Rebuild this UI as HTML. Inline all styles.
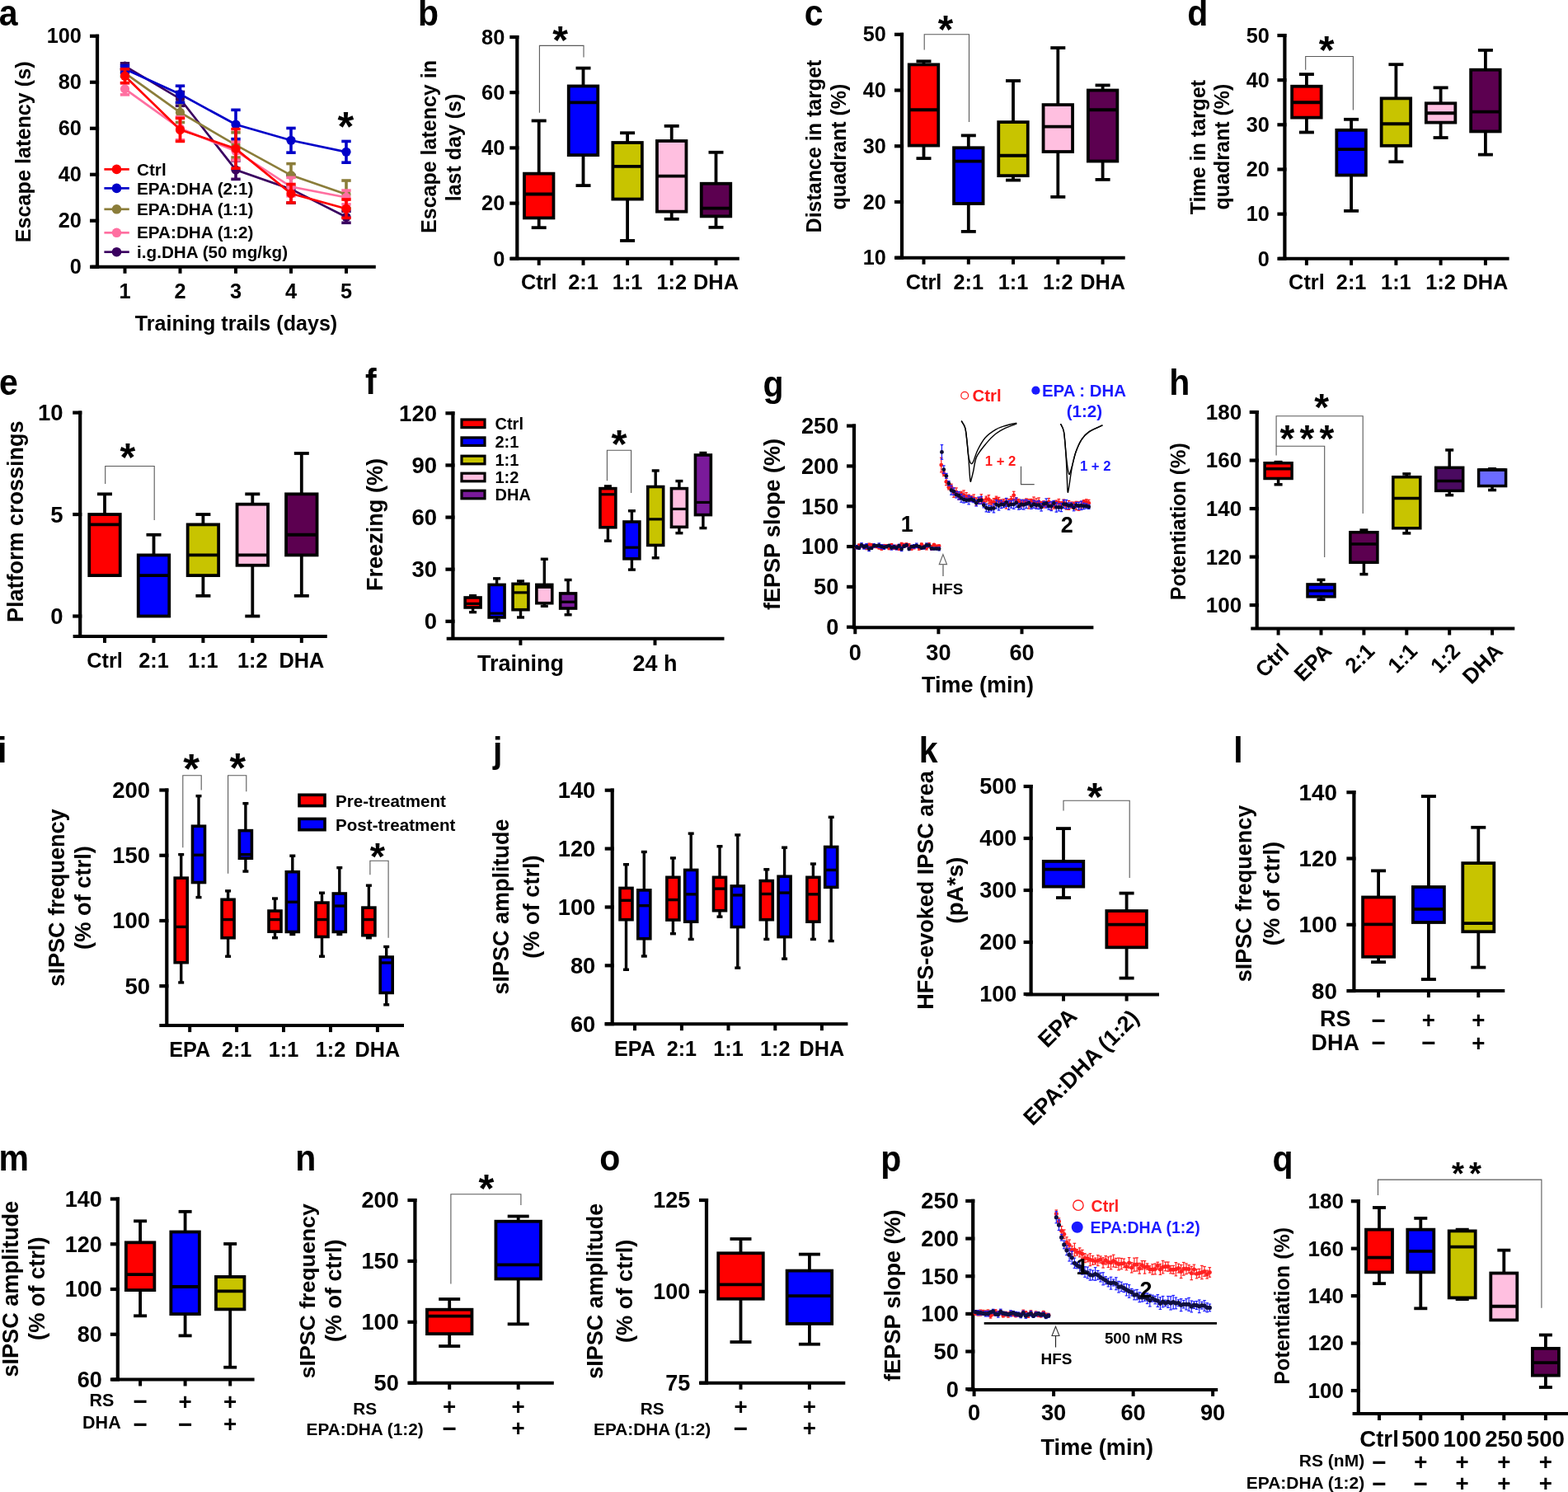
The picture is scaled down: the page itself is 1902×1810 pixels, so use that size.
<!DOCTYPE html>
<html><head><meta charset="utf-8"><title>Figure</title>
<style>html,body{margin:0;padding:0;background:#fff;overflow:hidden}svg{display:block}
text{font-family:"Liberation Sans",Arial,Helvetica,sans-serif;font-weight:bold}</style></head>
<body><svg xmlns="http://www.w3.org/2000/svg" width="1902" height="1810" viewBox="0 0 1902 1810">
<rect width="1902" height="1810" fill="#fff"/>
<text transform="translate(-1.20 30.70) scale(1 1.07)" font-size="41">a</text>
<line x1="118.00" y1="41.65" x2="118.00" y2="323.75" stroke="#000" stroke-width="4.2"/>
<line x1="109.00" y1="43.75" x2="120.10" y2="43.75" stroke="#000" stroke-width="4.2"/>
<text x="98.90" y="52.45" font-size="25.3" text-anchor="end">100</text>
<line x1="109.00" y1="99.75" x2="120.10" y2="99.75" stroke="#000" stroke-width="4.2"/>
<text x="98.90" y="108.45" font-size="25.3" text-anchor="end">80</text>
<line x1="109.00" y1="155.75" x2="120.10" y2="155.75" stroke="#000" stroke-width="4.2"/>
<text x="98.90" y="164.45" font-size="25.3" text-anchor="end">60</text>
<line x1="109.00" y1="211.75" x2="120.10" y2="211.75" stroke="#000" stroke-width="4.2"/>
<text x="98.90" y="220.45" font-size="25.3" text-anchor="end">40</text>
<line x1="109.00" y1="267.75" x2="120.10" y2="267.75" stroke="#000" stroke-width="4.2"/>
<text x="98.90" y="276.45" font-size="25.3" text-anchor="end">20</text>
<line x1="109.00" y1="323.75" x2="120.10" y2="323.75" stroke="#000" stroke-width="4.2"/>
<text x="98.90" y="332.45" font-size="25.3" text-anchor="end">0</text>
<line x1="110.60" y1="323.75" x2="455.80" y2="323.75" stroke="#000" stroke-width="4"/>
<line x1="151.50" y1="323.75" x2="151.50" y2="331.75" stroke="#000" stroke-width="4"/>
<text x="151.50" y="361.90" font-size="25.3" text-anchor="middle">1</text>
<line x1="218.50" y1="323.75" x2="218.50" y2="331.75" stroke="#000" stroke-width="4"/>
<text x="218.50" y="361.90" font-size="25.3" text-anchor="middle">2</text>
<line x1="286.00" y1="323.75" x2="286.00" y2="331.75" stroke="#000" stroke-width="4"/>
<text x="286.00" y="361.90" font-size="25.3" text-anchor="middle">3</text>
<line x1="353.00" y1="323.75" x2="353.00" y2="331.75" stroke="#000" stroke-width="4"/>
<text x="353.00" y="361.90" font-size="25.3" text-anchor="middle">4</text>
<line x1="420.00" y1="323.75" x2="420.00" y2="331.75" stroke="#000" stroke-width="4"/>
<text x="420.00" y="361.90" font-size="25.3" text-anchor="middle">5</text>
<text x="286.50" y="401.30" font-size="25.1" text-anchor="middle">Training trails (days)</text>
<text x="36.90" y="184.30" font-size="25.2" text-anchor="middle" transform="rotate(-90 36.90 184.30)">Escape latency (s)</text>
<polyline points="151.50,80.15 218.50,119.91 286.00,206.15 353.00,229.39 420.00,263.27" fill="none" stroke="#3a0060" stroke-width="2.7"/>
<line x1="151.50" y1="76.79" x2="151.50" y2="83.51" stroke="#3a0060" stroke-width="3.6"/>
<line x1="145.80" y1="76.79" x2="157.20" y2="76.79" stroke="#3a0060" stroke-width="3.6"/>
<line x1="145.80" y1="83.51" x2="157.20" y2="83.51" stroke="#3a0060" stroke-width="3.6"/>
<circle cx="151.50" cy="80.15" r="5.60" fill="#3a0060" stroke="none" stroke-width="1"/>
<line x1="218.50" y1="111.51" x2="218.50" y2="128.31" stroke="#3a0060" stroke-width="3.6"/>
<line x1="212.80" y1="111.51" x2="224.20" y2="111.51" stroke="#3a0060" stroke-width="3.6"/>
<line x1="212.80" y1="128.31" x2="224.20" y2="128.31" stroke="#3a0060" stroke-width="3.6"/>
<circle cx="218.50" cy="119.91" r="5.60" fill="#3a0060" stroke="none" stroke-width="1"/>
<line x1="286.00" y1="194.95" x2="286.00" y2="217.35" stroke="#3a0060" stroke-width="3.6"/>
<line x1="280.30" y1="194.95" x2="291.70" y2="194.95" stroke="#3a0060" stroke-width="3.6"/>
<line x1="280.30" y1="217.35" x2="291.70" y2="217.35" stroke="#3a0060" stroke-width="3.6"/>
<circle cx="286.00" cy="206.15" r="5.60" fill="#3a0060" stroke="none" stroke-width="1"/>
<line x1="353.00" y1="212.59" x2="353.00" y2="246.19" stroke="#3a0060" stroke-width="3.6"/>
<line x1="347.30" y1="212.59" x2="358.70" y2="212.59" stroke="#3a0060" stroke-width="3.6"/>
<line x1="347.30" y1="246.19" x2="358.70" y2="246.19" stroke="#3a0060" stroke-width="3.6"/>
<circle cx="353.00" cy="229.39" r="5.60" fill="#3a0060" stroke="none" stroke-width="1"/>
<line x1="420.00" y1="256.27" x2="420.00" y2="270.27" stroke="#3a0060" stroke-width="3.6"/>
<line x1="414.30" y1="256.27" x2="425.70" y2="256.27" stroke="#3a0060" stroke-width="3.6"/>
<line x1="414.30" y1="270.27" x2="425.70" y2="270.27" stroke="#3a0060" stroke-width="3.6"/>
<circle cx="420.00" cy="263.27" r="5.60" fill="#3a0060" stroke="none" stroke-width="1"/>
<polyline points="151.50,88.55 218.50,136.43 286.00,175.91 353.00,212.59 420.00,235.83" fill="none" stroke="#8b7d3a" stroke-width="2.7"/>
<line x1="151.50" y1="84.35" x2="151.50" y2="92.75" stroke="#8b7d3a" stroke-width="3.6"/>
<line x1="145.80" y1="84.35" x2="157.20" y2="84.35" stroke="#8b7d3a" stroke-width="3.6"/>
<line x1="145.80" y1="92.75" x2="157.20" y2="92.75" stroke="#8b7d3a" stroke-width="3.6"/>
<circle cx="151.50" cy="88.55" r="5.60" fill="#8b7d3a" stroke="none" stroke-width="1"/>
<line x1="218.50" y1="124.39" x2="218.50" y2="148.47" stroke="#8b7d3a" stroke-width="3.6"/>
<line x1="212.80" y1="124.39" x2="224.20" y2="124.39" stroke="#8b7d3a" stroke-width="3.6"/>
<line x1="212.80" y1="148.47" x2="224.20" y2="148.47" stroke="#8b7d3a" stroke-width="3.6"/>
<circle cx="218.50" cy="136.43" r="5.60" fill="#8b7d3a" stroke="none" stroke-width="1"/>
<line x1="286.00" y1="160.79" x2="286.00" y2="191.03" stroke="#8b7d3a" stroke-width="3.6"/>
<line x1="280.30" y1="160.79" x2="291.70" y2="160.79" stroke="#8b7d3a" stroke-width="3.6"/>
<line x1="280.30" y1="191.03" x2="291.70" y2="191.03" stroke="#8b7d3a" stroke-width="3.6"/>
<circle cx="286.00" cy="175.91" r="5.60" fill="#8b7d3a" stroke="none" stroke-width="1"/>
<line x1="353.00" y1="198.59" x2="353.00" y2="226.59" stroke="#8b7d3a" stroke-width="3.6"/>
<line x1="347.30" y1="198.59" x2="358.70" y2="198.59" stroke="#8b7d3a" stroke-width="3.6"/>
<line x1="347.30" y1="226.59" x2="358.70" y2="226.59" stroke="#8b7d3a" stroke-width="3.6"/>
<circle cx="353.00" cy="212.59" r="5.60" fill="#8b7d3a" stroke="none" stroke-width="1"/>
<line x1="420.00" y1="219.03" x2="420.00" y2="252.63" stroke="#8b7d3a" stroke-width="3.6"/>
<line x1="414.30" y1="219.03" x2="425.70" y2="219.03" stroke="#8b7d3a" stroke-width="3.6"/>
<line x1="414.30" y1="252.63" x2="425.70" y2="252.63" stroke="#8b7d3a" stroke-width="3.6"/>
<circle cx="420.00" cy="235.83" r="5.60" fill="#8b7d3a" stroke="none" stroke-width="1"/>
<polyline points="151.50,107.87 218.50,155.75 286.00,183.19 353.00,226.59 420.00,239.47" fill="none" stroke="#ff6fa0" stroke-width="2.7"/>
<line x1="151.50" y1="100.87" x2="151.50" y2="114.87" stroke="#ff6fa0" stroke-width="3.6"/>
<line x1="145.80" y1="100.87" x2="157.20" y2="100.87" stroke="#ff6fa0" stroke-width="3.6"/>
<line x1="145.80" y1="114.87" x2="157.20" y2="114.87" stroke="#ff6fa0" stroke-width="3.6"/>
<circle cx="151.50" cy="107.87" r="5.60" fill="#ff6fa0" stroke="none" stroke-width="1"/>
<line x1="218.50" y1="141.75" x2="218.50" y2="169.75" stroke="#ff6fa0" stroke-width="3.6"/>
<line x1="212.80" y1="141.75" x2="224.20" y2="141.75" stroke="#ff6fa0" stroke-width="3.6"/>
<line x1="212.80" y1="169.75" x2="224.20" y2="169.75" stroke="#ff6fa0" stroke-width="3.6"/>
<circle cx="218.50" cy="155.75" r="5.60" fill="#ff6fa0" stroke="none" stroke-width="1"/>
<line x1="286.00" y1="171.99" x2="286.00" y2="194.39" stroke="#ff6fa0" stroke-width="3.6"/>
<line x1="280.30" y1="171.99" x2="291.70" y2="171.99" stroke="#ff6fa0" stroke-width="3.6"/>
<line x1="280.30" y1="194.39" x2="291.70" y2="194.39" stroke="#ff6fa0" stroke-width="3.6"/>
<circle cx="286.00" cy="183.19" r="5.60" fill="#ff6fa0" stroke="none" stroke-width="1"/>
<line x1="353.00" y1="215.39" x2="353.00" y2="237.79" stroke="#ff6fa0" stroke-width="3.6"/>
<line x1="347.30" y1="215.39" x2="358.70" y2="215.39" stroke="#ff6fa0" stroke-width="3.6"/>
<line x1="347.30" y1="237.79" x2="358.70" y2="237.79" stroke="#ff6fa0" stroke-width="3.6"/>
<circle cx="353.00" cy="226.59" r="5.60" fill="#ff6fa0" stroke="none" stroke-width="1"/>
<line x1="420.00" y1="231.07" x2="420.00" y2="247.87" stroke="#ff6fa0" stroke-width="3.6"/>
<line x1="414.30" y1="231.07" x2="425.70" y2="231.07" stroke="#ff6fa0" stroke-width="3.6"/>
<line x1="414.30" y1="247.87" x2="425.70" y2="247.87" stroke="#ff6fa0" stroke-width="3.6"/>
<circle cx="420.00" cy="239.47" r="5.60" fill="#ff6fa0" stroke="none" stroke-width="1"/>
<polyline points="151.50,83.79 218.50,114.31 286.00,150.99 353.00,170.31 420.00,184.31" fill="none" stroke="#0000c8" stroke-width="2.7"/>
<line x1="151.50" y1="79.59" x2="151.50" y2="87.99" stroke="#0000c8" stroke-width="3.6"/>
<line x1="145.80" y1="79.59" x2="157.20" y2="79.59" stroke="#0000c8" stroke-width="3.6"/>
<line x1="145.80" y1="87.99" x2="157.20" y2="87.99" stroke="#0000c8" stroke-width="3.6"/>
<circle cx="151.50" cy="83.79" r="5.60" fill="#0000c8" stroke="none" stroke-width="1"/>
<line x1="218.50" y1="104.23" x2="218.50" y2="124.39" stroke="#0000c8" stroke-width="3.6"/>
<line x1="212.80" y1="104.23" x2="224.20" y2="104.23" stroke="#0000c8" stroke-width="3.6"/>
<line x1="212.80" y1="124.39" x2="224.20" y2="124.39" stroke="#0000c8" stroke-width="3.6"/>
<circle cx="218.50" cy="114.31" r="5.60" fill="#0000c8" stroke="none" stroke-width="1"/>
<line x1="286.00" y1="133.35" x2="286.00" y2="168.63" stroke="#0000c8" stroke-width="3.6"/>
<line x1="280.30" y1="133.35" x2="291.70" y2="133.35" stroke="#0000c8" stroke-width="3.6"/>
<line x1="280.30" y1="168.63" x2="291.70" y2="168.63" stroke="#0000c8" stroke-width="3.6"/>
<circle cx="286.00" cy="150.99" r="5.60" fill="#0000c8" stroke="none" stroke-width="1"/>
<line x1="353.00" y1="155.47" x2="353.00" y2="185.15" stroke="#0000c8" stroke-width="3.6"/>
<line x1="347.30" y1="155.47" x2="358.70" y2="155.47" stroke="#0000c8" stroke-width="3.6"/>
<line x1="347.30" y1="185.15" x2="358.70" y2="185.15" stroke="#0000c8" stroke-width="3.6"/>
<circle cx="353.00" cy="170.31" r="5.60" fill="#0000c8" stroke="none" stroke-width="1"/>
<line x1="420.00" y1="171.43" x2="420.00" y2="197.19" stroke="#0000c8" stroke-width="3.6"/>
<line x1="414.30" y1="171.43" x2="425.70" y2="171.43" stroke="#0000c8" stroke-width="3.6"/>
<line x1="414.30" y1="197.19" x2="425.70" y2="197.19" stroke="#0000c8" stroke-width="3.6"/>
<circle cx="420.00" cy="184.31" r="5.60" fill="#0000c8" stroke="none" stroke-width="1"/>
<polyline points="151.50,92.19 218.50,157.43 286.00,180.39 353.00,234.71 420.00,253.19" fill="none" stroke="#ff0000" stroke-width="2.7"/>
<line x1="151.50" y1="83.79" x2="151.50" y2="100.59" stroke="#ff0000" stroke-width="3.6"/>
<line x1="145.80" y1="83.79" x2="157.20" y2="83.79" stroke="#ff0000" stroke-width="3.6"/>
<line x1="145.80" y1="100.59" x2="157.20" y2="100.59" stroke="#ff0000" stroke-width="3.6"/>
<circle cx="151.50" cy="92.19" r="5.60" fill="#ff0000" stroke="none" stroke-width="1"/>
<line x1="218.50" y1="143.43" x2="218.50" y2="171.43" stroke="#ff0000" stroke-width="3.6"/>
<line x1="212.80" y1="143.43" x2="224.20" y2="143.43" stroke="#ff0000" stroke-width="3.6"/>
<line x1="212.80" y1="171.43" x2="224.20" y2="171.43" stroke="#ff0000" stroke-width="3.6"/>
<circle cx="218.50" cy="157.43" r="5.60" fill="#ff0000" stroke="none" stroke-width="1"/>
<line x1="286.00" y1="156.59" x2="286.00" y2="204.19" stroke="#ff0000" stroke-width="3.6"/>
<line x1="280.30" y1="156.59" x2="291.70" y2="156.59" stroke="#ff0000" stroke-width="3.6"/>
<line x1="280.30" y1="204.19" x2="291.70" y2="204.19" stroke="#ff0000" stroke-width="3.6"/>
<circle cx="286.00" cy="180.39" r="5.60" fill="#ff0000" stroke="none" stroke-width="1"/>
<line x1="353.00" y1="223.51" x2="353.00" y2="245.91" stroke="#ff0000" stroke-width="3.6"/>
<line x1="347.30" y1="223.51" x2="358.70" y2="223.51" stroke="#ff0000" stroke-width="3.6"/>
<line x1="347.30" y1="245.91" x2="358.70" y2="245.91" stroke="#ff0000" stroke-width="3.6"/>
<circle cx="353.00" cy="234.71" r="5.60" fill="#ff0000" stroke="none" stroke-width="1"/>
<line x1="420.00" y1="241.99" x2="420.00" y2="264.39" stroke="#ff0000" stroke-width="3.6"/>
<line x1="414.30" y1="241.99" x2="425.70" y2="241.99" stroke="#ff0000" stroke-width="3.6"/>
<line x1="414.30" y1="264.39" x2="425.70" y2="264.39" stroke="#ff0000" stroke-width="3.6"/>
<circle cx="420.00" cy="253.19" r="5.60" fill="#ff0000" stroke="none" stroke-width="1"/>
<text x="419.30" y="170.85" font-size="50.8" text-anchor="middle">*</text>
<line x1="126.40" y1="205.40" x2="156.80" y2="205.40" stroke="#ff0000" stroke-width="2.7"/>
<circle cx="141.50" cy="205.40" r="5.80" fill="#ff0000" stroke="none" stroke-width="1"/>
<text x="166.00" y="212.52" font-size="20.7">Ctrl</text>
<line x1="126.40" y1="228.40" x2="156.80" y2="228.40" stroke="#0000c8" stroke-width="2.7"/>
<circle cx="141.50" cy="228.40" r="5.80" fill="#0000c8" stroke="none" stroke-width="1"/>
<text x="166.00" y="235.52" font-size="20.7">EPA:DHA (2:1)</text>
<line x1="126.40" y1="253.80" x2="156.80" y2="253.80" stroke="#8b7d3a" stroke-width="2.7"/>
<circle cx="141.50" cy="253.80" r="5.80" fill="#8b7d3a" stroke="none" stroke-width="1"/>
<text x="166.00" y="260.92" font-size="20.7">EPA:DHA (1:1)</text>
<line x1="126.40" y1="282.30" x2="156.80" y2="282.30" stroke="#ff6fa0" stroke-width="2.7"/>
<circle cx="141.50" cy="282.30" r="5.80" fill="#ff6fa0" stroke="none" stroke-width="1"/>
<text x="166.00" y="289.42" font-size="20.7">EPA:DHA (1:2)</text>
<line x1="126.40" y1="305.70" x2="156.80" y2="305.70" stroke="#3a0060" stroke-width="2.7"/>
<circle cx="141.50" cy="305.70" r="5.80" fill="#3a0060" stroke="none" stroke-width="1"/>
<text x="166.00" y="312.82" font-size="20.7">i.g.DHA (50 mg/kg)</text>
<text transform="translate(506.90 30.70) scale(1 1.07)" font-size="41">b</text>
<line x1="627.30" y1="42.90" x2="627.30" y2="313.80" stroke="#000" stroke-width="4.2"/>
<line x1="618.30" y1="45.00" x2="629.40" y2="45.00" stroke="#000" stroke-width="4.2"/>
<text x="612.30" y="53.74" font-size="25.4" text-anchor="end">80</text>
<line x1="618.30" y1="112.20" x2="629.40" y2="112.20" stroke="#000" stroke-width="4.2"/>
<text x="612.30" y="120.94" font-size="25.4" text-anchor="end">60</text>
<line x1="618.30" y1="179.40" x2="629.40" y2="179.40" stroke="#000" stroke-width="4.2"/>
<text x="612.30" y="188.14" font-size="25.4" text-anchor="end">40</text>
<line x1="618.30" y1="246.60" x2="629.40" y2="246.60" stroke="#000" stroke-width="4.2"/>
<text x="612.30" y="255.34" font-size="25.4" text-anchor="end">20</text>
<line x1="618.30" y1="313.80" x2="629.40" y2="313.80" stroke="#000" stroke-width="4.2"/>
<text x="612.30" y="322.54" font-size="25.4" text-anchor="end">0</text>
<line x1="619.10" y1="313.80" x2="896.80" y2="313.80" stroke="#000" stroke-width="4"/>
<line x1="653.70" y1="313.80" x2="653.70" y2="321.80" stroke="#000" stroke-width="4"/>
<text x="653.70" y="351.30" font-size="25.3" text-anchor="middle">Ctrl</text>
<line x1="707.50" y1="313.80" x2="707.50" y2="321.80" stroke="#000" stroke-width="4"/>
<text x="707.50" y="351.30" font-size="25.3" text-anchor="middle">2:1</text>
<line x1="761.10" y1="313.80" x2="761.10" y2="321.80" stroke="#000" stroke-width="4"/>
<text x="761.10" y="351.30" font-size="25.3" text-anchor="middle">1:1</text>
<line x1="814.70" y1="313.80" x2="814.70" y2="321.80" stroke="#000" stroke-width="4"/>
<text x="814.70" y="351.30" font-size="25.3" text-anchor="middle">1:2</text>
<line x1="868.50" y1="313.80" x2="868.50" y2="321.80" stroke="#000" stroke-width="4"/>
<text x="868.50" y="351.30" font-size="25.3" text-anchor="middle">DHA</text>
<text x="529.40" y="178.00" font-size="25" text-anchor="middle" transform="rotate(-90 529.40 178.00)">Escape latency in</text>
<text x="559.15" y="179.00" font-size="25" text-anchor="middle" transform="rotate(-90 559.15 179.00)">last day (s)</text>
<line x1="653.70" y1="146.47" x2="653.70" y2="210.65" stroke="#000" stroke-width="3.8"/>
<line x1="644.70" y1="146.47" x2="662.70" y2="146.47" stroke="#000" stroke-width="3.8"/>
<line x1="653.70" y1="264.41" x2="653.70" y2="276.17" stroke="#000" stroke-width="3.8"/>
<line x1="644.70" y1="276.17" x2="662.70" y2="276.17" stroke="#000" stroke-width="3.8"/>
<rect x="635.95" y="210.65" width="35.50" height="53.76" fill="#ff0000" stroke="#000" stroke-width="3.8"/>
<line x1="635.95" y1="235.51" x2="671.45" y2="235.51" stroke="#000" stroke-width="3.8"/>
<line x1="707.50" y1="82.63" x2="707.50" y2="104.47" stroke="#000" stroke-width="3.8"/>
<line x1="698.50" y1="82.63" x2="716.50" y2="82.63" stroke="#000" stroke-width="3.8"/>
<line x1="707.50" y1="188.14" x2="707.50" y2="225.10" stroke="#000" stroke-width="3.8"/>
<line x1="698.50" y1="225.10" x2="716.50" y2="225.10" stroke="#000" stroke-width="3.8"/>
<rect x="689.75" y="104.47" width="35.50" height="83.66" fill="#0000ff" stroke="#000" stroke-width="3.8"/>
<line x1="689.75" y1="124.30" x2="725.25" y2="124.30" stroke="#000" stroke-width="3.8"/>
<line x1="761.10" y1="161.26" x2="761.10" y2="173.02" stroke="#000" stroke-width="3.8"/>
<line x1="752.10" y1="161.26" x2="770.10" y2="161.26" stroke="#000" stroke-width="3.8"/>
<line x1="761.10" y1="241.56" x2="761.10" y2="291.96" stroke="#000" stroke-width="3.8"/>
<line x1="752.10" y1="291.96" x2="770.10" y2="291.96" stroke="#000" stroke-width="3.8"/>
<rect x="743.35" y="173.02" width="35.50" height="68.54" fill="#c8c400" stroke="#000" stroke-width="3.8"/>
<line x1="743.35" y1="201.91" x2="778.85" y2="201.91" stroke="#000" stroke-width="3.8"/>
<line x1="814.70" y1="152.86" x2="814.70" y2="171.00" stroke="#000" stroke-width="3.8"/>
<line x1="805.70" y1="152.86" x2="823.70" y2="152.86" stroke="#000" stroke-width="3.8"/>
<line x1="814.70" y1="256.68" x2="814.70" y2="265.75" stroke="#000" stroke-width="3.8"/>
<line x1="805.70" y1="265.75" x2="823.70" y2="265.75" stroke="#000" stroke-width="3.8"/>
<rect x="796.95" y="171.00" width="35.50" height="85.68" fill="#ffbfe0" stroke="#000" stroke-width="3.8"/>
<line x1="796.95" y1="213.67" x2="832.45" y2="213.67" stroke="#000" stroke-width="3.8"/>
<line x1="868.50" y1="184.78" x2="868.50" y2="222.74" stroke="#000" stroke-width="3.8"/>
<line x1="859.50" y1="184.78" x2="877.50" y2="184.78" stroke="#000" stroke-width="3.8"/>
<line x1="868.50" y1="262.39" x2="868.50" y2="275.83" stroke="#000" stroke-width="3.8"/>
<line x1="859.50" y1="275.83" x2="877.50" y2="275.83" stroke="#000" stroke-width="3.8"/>
<rect x="850.75" y="222.74" width="35.50" height="39.65" fill="#5c0050" stroke="#000" stroke-width="3.8"/>
<line x1="850.75" y1="252.65" x2="886.25" y2="252.65" stroke="#000" stroke-width="3.8"/>
<path d="M654.40,136.80 V55.40 H708.00 V69.60" stroke="#5a5a5a" stroke-width="1.1" fill="none"/>
<text x="679.50" y="65.10" font-size="48.11" text-anchor="middle">*</text>
<text transform="translate(975.80 30.70) scale(1 1.07)" font-size="41">c</text>
<line x1="1094.00" y1="39.70" x2="1094.00" y2="312.70" stroke="#000" stroke-width="4.2"/>
<line x1="1085.00" y1="41.80" x2="1096.10" y2="41.80" stroke="#000" stroke-width="4.2"/>
<text x="1074.90" y="50.47" font-size="25.2" text-anchor="end">50</text>
<line x1="1085.00" y1="109.52" x2="1096.10" y2="109.52" stroke="#000" stroke-width="4.2"/>
<text x="1074.90" y="118.19" font-size="25.2" text-anchor="end">40</text>
<line x1="1085.00" y1="177.25" x2="1096.10" y2="177.25" stroke="#000" stroke-width="4.2"/>
<text x="1074.90" y="185.92" font-size="25.2" text-anchor="end">30</text>
<line x1="1085.00" y1="244.97" x2="1096.10" y2="244.97" stroke="#000" stroke-width="4.2"/>
<text x="1074.90" y="253.64" font-size="25.2" text-anchor="end">20</text>
<line x1="1085.00" y1="312.70" x2="1096.10" y2="312.70" stroke="#000" stroke-width="4.2"/>
<text x="1074.90" y="321.37" font-size="25.2" text-anchor="end">10</text>
<line x1="1086.20" y1="312.70" x2="1364.70" y2="312.70" stroke="#000" stroke-width="4"/>
<line x1="1120.50" y1="312.70" x2="1120.50" y2="320.70" stroke="#000" stroke-width="4"/>
<text x="1120.50" y="351.30" font-size="25.3" text-anchor="middle">Ctrl</text>
<line x1="1174.80" y1="312.70" x2="1174.80" y2="320.70" stroke="#000" stroke-width="4"/>
<text x="1174.80" y="351.30" font-size="25.3" text-anchor="middle">2:1</text>
<line x1="1229.00" y1="312.70" x2="1229.00" y2="320.70" stroke="#000" stroke-width="4"/>
<text x="1229.00" y="351.30" font-size="25.3" text-anchor="middle">1:1</text>
<line x1="1283.30" y1="312.70" x2="1283.30" y2="320.70" stroke="#000" stroke-width="4"/>
<text x="1283.30" y="351.30" font-size="25.3" text-anchor="middle">1:2</text>
<line x1="1337.60" y1="312.70" x2="1337.60" y2="320.70" stroke="#000" stroke-width="4"/>
<text x="1337.60" y="351.30" font-size="25.3" text-anchor="middle">DHA</text>
<text x="996.20" y="177.50" font-size="25" text-anchor="middle" transform="rotate(-90 996.20 177.50)">Distance in target</text>
<text x="1025.95" y="178.00" font-size="25" text-anchor="middle" transform="rotate(-90 1025.95 178.00)">quadrant (%)</text>
<line x1="1120.50" y1="74.31" x2="1120.50" y2="78.37" stroke="#000" stroke-width="3.8"/>
<line x1="1111.50" y1="74.31" x2="1129.50" y2="74.31" stroke="#000" stroke-width="3.8"/>
<line x1="1120.50" y1="176.57" x2="1120.50" y2="192.15" stroke="#000" stroke-width="3.8"/>
<line x1="1111.50" y1="192.15" x2="1129.50" y2="192.15" stroke="#000" stroke-width="3.8"/>
<rect x="1102.75" y="78.37" width="35.50" height="98.20" fill="#ff0000" stroke="#000" stroke-width="3.8"/>
<line x1="1102.75" y1="133.23" x2="1138.25" y2="133.23" stroke="#000" stroke-width="3.8"/>
<line x1="1174.80" y1="164.38" x2="1174.80" y2="179.28" stroke="#000" stroke-width="3.8"/>
<line x1="1165.80" y1="164.38" x2="1183.80" y2="164.38" stroke="#000" stroke-width="3.8"/>
<line x1="1174.80" y1="247.01" x2="1174.80" y2="280.87" stroke="#000" stroke-width="3.8"/>
<line x1="1165.80" y1="280.87" x2="1183.80" y2="280.87" stroke="#000" stroke-width="3.8"/>
<rect x="1157.05" y="179.28" width="35.50" height="67.72" fill="#0000ff" stroke="#000" stroke-width="3.8"/>
<line x1="1157.05" y1="195.54" x2="1192.55" y2="195.54" stroke="#000" stroke-width="3.8"/>
<line x1="1229.00" y1="98.01" x2="1229.00" y2="148.13" stroke="#000" stroke-width="3.8"/>
<line x1="1220.00" y1="98.01" x2="1238.00" y2="98.01" stroke="#000" stroke-width="3.8"/>
<line x1="1229.00" y1="213.14" x2="1229.00" y2="218.56" stroke="#000" stroke-width="3.8"/>
<line x1="1220.00" y1="218.56" x2="1238.00" y2="218.56" stroke="#000" stroke-width="3.8"/>
<rect x="1211.25" y="148.13" width="35.50" height="65.02" fill="#c8c400" stroke="#000" stroke-width="3.8"/>
<line x1="1211.25" y1="188.76" x2="1246.75" y2="188.76" stroke="#000" stroke-width="3.8"/>
<line x1="1283.30" y1="58.05" x2="1283.30" y2="127.13" stroke="#000" stroke-width="3.8"/>
<line x1="1274.30" y1="58.05" x2="1292.30" y2="58.05" stroke="#000" stroke-width="3.8"/>
<line x1="1283.30" y1="184.02" x2="1283.30" y2="238.88" stroke="#000" stroke-width="3.8"/>
<line x1="1274.30" y1="238.88" x2="1292.30" y2="238.88" stroke="#000" stroke-width="3.8"/>
<rect x="1265.55" y="127.13" width="35.50" height="56.89" fill="#ffbfe0" stroke="#000" stroke-width="3.8"/>
<line x1="1265.55" y1="153.55" x2="1301.05" y2="153.55" stroke="#000" stroke-width="3.8"/>
<line x1="1337.60" y1="103.43" x2="1337.60" y2="109.52" stroke="#000" stroke-width="3.8"/>
<line x1="1328.60" y1="103.43" x2="1346.60" y2="103.43" stroke="#000" stroke-width="3.8"/>
<line x1="1337.60" y1="195.54" x2="1337.60" y2="217.88" stroke="#000" stroke-width="3.8"/>
<line x1="1328.60" y1="217.88" x2="1346.60" y2="217.88" stroke="#000" stroke-width="3.8"/>
<rect x="1319.85" y="109.52" width="35.50" height="86.01" fill="#5c0050" stroke="#000" stroke-width="3.8"/>
<line x1="1319.85" y1="133.23" x2="1355.35" y2="133.23" stroke="#000" stroke-width="3.8"/>
<path d="M1121.20,60.60 V41.80 H1175.50 V148.00" stroke="#5a5a5a" stroke-width="1.1" fill="none"/>
<text x="1146.90" y="52.24" font-size="47.3" text-anchor="middle">*</text>
<text transform="translate(1440.20 30.70) scale(1 1.07)" font-size="41">d</text>
<line x1="1558.40" y1="40.90" x2="1558.40" y2="313.80" stroke="#000" stroke-width="4.2"/>
<line x1="1549.40" y1="43.00" x2="1560.50" y2="43.00" stroke="#000" stroke-width="4.2"/>
<text x="1539.90" y="51.70" font-size="25.3" text-anchor="end">50</text>
<line x1="1549.40" y1="97.16" x2="1560.50" y2="97.16" stroke="#000" stroke-width="4.2"/>
<text x="1539.90" y="105.86" font-size="25.3" text-anchor="end">40</text>
<line x1="1549.40" y1="151.32" x2="1560.50" y2="151.32" stroke="#000" stroke-width="4.2"/>
<text x="1539.90" y="160.02" font-size="25.3" text-anchor="end">30</text>
<line x1="1549.40" y1="205.48" x2="1560.50" y2="205.48" stroke="#000" stroke-width="4.2"/>
<text x="1539.90" y="214.18" font-size="25.3" text-anchor="end">20</text>
<line x1="1549.40" y1="259.64" x2="1560.50" y2="259.64" stroke="#000" stroke-width="4.2"/>
<text x="1539.90" y="268.34" font-size="25.3" text-anchor="end">10</text>
<line x1="1549.40" y1="313.80" x2="1560.50" y2="313.80" stroke="#000" stroke-width="4.2"/>
<text x="1539.90" y="322.50" font-size="25.3" text-anchor="end">0</text>
<line x1="1551.00" y1="313.80" x2="1830.60" y2="313.80" stroke="#000" stroke-width="4"/>
<line x1="1584.90" y1="313.80" x2="1584.90" y2="321.80" stroke="#000" stroke-width="4"/>
<text x="1584.90" y="351.30" font-size="25.3" text-anchor="middle">Ctrl</text>
<line x1="1639.10" y1="313.80" x2="1639.10" y2="321.80" stroke="#000" stroke-width="4"/>
<text x="1639.10" y="351.30" font-size="25.3" text-anchor="middle">2:1</text>
<line x1="1693.40" y1="313.80" x2="1693.40" y2="321.80" stroke="#000" stroke-width="4"/>
<text x="1693.40" y="351.30" font-size="25.3" text-anchor="middle">1:1</text>
<line x1="1747.60" y1="313.80" x2="1747.60" y2="321.80" stroke="#000" stroke-width="4"/>
<text x="1747.60" y="351.30" font-size="25.3" text-anchor="middle">1:2</text>
<line x1="1801.90" y1="313.80" x2="1801.90" y2="321.80" stroke="#000" stroke-width="4"/>
<text x="1801.90" y="351.30" font-size="25.3" text-anchor="middle">DHA</text>
<text x="1461.70" y="178.60" font-size="25" text-anchor="middle" transform="rotate(-90 1461.70 178.60)">Time in target</text>
<text x="1491.45" y="178.00" font-size="25" text-anchor="middle" transform="rotate(-90 1491.45 178.00)">quadrant (%)</text>
<line x1="1584.90" y1="90.12" x2="1584.90" y2="104.74" stroke="#000" stroke-width="3.8"/>
<line x1="1575.90" y1="90.12" x2="1593.90" y2="90.12" stroke="#000" stroke-width="3.8"/>
<line x1="1584.90" y1="142.65" x2="1584.90" y2="160.53" stroke="#000" stroke-width="3.8"/>
<line x1="1575.90" y1="160.53" x2="1593.90" y2="160.53" stroke="#000" stroke-width="3.8"/>
<rect x="1567.15" y="104.74" width="35.50" height="37.91" fill="#ff0000" stroke="#000" stroke-width="3.8"/>
<line x1="1567.15" y1="124.24" x2="1602.65" y2="124.24" stroke="#000" stroke-width="3.8"/>
<line x1="1639.10" y1="144.82" x2="1639.10" y2="157.82" stroke="#000" stroke-width="3.8"/>
<line x1="1630.10" y1="144.82" x2="1648.10" y2="144.82" stroke="#000" stroke-width="3.8"/>
<line x1="1639.10" y1="212.52" x2="1639.10" y2="255.85" stroke="#000" stroke-width="3.8"/>
<line x1="1630.10" y1="255.85" x2="1648.10" y2="255.85" stroke="#000" stroke-width="3.8"/>
<rect x="1621.35" y="157.82" width="35.50" height="54.70" fill="#0000ff" stroke="#000" stroke-width="3.8"/>
<line x1="1621.35" y1="181.11" x2="1656.85" y2="181.11" stroke="#000" stroke-width="3.8"/>
<line x1="1693.40" y1="78.20" x2="1693.40" y2="119.37" stroke="#000" stroke-width="3.8"/>
<line x1="1684.40" y1="78.20" x2="1702.40" y2="78.20" stroke="#000" stroke-width="3.8"/>
<line x1="1693.40" y1="176.78" x2="1693.40" y2="196.27" stroke="#000" stroke-width="3.8"/>
<line x1="1684.40" y1="196.27" x2="1702.40" y2="196.27" stroke="#000" stroke-width="3.8"/>
<rect x="1675.65" y="119.37" width="35.50" height="57.41" fill="#c8c400" stroke="#000" stroke-width="3.8"/>
<line x1="1675.65" y1="150.24" x2="1711.15" y2="150.24" stroke="#000" stroke-width="3.8"/>
<line x1="1747.60" y1="106.37" x2="1747.60" y2="125.32" stroke="#000" stroke-width="3.8"/>
<line x1="1738.60" y1="106.37" x2="1756.60" y2="106.37" stroke="#000" stroke-width="3.8"/>
<line x1="1747.60" y1="148.61" x2="1747.60" y2="167.03" stroke="#000" stroke-width="3.8"/>
<line x1="1738.60" y1="167.03" x2="1756.60" y2="167.03" stroke="#000" stroke-width="3.8"/>
<rect x="1729.85" y="125.32" width="35.50" height="23.29" fill="#ffbfe0" stroke="#000" stroke-width="3.8"/>
<line x1="1729.85" y1="137.24" x2="1765.35" y2="137.24" stroke="#000" stroke-width="3.8"/>
<line x1="1801.90" y1="60.87" x2="1801.90" y2="84.70" stroke="#000" stroke-width="3.8"/>
<line x1="1792.90" y1="60.87" x2="1810.90" y2="60.87" stroke="#000" stroke-width="3.8"/>
<line x1="1801.90" y1="159.44" x2="1801.90" y2="187.61" stroke="#000" stroke-width="3.8"/>
<line x1="1792.90" y1="187.61" x2="1810.90" y2="187.61" stroke="#000" stroke-width="3.8"/>
<rect x="1784.15" y="84.70" width="35.50" height="74.74" fill="#5c0050" stroke="#000" stroke-width="3.8"/>
<line x1="1784.15" y1="135.61" x2="1819.65" y2="135.61" stroke="#000" stroke-width="3.8"/>
<path d="M1583.70,84.80 V68.50 H1641.40 V133.40" stroke="#5a5a5a" stroke-width="1.1" fill="none"/>
<text x="1609.10" y="77.20" font-size="48.11" text-anchor="middle">*</text>
<text transform="translate(-1.00 479.30) scale(1 1.07)" font-size="41">e</text>
<line x1="97.20" y1="498.50" x2="97.20" y2="771.90" stroke="#000" stroke-width="4.2"/>
<line x1="88.20" y1="500.60" x2="99.30" y2="500.60" stroke="#000" stroke-width="4.2"/>
<text x="76.60" y="510.06" font-size="27.5" text-anchor="end">10</text>
<line x1="88.20" y1="624.05" x2="99.30" y2="624.05" stroke="#000" stroke-width="4.2"/>
<text x="76.60" y="633.51" font-size="27.5" text-anchor="end">5</text>
<line x1="88.20" y1="747.50" x2="99.30" y2="747.50" stroke="#000" stroke-width="4.2"/>
<text x="76.60" y="756.96" font-size="27.5" text-anchor="end">0</text>
<line x1="88.60" y1="771.90" x2="396.80" y2="771.90" stroke="#000" stroke-width="4"/>
<line x1="127.00" y1="771.90" x2="127.00" y2="779.90" stroke="#000" stroke-width="4"/>
<text x="127.00" y="809.70" font-size="25.3" text-anchor="middle">Ctrl</text>
<line x1="186.50" y1="771.90" x2="186.50" y2="779.90" stroke="#000" stroke-width="4"/>
<text x="186.50" y="809.70" font-size="25.3" text-anchor="middle">2:1</text>
<line x1="246.40" y1="771.90" x2="246.40" y2="779.90" stroke="#000" stroke-width="4"/>
<text x="246.40" y="809.70" font-size="25.3" text-anchor="middle">1:1</text>
<line x1="306.30" y1="771.90" x2="306.30" y2="779.90" stroke="#000" stroke-width="4"/>
<text x="306.30" y="809.70" font-size="25.3" text-anchor="middle">1:2</text>
<line x1="365.80" y1="771.90" x2="365.80" y2="779.90" stroke="#000" stroke-width="4"/>
<text x="365.80" y="809.70" font-size="25.3" text-anchor="middle">DHA</text>
<text x="28.23" y="632.70" font-size="27" text-anchor="middle" transform="rotate(-90 28.23 632.70)">Platform crossings</text>
<line x1="127.00" y1="599.36" x2="127.00" y2="624.05" stroke="#000" stroke-width="3.8"/>
<line x1="118.00" y1="599.36" x2="136.00" y2="599.36" stroke="#000" stroke-width="3.8"/>
<rect x="108.25" y="624.05" width="37.50" height="74.07" fill="#ff0000" stroke="#000" stroke-width="3.8"/>
<line x1="108.25" y1="636.39" x2="145.75" y2="636.39" stroke="#000" stroke-width="3.8"/>
<line x1="186.50" y1="648.74" x2="186.50" y2="673.43" stroke="#000" stroke-width="3.8"/>
<line x1="177.50" y1="648.74" x2="195.50" y2="648.74" stroke="#000" stroke-width="3.8"/>
<rect x="167.75" y="673.43" width="37.50" height="74.07" fill="#0000ff" stroke="#000" stroke-width="3.8"/>
<line x1="167.75" y1="698.12" x2="205.25" y2="698.12" stroke="#000" stroke-width="3.8"/>
<line x1="246.40" y1="624.05" x2="246.40" y2="636.39" stroke="#000" stroke-width="3.8"/>
<line x1="237.40" y1="624.05" x2="255.40" y2="624.05" stroke="#000" stroke-width="3.8"/>
<line x1="246.40" y1="698.12" x2="246.40" y2="722.81" stroke="#000" stroke-width="3.8"/>
<line x1="237.40" y1="722.81" x2="255.40" y2="722.81" stroke="#000" stroke-width="3.8"/>
<rect x="227.65" y="636.39" width="37.50" height="61.73" fill="#c8c400" stroke="#000" stroke-width="3.8"/>
<line x1="227.65" y1="673.43" x2="265.15" y2="673.43" stroke="#000" stroke-width="3.8"/>
<line x1="306.30" y1="599.36" x2="306.30" y2="611.71" stroke="#000" stroke-width="3.8"/>
<line x1="297.30" y1="599.36" x2="315.30" y2="599.36" stroke="#000" stroke-width="3.8"/>
<line x1="306.30" y1="685.77" x2="306.30" y2="747.50" stroke="#000" stroke-width="3.8"/>
<line x1="297.30" y1="747.50" x2="315.30" y2="747.50" stroke="#000" stroke-width="3.8"/>
<rect x="287.55" y="611.71" width="37.50" height="74.07" fill="#ffbfe0" stroke="#000" stroke-width="3.8"/>
<line x1="287.55" y1="673.43" x2="325.05" y2="673.43" stroke="#000" stroke-width="3.8"/>
<line x1="365.80" y1="549.98" x2="365.80" y2="599.36" stroke="#000" stroke-width="3.8"/>
<line x1="356.80" y1="549.98" x2="374.80" y2="549.98" stroke="#000" stroke-width="3.8"/>
<line x1="365.80" y1="673.43" x2="365.80" y2="722.81" stroke="#000" stroke-width="3.8"/>
<line x1="356.80" y1="722.81" x2="374.80" y2="722.81" stroke="#000" stroke-width="3.8"/>
<rect x="347.05" y="599.36" width="37.50" height="74.07" fill="#5c0050" stroke="#000" stroke-width="3.8"/>
<line x1="347.05" y1="648.74" x2="384.55" y2="648.74" stroke="#000" stroke-width="3.8"/>
<path d="M127.70,587.00 V565.50 H187.20 V631.00" stroke="#5a5a5a" stroke-width="1.1" fill="none"/>
<text x="154.90" y="571.05" font-size="48.11" text-anchor="middle">*</text>
<text transform="translate(443.10 478.30) scale(1 1.07)" font-size="41">f</text>
<line x1="549.40" y1="499.20" x2="549.40" y2="774.80" stroke="#000" stroke-width="4.2"/>
<line x1="540.40" y1="501.30" x2="551.50" y2="501.30" stroke="#000" stroke-width="4.2"/>
<text x="530.00" y="510.76" font-size="27.5" text-anchor="end">120</text>
<line x1="540.40" y1="564.42" x2="551.50" y2="564.42" stroke="#000" stroke-width="4.2"/>
<text x="530.00" y="573.88" font-size="27.5" text-anchor="end">90</text>
<line x1="540.40" y1="627.55" x2="551.50" y2="627.55" stroke="#000" stroke-width="4.2"/>
<text x="530.00" y="637.01" font-size="27.5" text-anchor="end">60</text>
<line x1="540.40" y1="690.67" x2="551.50" y2="690.67" stroke="#000" stroke-width="4.2"/>
<text x="530.00" y="700.13" font-size="27.5" text-anchor="end">30</text>
<line x1="540.40" y1="753.80" x2="551.50" y2="753.80" stroke="#000" stroke-width="4.2"/>
<text x="530.00" y="763.26" font-size="27.5" text-anchor="end">0</text>
<line x1="541.70" y1="774.80" x2="878.50" y2="774.80" stroke="#000" stroke-width="4"/>
<line x1="631.40" y1="774.80" x2="631.40" y2="782.80" stroke="#000" stroke-width="4"/>
<line x1="794.50" y1="774.80" x2="794.50" y2="782.80" stroke="#000" stroke-width="4"/>
<text x="631.40" y="814.10" font-size="27" text-anchor="middle">Training</text>
<text x="794.50" y="814.10" font-size="27" text-anchor="middle">24 h</text>
<text x="463.83" y="636.50" font-size="27.1" text-anchor="middle" transform="rotate(-90 463.83 636.50)">Freezing (%)</text>
<line x1="573.60" y1="722.66" x2="573.60" y2="724.97" stroke="#000" stroke-width="3.4"/>
<line x1="569.10" y1="722.66" x2="578.10" y2="722.66" stroke="#000" stroke-width="3.4"/>
<line x1="573.60" y1="736.97" x2="573.60" y2="742.65" stroke="#000" stroke-width="3.4"/>
<line x1="569.10" y1="742.65" x2="578.10" y2="742.65" stroke="#000" stroke-width="3.4"/>
<rect x="564.15" y="724.97" width="18.90" height="11.99" fill="#ff0000" stroke="#000" stroke-width="3.6"/>
<line x1="564.15" y1="732.34" x2="583.05" y2="732.34" stroke="#000" stroke-width="3.2"/>
<line x1="602.60" y1="701.83" x2="602.60" y2="709.40" stroke="#000" stroke-width="3.4"/>
<line x1="598.10" y1="701.83" x2="607.10" y2="701.83" stroke="#000" stroke-width="3.4"/>
<line x1="602.60" y1="748.96" x2="602.60" y2="752.96" stroke="#000" stroke-width="3.4"/>
<line x1="598.10" y1="752.96" x2="607.10" y2="752.96" stroke="#000" stroke-width="3.4"/>
<rect x="593.15" y="709.40" width="18.90" height="39.56" fill="#0000ff" stroke="#000" stroke-width="3.6"/>
<line x1="593.15" y1="744.12" x2="612.05" y2="744.12" stroke="#000" stroke-width="3.2"/>
<line x1="631.50" y1="704.98" x2="631.50" y2="708.35" stroke="#000" stroke-width="3.4"/>
<line x1="627.00" y1="704.98" x2="636.00" y2="704.98" stroke="#000" stroke-width="3.4"/>
<line x1="631.50" y1="739.70" x2="631.50" y2="748.96" stroke="#000" stroke-width="3.4"/>
<line x1="627.00" y1="748.96" x2="636.00" y2="748.96" stroke="#000" stroke-width="3.4"/>
<rect x="622.05" y="708.35" width="18.90" height="31.35" fill="#c8c400" stroke="#000" stroke-width="3.6"/>
<line x1="622.05" y1="718.87" x2="640.95" y2="718.87" stroke="#000" stroke-width="3.2"/>
<line x1="660.30" y1="678.26" x2="660.30" y2="709.40" stroke="#000" stroke-width="3.4"/>
<line x1="655.80" y1="678.26" x2="664.80" y2="678.26" stroke="#000" stroke-width="3.4"/>
<line x1="660.30" y1="731.71" x2="660.30" y2="735.28" stroke="#000" stroke-width="3.4"/>
<line x1="655.80" y1="735.28" x2="664.80" y2="735.28" stroke="#000" stroke-width="3.4"/>
<rect x="650.85" y="709.40" width="18.90" height="22.30" fill="#ffbfe0" stroke="#000" stroke-width="3.6"/>
<line x1="650.85" y1="712.35" x2="669.75" y2="712.35" stroke="#000" stroke-width="3.2"/>
<line x1="689.10" y1="703.51" x2="689.10" y2="719.92" stroke="#000" stroke-width="3.4"/>
<line x1="684.60" y1="703.51" x2="693.60" y2="703.51" stroke="#000" stroke-width="3.4"/>
<line x1="689.10" y1="738.02" x2="689.10" y2="745.80" stroke="#000" stroke-width="3.4"/>
<line x1="684.60" y1="745.80" x2="693.60" y2="745.80" stroke="#000" stroke-width="3.4"/>
<rect x="679.65" y="719.92" width="18.90" height="18.10" fill="#7a1a9a" stroke="#000" stroke-width="3.6"/>
<line x1="679.65" y1="730.23" x2="698.55" y2="730.23" stroke="#000" stroke-width="3.2"/>
<line x1="737.40" y1="589.89" x2="737.40" y2="592.62" stroke="#000" stroke-width="3.4"/>
<line x1="732.90" y1="589.89" x2="741.90" y2="589.89" stroke="#000" stroke-width="3.4"/>
<line x1="737.40" y1="639.75" x2="737.40" y2="656.17" stroke="#000" stroke-width="3.4"/>
<line x1="732.90" y1="656.17" x2="741.90" y2="656.17" stroke="#000" stroke-width="3.4"/>
<rect x="727.95" y="592.62" width="18.90" height="47.13" fill="#ff0000" stroke="#000" stroke-width="3.6"/>
<line x1="727.95" y1="599.77" x2="746.85" y2="599.77" stroke="#000" stroke-width="3.2"/>
<line x1="766.40" y1="619.76" x2="766.40" y2="633.02" stroke="#000" stroke-width="3.4"/>
<line x1="761.90" y1="619.76" x2="770.90" y2="619.76" stroke="#000" stroke-width="3.4"/>
<line x1="766.40" y1="677.84" x2="766.40" y2="691.10" stroke="#000" stroke-width="3.4"/>
<line x1="761.90" y1="691.10" x2="770.90" y2="691.10" stroke="#000" stroke-width="3.4"/>
<rect x="756.95" y="633.02" width="18.90" height="44.82" fill="#0000ff" stroke="#000" stroke-width="3.6"/>
<line x1="756.95" y1="664.16" x2="775.85" y2="664.16" stroke="#000" stroke-width="3.2"/>
<line x1="795.20" y1="570.95" x2="795.20" y2="590.52" stroke="#000" stroke-width="3.4"/>
<line x1="790.70" y1="570.95" x2="799.70" y2="570.95" stroke="#000" stroke-width="3.4"/>
<line x1="795.20" y1="661.43" x2="795.20" y2="676.79" stroke="#000" stroke-width="3.4"/>
<line x1="790.70" y1="676.79" x2="799.70" y2="676.79" stroke="#000" stroke-width="3.4"/>
<rect x="785.75" y="590.52" width="18.90" height="70.91" fill="#c8c400" stroke="#000" stroke-width="3.6"/>
<line x1="785.75" y1="629.86" x2="804.65" y2="629.86" stroke="#000" stroke-width="3.2"/>
<line x1="823.90" y1="583.57" x2="823.90" y2="592.62" stroke="#000" stroke-width="3.4"/>
<line x1="819.40" y1="583.57" x2="828.40" y2="583.57" stroke="#000" stroke-width="3.4"/>
<line x1="823.90" y1="639.33" x2="823.90" y2="646.70" stroke="#000" stroke-width="3.4"/>
<line x1="819.40" y1="646.70" x2="828.40" y2="646.70" stroke="#000" stroke-width="3.4"/>
<rect x="814.45" y="592.62" width="18.90" height="46.71" fill="#ffbfe0" stroke="#000" stroke-width="3.6"/>
<line x1="814.45" y1="617.45" x2="833.35" y2="617.45" stroke="#000" stroke-width="3.2"/>
<line x1="852.90" y1="549.49" x2="852.90" y2="552.01" stroke="#000" stroke-width="3.4"/>
<line x1="848.40" y1="549.49" x2="857.40" y2="549.49" stroke="#000" stroke-width="3.4"/>
<line x1="852.90" y1="624.60" x2="852.90" y2="640.60" stroke="#000" stroke-width="3.4"/>
<line x1="848.40" y1="640.60" x2="857.40" y2="640.60" stroke="#000" stroke-width="3.4"/>
<rect x="843.45" y="552.01" width="18.90" height="72.59" fill="#7a1a9a" stroke="#000" stroke-width="3.6"/>
<line x1="843.45" y1="609.45" x2="862.35" y2="609.45" stroke="#000" stroke-width="3.2"/>
<path d="M736.40,583.30 V546.30 H765.60 V598.10" stroke="#5a5a5a" stroke-width="1.1" fill="none"/>
<text x="751.10" y="555.15" font-size="48.92" text-anchor="middle">*</text>
<rect x="560.00" y="509.00" width="28.00" height="9.60" fill="#ff0000" stroke="#000" stroke-width="3.2"/>
<text x="600.50" y="520.68" font-size="20">Ctrl</text>
<rect x="560.00" y="530.90" width="28.00" height="9.60" fill="#0000ff" stroke="#000" stroke-width="3.2"/>
<text x="600.50" y="542.58" font-size="20">2:1</text>
<rect x="560.00" y="553.20" width="28.00" height="9.60" fill="#c8c400" stroke="#000" stroke-width="3.2"/>
<text x="600.50" y="564.88" font-size="20">1:1</text>
<rect x="560.00" y="574.20" width="28.00" height="9.60" fill="#ffbfe0" stroke="#000" stroke-width="3.2"/>
<text x="600.50" y="585.88" font-size="20">1:2</text>
<rect x="560.00" y="595.20" width="28.00" height="9.60" fill="#7a1a9a" stroke="#000" stroke-width="3.2"/>
<text x="600.50" y="606.88" font-size="20">DHA</text>
<text transform="translate(925.50 481.00) scale(1 1.07)" font-size="41">g</text>
<line x1="1036.00" y1="514.50" x2="1036.00" y2="761.20" stroke="#000" stroke-width="4.2"/>
<line x1="1027.00" y1="516.60" x2="1038.10" y2="516.60" stroke="#000" stroke-width="4.2"/>
<text x="1017.30" y="525.96" font-size="27.2" text-anchor="end">250</text>
<line x1="1027.00" y1="565.42" x2="1038.10" y2="565.42" stroke="#000" stroke-width="4.2"/>
<text x="1017.30" y="574.78" font-size="27.2" text-anchor="end">200</text>
<line x1="1027.00" y1="614.24" x2="1038.10" y2="614.24" stroke="#000" stroke-width="4.2"/>
<text x="1017.30" y="623.60" font-size="27.2" text-anchor="end">150</text>
<line x1="1027.00" y1="663.06" x2="1038.10" y2="663.06" stroke="#000" stroke-width="4.2"/>
<text x="1017.30" y="672.42" font-size="27.2" text-anchor="end">100</text>
<line x1="1027.00" y1="711.88" x2="1038.10" y2="711.88" stroke="#000" stroke-width="4.2"/>
<text x="1017.30" y="721.24" font-size="27.2" text-anchor="end">50</text>
<line x1="1027.00" y1="760.70" x2="1038.10" y2="760.70" stroke="#000" stroke-width="4.2"/>
<text x="1017.30" y="770.06" font-size="27.2" text-anchor="end">0</text>
<line x1="1033.60" y1="761.20" x2="1326.40" y2="761.20" stroke="#000" stroke-width="4"/>
<line x1="1037.30" y1="761.20" x2="1037.30" y2="769.20" stroke="#000" stroke-width="4"/>
<line x1="1138.40" y1="761.20" x2="1138.40" y2="769.20" stroke="#000" stroke-width="4"/>
<line x1="1239.50" y1="761.20" x2="1239.50" y2="769.20" stroke="#000" stroke-width="4"/>
<text x="1037.30" y="800.80" font-size="27.2" text-anchor="middle">0</text>
<text x="1138.40" y="800.80" font-size="27.2" text-anchor="middle">30</text>
<text x="1239.50" y="800.80" font-size="27.2" text-anchor="middle">60</text>
<text x="1186.00" y="840.30" font-size="27" text-anchor="middle">Time (min)</text>
<text x="946.33" y="636.00" font-size="27" text-anchor="middle" transform="rotate(-90 946.33 636.00)">fEPSP slope (%)</text>
<line x1="1038.98" y1="663.03" x2="1038.98" y2="665.55" stroke="#ff1a1a" stroke-width="1.2"/>
<line x1="1037.18" y1="663.03" x2="1040.78" y2="663.03" stroke="#ff1a1a" stroke-width="1.2"/>
<line x1="1037.18" y1="665.55" x2="1040.78" y2="665.55" stroke="#ff1a1a" stroke-width="1.2"/>
<line x1="1042.02" y1="660.05" x2="1042.02" y2="663.92" stroke="#ff1a1a" stroke-width="1.2"/>
<line x1="1040.22" y1="660.05" x2="1043.82" y2="660.05" stroke="#ff1a1a" stroke-width="1.2"/>
<line x1="1040.22" y1="663.92" x2="1043.82" y2="663.92" stroke="#ff1a1a" stroke-width="1.2"/>
<line x1="1045.05" y1="660.62" x2="1045.05" y2="663.83" stroke="#ff1a1a" stroke-width="1.2"/>
<line x1="1043.25" y1="660.62" x2="1046.85" y2="660.62" stroke="#ff1a1a" stroke-width="1.2"/>
<line x1="1043.25" y1="663.83" x2="1046.85" y2="663.83" stroke="#ff1a1a" stroke-width="1.2"/>
<line x1="1048.08" y1="660.50" x2="1048.08" y2="665.32" stroke="#ff1a1a" stroke-width="1.2"/>
<line x1="1046.28" y1="660.50" x2="1049.88" y2="660.50" stroke="#ff1a1a" stroke-width="1.2"/>
<line x1="1046.28" y1="665.32" x2="1049.88" y2="665.32" stroke="#ff1a1a" stroke-width="1.2"/>
<line x1="1051.12" y1="661.46" x2="1051.12" y2="666.67" stroke="#ff1a1a" stroke-width="1.2"/>
<line x1="1049.32" y1="661.46" x2="1052.92" y2="661.46" stroke="#ff1a1a" stroke-width="1.2"/>
<line x1="1049.32" y1="666.67" x2="1052.92" y2="666.67" stroke="#ff1a1a" stroke-width="1.2"/>
<line x1="1054.15" y1="659.09" x2="1054.15" y2="663.97" stroke="#ff1a1a" stroke-width="1.2"/>
<line x1="1052.35" y1="659.09" x2="1055.95" y2="659.09" stroke="#ff1a1a" stroke-width="1.2"/>
<line x1="1052.35" y1="663.97" x2="1055.95" y2="663.97" stroke="#ff1a1a" stroke-width="1.2"/>
<line x1="1057.18" y1="659.49" x2="1057.18" y2="663.44" stroke="#ff1a1a" stroke-width="1.2"/>
<line x1="1055.38" y1="659.49" x2="1058.98" y2="659.49" stroke="#ff1a1a" stroke-width="1.2"/>
<line x1="1055.38" y1="663.44" x2="1058.98" y2="663.44" stroke="#ff1a1a" stroke-width="1.2"/>
<line x1="1060.22" y1="661.17" x2="1060.22" y2="664.35" stroke="#ff1a1a" stroke-width="1.2"/>
<line x1="1058.42" y1="661.17" x2="1062.02" y2="661.17" stroke="#ff1a1a" stroke-width="1.2"/>
<line x1="1058.42" y1="664.35" x2="1062.02" y2="664.35" stroke="#ff1a1a" stroke-width="1.2"/>
<line x1="1063.25" y1="660.94" x2="1063.25" y2="664.64" stroke="#ff1a1a" stroke-width="1.2"/>
<line x1="1061.45" y1="660.94" x2="1065.05" y2="660.94" stroke="#ff1a1a" stroke-width="1.2"/>
<line x1="1061.45" y1="664.64" x2="1065.05" y2="664.64" stroke="#ff1a1a" stroke-width="1.2"/>
<line x1="1066.28" y1="661.95" x2="1066.28" y2="666.00" stroke="#ff1a1a" stroke-width="1.2"/>
<line x1="1064.48" y1="661.95" x2="1068.08" y2="661.95" stroke="#ff1a1a" stroke-width="1.2"/>
<line x1="1064.48" y1="666.00" x2="1068.08" y2="666.00" stroke="#ff1a1a" stroke-width="1.2"/>
<line x1="1069.32" y1="662.72" x2="1069.32" y2="667.28" stroke="#ff1a1a" stroke-width="1.2"/>
<line x1="1067.52" y1="662.72" x2="1071.12" y2="662.72" stroke="#ff1a1a" stroke-width="1.2"/>
<line x1="1067.52" y1="667.28" x2="1071.12" y2="667.28" stroke="#ff1a1a" stroke-width="1.2"/>
<line x1="1072.35" y1="660.52" x2="1072.35" y2="666.25" stroke="#ff1a1a" stroke-width="1.2"/>
<line x1="1070.55" y1="660.52" x2="1074.15" y2="660.52" stroke="#ff1a1a" stroke-width="1.2"/>
<line x1="1070.55" y1="666.25" x2="1074.15" y2="666.25" stroke="#ff1a1a" stroke-width="1.2"/>
<line x1="1075.38" y1="661.12" x2="1075.38" y2="663.76" stroke="#ff1a1a" stroke-width="1.2"/>
<line x1="1073.58" y1="661.12" x2="1077.18" y2="661.12" stroke="#ff1a1a" stroke-width="1.2"/>
<line x1="1073.58" y1="663.76" x2="1077.18" y2="663.76" stroke="#ff1a1a" stroke-width="1.2"/>
<line x1="1078.41" y1="662.69" x2="1078.41" y2="666.72" stroke="#ff1a1a" stroke-width="1.2"/>
<line x1="1076.61" y1="662.69" x2="1080.21" y2="662.69" stroke="#ff1a1a" stroke-width="1.2"/>
<line x1="1076.61" y1="666.72" x2="1080.21" y2="666.72" stroke="#ff1a1a" stroke-width="1.2"/>
<line x1="1081.45" y1="659.49" x2="1081.45" y2="663.56" stroke="#ff1a1a" stroke-width="1.2"/>
<line x1="1079.65" y1="659.49" x2="1083.25" y2="659.49" stroke="#ff1a1a" stroke-width="1.2"/>
<line x1="1079.65" y1="663.56" x2="1083.25" y2="663.56" stroke="#ff1a1a" stroke-width="1.2"/>
<line x1="1084.48" y1="661.56" x2="1084.48" y2="666.42" stroke="#ff1a1a" stroke-width="1.2"/>
<line x1="1082.68" y1="661.56" x2="1086.28" y2="661.56" stroke="#ff1a1a" stroke-width="1.2"/>
<line x1="1082.68" y1="666.42" x2="1086.28" y2="666.42" stroke="#ff1a1a" stroke-width="1.2"/>
<line x1="1087.51" y1="661.25" x2="1087.51" y2="666.73" stroke="#ff1a1a" stroke-width="1.2"/>
<line x1="1085.71" y1="661.25" x2="1089.31" y2="661.25" stroke="#ff1a1a" stroke-width="1.2"/>
<line x1="1085.71" y1="666.73" x2="1089.31" y2="666.73" stroke="#ff1a1a" stroke-width="1.2"/>
<line x1="1090.55" y1="662.29" x2="1090.55" y2="667.37" stroke="#ff1a1a" stroke-width="1.2"/>
<line x1="1088.75" y1="662.29" x2="1092.35" y2="662.29" stroke="#ff1a1a" stroke-width="1.2"/>
<line x1="1088.75" y1="667.37" x2="1092.35" y2="667.37" stroke="#ff1a1a" stroke-width="1.2"/>
<line x1="1093.58" y1="658.36" x2="1093.58" y2="662.90" stroke="#ff1a1a" stroke-width="1.2"/>
<line x1="1091.78" y1="658.36" x2="1095.38" y2="658.36" stroke="#ff1a1a" stroke-width="1.2"/>
<line x1="1091.78" y1="662.90" x2="1095.38" y2="662.90" stroke="#ff1a1a" stroke-width="1.2"/>
<line x1="1096.61" y1="659.26" x2="1096.61" y2="664.27" stroke="#ff1a1a" stroke-width="1.2"/>
<line x1="1094.81" y1="659.26" x2="1098.41" y2="659.26" stroke="#ff1a1a" stroke-width="1.2"/>
<line x1="1094.81" y1="664.27" x2="1098.41" y2="664.27" stroke="#ff1a1a" stroke-width="1.2"/>
<line x1="1099.64" y1="658.82" x2="1099.64" y2="663.51" stroke="#ff1a1a" stroke-width="1.2"/>
<line x1="1097.85" y1="658.82" x2="1101.44" y2="658.82" stroke="#ff1a1a" stroke-width="1.2"/>
<line x1="1097.85" y1="663.51" x2="1101.44" y2="663.51" stroke="#ff1a1a" stroke-width="1.2"/>
<line x1="1102.68" y1="659.63" x2="1102.68" y2="664.99" stroke="#ff1a1a" stroke-width="1.2"/>
<line x1="1100.88" y1="659.63" x2="1104.48" y2="659.63" stroke="#ff1a1a" stroke-width="1.2"/>
<line x1="1100.88" y1="664.99" x2="1104.48" y2="664.99" stroke="#ff1a1a" stroke-width="1.2"/>
<line x1="1105.71" y1="662.46" x2="1105.71" y2="667.26" stroke="#ff1a1a" stroke-width="1.2"/>
<line x1="1103.91" y1="662.46" x2="1107.51" y2="662.46" stroke="#ff1a1a" stroke-width="1.2"/>
<line x1="1103.91" y1="667.26" x2="1107.51" y2="667.26" stroke="#ff1a1a" stroke-width="1.2"/>
<line x1="1108.74" y1="661.20" x2="1108.74" y2="665.94" stroke="#ff1a1a" stroke-width="1.2"/>
<line x1="1106.94" y1="661.20" x2="1110.54" y2="661.20" stroke="#ff1a1a" stroke-width="1.2"/>
<line x1="1106.94" y1="665.94" x2="1110.54" y2="665.94" stroke="#ff1a1a" stroke-width="1.2"/>
<line x1="1111.78" y1="661.22" x2="1111.78" y2="664.43" stroke="#ff1a1a" stroke-width="1.2"/>
<line x1="1109.98" y1="661.22" x2="1113.58" y2="661.22" stroke="#ff1a1a" stroke-width="1.2"/>
<line x1="1109.98" y1="664.43" x2="1113.58" y2="664.43" stroke="#ff1a1a" stroke-width="1.2"/>
<line x1="1114.81" y1="661.72" x2="1114.81" y2="667.29" stroke="#ff1a1a" stroke-width="1.2"/>
<line x1="1113.01" y1="661.72" x2="1116.61" y2="661.72" stroke="#ff1a1a" stroke-width="1.2"/>
<line x1="1113.01" y1="667.29" x2="1116.61" y2="667.29" stroke="#ff1a1a" stroke-width="1.2"/>
<line x1="1117.84" y1="658.98" x2="1117.84" y2="662.68" stroke="#ff1a1a" stroke-width="1.2"/>
<line x1="1116.04" y1="658.98" x2="1119.64" y2="658.98" stroke="#ff1a1a" stroke-width="1.2"/>
<line x1="1116.04" y1="662.68" x2="1119.64" y2="662.68" stroke="#ff1a1a" stroke-width="1.2"/>
<line x1="1120.88" y1="661.14" x2="1120.88" y2="665.65" stroke="#ff1a1a" stroke-width="1.2"/>
<line x1="1119.08" y1="661.14" x2="1122.68" y2="661.14" stroke="#ff1a1a" stroke-width="1.2"/>
<line x1="1119.08" y1="665.65" x2="1122.68" y2="665.65" stroke="#ff1a1a" stroke-width="1.2"/>
<line x1="1123.91" y1="661.71" x2="1123.91" y2="666.95" stroke="#ff1a1a" stroke-width="1.2"/>
<line x1="1122.11" y1="661.71" x2="1125.71" y2="661.71" stroke="#ff1a1a" stroke-width="1.2"/>
<line x1="1122.11" y1="666.95" x2="1125.71" y2="666.95" stroke="#ff1a1a" stroke-width="1.2"/>
<line x1="1126.94" y1="658.56" x2="1126.94" y2="664.29" stroke="#ff1a1a" stroke-width="1.2"/>
<line x1="1125.14" y1="658.56" x2="1128.74" y2="658.56" stroke="#ff1a1a" stroke-width="1.2"/>
<line x1="1125.14" y1="664.29" x2="1128.74" y2="664.29" stroke="#ff1a1a" stroke-width="1.2"/>
<line x1="1129.97" y1="661.55" x2="1129.97" y2="667.37" stroke="#ff1a1a" stroke-width="1.2"/>
<line x1="1128.17" y1="661.55" x2="1131.77" y2="661.55" stroke="#ff1a1a" stroke-width="1.2"/>
<line x1="1128.17" y1="667.37" x2="1131.77" y2="667.37" stroke="#ff1a1a" stroke-width="1.2"/>
<line x1="1133.01" y1="659.75" x2="1133.01" y2="662.12" stroke="#ff1a1a" stroke-width="1.2"/>
<line x1="1131.21" y1="659.75" x2="1134.81" y2="659.75" stroke="#ff1a1a" stroke-width="1.2"/>
<line x1="1131.21" y1="662.12" x2="1134.81" y2="662.12" stroke="#ff1a1a" stroke-width="1.2"/>
<line x1="1136.04" y1="661.30" x2="1136.04" y2="664.74" stroke="#ff1a1a" stroke-width="1.2"/>
<line x1="1134.24" y1="661.30" x2="1137.84" y2="661.30" stroke="#ff1a1a" stroke-width="1.2"/>
<line x1="1134.24" y1="664.74" x2="1137.84" y2="664.74" stroke="#ff1a1a" stroke-width="1.2"/>
<line x1="1139.07" y1="660.87" x2="1139.07" y2="664.31" stroke="#ff1a1a" stroke-width="1.2"/>
<line x1="1137.27" y1="660.87" x2="1140.87" y2="660.87" stroke="#ff1a1a" stroke-width="1.2"/>
<line x1="1137.27" y1="664.31" x2="1140.87" y2="664.31" stroke="#ff1a1a" stroke-width="1.2"/>
<line x1="1141.77" y1="555.27" x2="1141.77" y2="572.84" stroke="#ff1a1a" stroke-width="1.2"/>
<line x1="1139.97" y1="555.27" x2="1143.57" y2="555.27" stroke="#ff1a1a" stroke-width="1.2"/>
<line x1="1139.97" y1="572.84" x2="1143.57" y2="572.84" stroke="#ff1a1a" stroke-width="1.2"/>
<line x1="1144.80" y1="571.52" x2="1144.80" y2="577.40" stroke="#ff1a1a" stroke-width="1.2"/>
<line x1="1143.00" y1="571.52" x2="1146.60" y2="571.52" stroke="#ff1a1a" stroke-width="1.2"/>
<line x1="1143.00" y1="577.40" x2="1146.60" y2="577.40" stroke="#ff1a1a" stroke-width="1.2"/>
<line x1="1147.84" y1="580.06" x2="1147.84" y2="588.72" stroke="#ff1a1a" stroke-width="1.2"/>
<line x1="1146.04" y1="580.06" x2="1149.64" y2="580.06" stroke="#ff1a1a" stroke-width="1.2"/>
<line x1="1146.04" y1="588.72" x2="1149.64" y2="588.72" stroke="#ff1a1a" stroke-width="1.2"/>
<line x1="1150.87" y1="588.50" x2="1150.87" y2="593.92" stroke="#ff1a1a" stroke-width="1.2"/>
<line x1="1149.07" y1="588.50" x2="1152.67" y2="588.50" stroke="#ff1a1a" stroke-width="1.2"/>
<line x1="1149.07" y1="593.92" x2="1152.67" y2="593.92" stroke="#ff1a1a" stroke-width="1.2"/>
<line x1="1153.90" y1="587.23" x2="1153.90" y2="594.18" stroke="#ff1a1a" stroke-width="1.2"/>
<line x1="1152.10" y1="587.23" x2="1155.70" y2="587.23" stroke="#ff1a1a" stroke-width="1.2"/>
<line x1="1152.10" y1="594.18" x2="1155.70" y2="594.18" stroke="#ff1a1a" stroke-width="1.2"/>
<line x1="1156.93" y1="591.97" x2="1156.93" y2="603.30" stroke="#ff1a1a" stroke-width="1.2"/>
<line x1="1155.13" y1="591.97" x2="1158.73" y2="591.97" stroke="#ff1a1a" stroke-width="1.2"/>
<line x1="1155.13" y1="603.30" x2="1158.73" y2="603.30" stroke="#ff1a1a" stroke-width="1.2"/>
<line x1="1159.97" y1="591.90" x2="1159.97" y2="601.86" stroke="#ff1a1a" stroke-width="1.2"/>
<line x1="1158.17" y1="591.90" x2="1161.77" y2="591.90" stroke="#ff1a1a" stroke-width="1.2"/>
<line x1="1158.17" y1="601.86" x2="1161.77" y2="601.86" stroke="#ff1a1a" stroke-width="1.2"/>
<line x1="1163.00" y1="598.07" x2="1163.00" y2="606.11" stroke="#ff1a1a" stroke-width="1.2"/>
<line x1="1161.20" y1="598.07" x2="1164.80" y2="598.07" stroke="#ff1a1a" stroke-width="1.2"/>
<line x1="1161.20" y1="606.11" x2="1164.80" y2="606.11" stroke="#ff1a1a" stroke-width="1.2"/>
<line x1="1166.03" y1="596.29" x2="1166.03" y2="601.91" stroke="#ff1a1a" stroke-width="1.2"/>
<line x1="1164.23" y1="596.29" x2="1167.83" y2="596.29" stroke="#ff1a1a" stroke-width="1.2"/>
<line x1="1164.23" y1="601.91" x2="1167.83" y2="601.91" stroke="#ff1a1a" stroke-width="1.2"/>
<line x1="1169.07" y1="594.99" x2="1169.07" y2="606.40" stroke="#ff1a1a" stroke-width="1.2"/>
<line x1="1167.27" y1="594.99" x2="1170.87" y2="594.99" stroke="#ff1a1a" stroke-width="1.2"/>
<line x1="1167.27" y1="606.40" x2="1170.87" y2="606.40" stroke="#ff1a1a" stroke-width="1.2"/>
<line x1="1172.10" y1="597.61" x2="1172.10" y2="607.30" stroke="#ff1a1a" stroke-width="1.2"/>
<line x1="1170.30" y1="597.61" x2="1173.90" y2="597.61" stroke="#ff1a1a" stroke-width="1.2"/>
<line x1="1170.30" y1="607.30" x2="1173.90" y2="607.30" stroke="#ff1a1a" stroke-width="1.2"/>
<line x1="1175.13" y1="600.05" x2="1175.13" y2="606.33" stroke="#ff1a1a" stroke-width="1.2"/>
<line x1="1173.33" y1="600.05" x2="1176.93" y2="600.05" stroke="#ff1a1a" stroke-width="1.2"/>
<line x1="1173.33" y1="606.33" x2="1176.93" y2="606.33" stroke="#ff1a1a" stroke-width="1.2"/>
<line x1="1178.17" y1="601.33" x2="1178.17" y2="608.50" stroke="#ff1a1a" stroke-width="1.2"/>
<line x1="1176.37" y1="601.33" x2="1179.97" y2="601.33" stroke="#ff1a1a" stroke-width="1.2"/>
<line x1="1176.37" y1="608.50" x2="1179.97" y2="608.50" stroke="#ff1a1a" stroke-width="1.2"/>
<line x1="1181.20" y1="599.98" x2="1181.20" y2="609.25" stroke="#ff1a1a" stroke-width="1.2"/>
<line x1="1179.40" y1="599.98" x2="1183.00" y2="599.98" stroke="#ff1a1a" stroke-width="1.2"/>
<line x1="1179.40" y1="609.25" x2="1183.00" y2="609.25" stroke="#ff1a1a" stroke-width="1.2"/>
<line x1="1184.23" y1="603.89" x2="1184.23" y2="613.43" stroke="#ff1a1a" stroke-width="1.2"/>
<line x1="1182.43" y1="603.89" x2="1186.03" y2="603.89" stroke="#ff1a1a" stroke-width="1.2"/>
<line x1="1182.43" y1="613.43" x2="1186.03" y2="613.43" stroke="#ff1a1a" stroke-width="1.2"/>
<line x1="1187.26" y1="603.70" x2="1187.26" y2="610.36" stroke="#ff1a1a" stroke-width="1.2"/>
<line x1="1185.46" y1="603.70" x2="1189.06" y2="603.70" stroke="#ff1a1a" stroke-width="1.2"/>
<line x1="1185.46" y1="610.36" x2="1189.06" y2="610.36" stroke="#ff1a1a" stroke-width="1.2"/>
<line x1="1190.30" y1="599.67" x2="1190.30" y2="611.06" stroke="#ff1a1a" stroke-width="1.2"/>
<line x1="1188.50" y1="599.67" x2="1192.10" y2="599.67" stroke="#ff1a1a" stroke-width="1.2"/>
<line x1="1188.50" y1="611.06" x2="1192.10" y2="611.06" stroke="#ff1a1a" stroke-width="1.2"/>
<line x1="1193.33" y1="605.84" x2="1193.33" y2="612.92" stroke="#ff1a1a" stroke-width="1.2"/>
<line x1="1191.53" y1="605.84" x2="1195.13" y2="605.84" stroke="#ff1a1a" stroke-width="1.2"/>
<line x1="1191.53" y1="612.92" x2="1195.13" y2="612.92" stroke="#ff1a1a" stroke-width="1.2"/>
<line x1="1196.36" y1="602.16" x2="1196.36" y2="608.78" stroke="#ff1a1a" stroke-width="1.2"/>
<line x1="1194.56" y1="602.16" x2="1198.16" y2="602.16" stroke="#ff1a1a" stroke-width="1.2"/>
<line x1="1194.56" y1="608.78" x2="1198.16" y2="608.78" stroke="#ff1a1a" stroke-width="1.2"/>
<line x1="1199.40" y1="600.64" x2="1199.40" y2="611.30" stroke="#ff1a1a" stroke-width="1.2"/>
<line x1="1197.60" y1="600.64" x2="1201.20" y2="600.64" stroke="#ff1a1a" stroke-width="1.2"/>
<line x1="1197.60" y1="611.30" x2="1201.20" y2="611.30" stroke="#ff1a1a" stroke-width="1.2"/>
<line x1="1202.43" y1="606.33" x2="1202.43" y2="612.26" stroke="#ff1a1a" stroke-width="1.2"/>
<line x1="1200.63" y1="606.33" x2="1204.23" y2="606.33" stroke="#ff1a1a" stroke-width="1.2"/>
<line x1="1200.63" y1="612.26" x2="1204.23" y2="612.26" stroke="#ff1a1a" stroke-width="1.2"/>
<line x1="1205.46" y1="604.65" x2="1205.46" y2="614.19" stroke="#ff1a1a" stroke-width="1.2"/>
<line x1="1203.66" y1="604.65" x2="1207.26" y2="604.65" stroke="#ff1a1a" stroke-width="1.2"/>
<line x1="1203.66" y1="614.19" x2="1207.26" y2="614.19" stroke="#ff1a1a" stroke-width="1.2"/>
<line x1="1208.50" y1="602.15" x2="1208.50" y2="608.40" stroke="#ff1a1a" stroke-width="1.2"/>
<line x1="1206.70" y1="602.15" x2="1210.30" y2="602.15" stroke="#ff1a1a" stroke-width="1.2"/>
<line x1="1206.70" y1="608.40" x2="1210.30" y2="608.40" stroke="#ff1a1a" stroke-width="1.2"/>
<line x1="1211.53" y1="603.42" x2="1211.53" y2="612.39" stroke="#ff1a1a" stroke-width="1.2"/>
<line x1="1209.73" y1="603.42" x2="1213.33" y2="603.42" stroke="#ff1a1a" stroke-width="1.2"/>
<line x1="1209.73" y1="612.39" x2="1213.33" y2="612.39" stroke="#ff1a1a" stroke-width="1.2"/>
<line x1="1214.56" y1="606.01" x2="1214.56" y2="612.78" stroke="#ff1a1a" stroke-width="1.2"/>
<line x1="1212.76" y1="606.01" x2="1216.36" y2="606.01" stroke="#ff1a1a" stroke-width="1.2"/>
<line x1="1212.76" y1="612.78" x2="1216.36" y2="612.78" stroke="#ff1a1a" stroke-width="1.2"/>
<line x1="1217.60" y1="605.52" x2="1217.60" y2="612.99" stroke="#ff1a1a" stroke-width="1.2"/>
<line x1="1215.80" y1="605.52" x2="1219.39" y2="605.52" stroke="#ff1a1a" stroke-width="1.2"/>
<line x1="1215.80" y1="612.99" x2="1219.39" y2="612.99" stroke="#ff1a1a" stroke-width="1.2"/>
<line x1="1220.63" y1="605.68" x2="1220.63" y2="617.00" stroke="#ff1a1a" stroke-width="1.2"/>
<line x1="1218.83" y1="605.68" x2="1222.43" y2="605.68" stroke="#ff1a1a" stroke-width="1.2"/>
<line x1="1218.83" y1="617.00" x2="1222.43" y2="617.00" stroke="#ff1a1a" stroke-width="1.2"/>
<line x1="1223.66" y1="605.50" x2="1223.66" y2="613.57" stroke="#ff1a1a" stroke-width="1.2"/>
<line x1="1221.86" y1="605.50" x2="1225.46" y2="605.50" stroke="#ff1a1a" stroke-width="1.2"/>
<line x1="1221.86" y1="613.57" x2="1225.46" y2="613.57" stroke="#ff1a1a" stroke-width="1.2"/>
<line x1="1226.69" y1="602.34" x2="1226.69" y2="610.20" stroke="#ff1a1a" stroke-width="1.2"/>
<line x1="1224.89" y1="602.34" x2="1228.49" y2="602.34" stroke="#ff1a1a" stroke-width="1.2"/>
<line x1="1224.89" y1="610.20" x2="1228.49" y2="610.20" stroke="#ff1a1a" stroke-width="1.2"/>
<line x1="1229.73" y1="596.26" x2="1229.73" y2="605.36" stroke="#ff1a1a" stroke-width="1.2"/>
<line x1="1227.93" y1="596.26" x2="1231.53" y2="596.26" stroke="#ff1a1a" stroke-width="1.2"/>
<line x1="1227.93" y1="605.36" x2="1231.53" y2="605.36" stroke="#ff1a1a" stroke-width="1.2"/>
<line x1="1232.76" y1="603.76" x2="1232.76" y2="610.56" stroke="#ff1a1a" stroke-width="1.2"/>
<line x1="1230.96" y1="603.76" x2="1234.56" y2="603.76" stroke="#ff1a1a" stroke-width="1.2"/>
<line x1="1230.96" y1="610.56" x2="1234.56" y2="610.56" stroke="#ff1a1a" stroke-width="1.2"/>
<line x1="1235.79" y1="605.49" x2="1235.79" y2="611.57" stroke="#ff1a1a" stroke-width="1.2"/>
<line x1="1233.99" y1="605.49" x2="1237.59" y2="605.49" stroke="#ff1a1a" stroke-width="1.2"/>
<line x1="1233.99" y1="611.57" x2="1237.59" y2="611.57" stroke="#ff1a1a" stroke-width="1.2"/>
<line x1="1238.83" y1="607.45" x2="1238.83" y2="614.96" stroke="#ff1a1a" stroke-width="1.2"/>
<line x1="1237.03" y1="607.45" x2="1240.63" y2="607.45" stroke="#ff1a1a" stroke-width="1.2"/>
<line x1="1237.03" y1="614.96" x2="1240.63" y2="614.96" stroke="#ff1a1a" stroke-width="1.2"/>
<line x1="1241.86" y1="606.16" x2="1241.86" y2="612.91" stroke="#ff1a1a" stroke-width="1.2"/>
<line x1="1240.06" y1="606.16" x2="1243.66" y2="606.16" stroke="#ff1a1a" stroke-width="1.2"/>
<line x1="1240.06" y1="612.91" x2="1243.66" y2="612.91" stroke="#ff1a1a" stroke-width="1.2"/>
<line x1="1244.89" y1="604.89" x2="1244.89" y2="611.06" stroke="#ff1a1a" stroke-width="1.2"/>
<line x1="1243.09" y1="604.89" x2="1246.69" y2="604.89" stroke="#ff1a1a" stroke-width="1.2"/>
<line x1="1243.09" y1="611.06" x2="1246.69" y2="611.06" stroke="#ff1a1a" stroke-width="1.2"/>
<line x1="1247.92" y1="605.56" x2="1247.92" y2="617.01" stroke="#ff1a1a" stroke-width="1.2"/>
<line x1="1246.12" y1="605.56" x2="1249.72" y2="605.56" stroke="#ff1a1a" stroke-width="1.2"/>
<line x1="1246.12" y1="617.01" x2="1249.72" y2="617.01" stroke="#ff1a1a" stroke-width="1.2"/>
<line x1="1250.96" y1="605.39" x2="1250.96" y2="610.51" stroke="#ff1a1a" stroke-width="1.2"/>
<line x1="1249.16" y1="605.39" x2="1252.76" y2="605.39" stroke="#ff1a1a" stroke-width="1.2"/>
<line x1="1249.16" y1="610.51" x2="1252.76" y2="610.51" stroke="#ff1a1a" stroke-width="1.2"/>
<line x1="1253.99" y1="602.97" x2="1253.99" y2="613.39" stroke="#ff1a1a" stroke-width="1.2"/>
<line x1="1252.19" y1="602.97" x2="1255.79" y2="602.97" stroke="#ff1a1a" stroke-width="1.2"/>
<line x1="1252.19" y1="613.39" x2="1255.79" y2="613.39" stroke="#ff1a1a" stroke-width="1.2"/>
<line x1="1257.02" y1="604.79" x2="1257.02" y2="616.06" stroke="#ff1a1a" stroke-width="1.2"/>
<line x1="1255.22" y1="604.79" x2="1258.82" y2="604.79" stroke="#ff1a1a" stroke-width="1.2"/>
<line x1="1255.22" y1="616.06" x2="1258.82" y2="616.06" stroke="#ff1a1a" stroke-width="1.2"/>
<line x1="1260.06" y1="603.92" x2="1260.06" y2="613.62" stroke="#ff1a1a" stroke-width="1.2"/>
<line x1="1258.26" y1="603.92" x2="1261.86" y2="603.92" stroke="#ff1a1a" stroke-width="1.2"/>
<line x1="1258.26" y1="613.62" x2="1261.86" y2="613.62" stroke="#ff1a1a" stroke-width="1.2"/>
<line x1="1263.09" y1="608.62" x2="1263.09" y2="613.63" stroke="#ff1a1a" stroke-width="1.2"/>
<line x1="1261.29" y1="608.62" x2="1264.89" y2="608.62" stroke="#ff1a1a" stroke-width="1.2"/>
<line x1="1261.29" y1="613.63" x2="1264.89" y2="613.63" stroke="#ff1a1a" stroke-width="1.2"/>
<line x1="1266.12" y1="607.70" x2="1266.12" y2="616.01" stroke="#ff1a1a" stroke-width="1.2"/>
<line x1="1264.32" y1="607.70" x2="1267.92" y2="607.70" stroke="#ff1a1a" stroke-width="1.2"/>
<line x1="1264.32" y1="616.01" x2="1267.92" y2="616.01" stroke="#ff1a1a" stroke-width="1.2"/>
<line x1="1269.16" y1="610.08" x2="1269.16" y2="615.23" stroke="#ff1a1a" stroke-width="1.2"/>
<line x1="1267.36" y1="610.08" x2="1270.96" y2="610.08" stroke="#ff1a1a" stroke-width="1.2"/>
<line x1="1267.36" y1="615.23" x2="1270.96" y2="615.23" stroke="#ff1a1a" stroke-width="1.2"/>
<line x1="1272.19" y1="604.49" x2="1272.19" y2="613.53" stroke="#ff1a1a" stroke-width="1.2"/>
<line x1="1270.39" y1="604.49" x2="1273.99" y2="604.49" stroke="#ff1a1a" stroke-width="1.2"/>
<line x1="1270.39" y1="613.53" x2="1273.99" y2="613.53" stroke="#ff1a1a" stroke-width="1.2"/>
<line x1="1275.22" y1="608.40" x2="1275.22" y2="618.07" stroke="#ff1a1a" stroke-width="1.2"/>
<line x1="1273.42" y1="608.40" x2="1277.02" y2="608.40" stroke="#ff1a1a" stroke-width="1.2"/>
<line x1="1273.42" y1="618.07" x2="1277.02" y2="618.07" stroke="#ff1a1a" stroke-width="1.2"/>
<line x1="1278.25" y1="610.56" x2="1278.25" y2="617.08" stroke="#ff1a1a" stroke-width="1.2"/>
<line x1="1276.45" y1="610.56" x2="1280.05" y2="610.56" stroke="#ff1a1a" stroke-width="1.2"/>
<line x1="1276.45" y1="617.08" x2="1280.05" y2="617.08" stroke="#ff1a1a" stroke-width="1.2"/>
<line x1="1281.29" y1="607.08" x2="1281.29" y2="612.01" stroke="#ff1a1a" stroke-width="1.2"/>
<line x1="1279.49" y1="607.08" x2="1283.09" y2="607.08" stroke="#ff1a1a" stroke-width="1.2"/>
<line x1="1279.49" y1="612.01" x2="1283.09" y2="612.01" stroke="#ff1a1a" stroke-width="1.2"/>
<line x1="1284.32" y1="605.46" x2="1284.32" y2="614.06" stroke="#ff1a1a" stroke-width="1.2"/>
<line x1="1282.52" y1="605.46" x2="1286.12" y2="605.46" stroke="#ff1a1a" stroke-width="1.2"/>
<line x1="1282.52" y1="614.06" x2="1286.12" y2="614.06" stroke="#ff1a1a" stroke-width="1.2"/>
<line x1="1287.35" y1="608.73" x2="1287.35" y2="614.26" stroke="#ff1a1a" stroke-width="1.2"/>
<line x1="1285.55" y1="608.73" x2="1289.15" y2="608.73" stroke="#ff1a1a" stroke-width="1.2"/>
<line x1="1285.55" y1="614.26" x2="1289.15" y2="614.26" stroke="#ff1a1a" stroke-width="1.2"/>
<line x1="1290.39" y1="605.96" x2="1290.39" y2="612.95" stroke="#ff1a1a" stroke-width="1.2"/>
<line x1="1288.59" y1="605.96" x2="1292.19" y2="605.96" stroke="#ff1a1a" stroke-width="1.2"/>
<line x1="1288.59" y1="612.95" x2="1292.19" y2="612.95" stroke="#ff1a1a" stroke-width="1.2"/>
<line x1="1293.42" y1="610.09" x2="1293.42" y2="618.07" stroke="#ff1a1a" stroke-width="1.2"/>
<line x1="1291.62" y1="610.09" x2="1295.22" y2="610.09" stroke="#ff1a1a" stroke-width="1.2"/>
<line x1="1291.62" y1="618.07" x2="1295.22" y2="618.07" stroke="#ff1a1a" stroke-width="1.2"/>
<line x1="1296.45" y1="607.40" x2="1296.45" y2="618.40" stroke="#ff1a1a" stroke-width="1.2"/>
<line x1="1294.65" y1="607.40" x2="1298.25" y2="607.40" stroke="#ff1a1a" stroke-width="1.2"/>
<line x1="1294.65" y1="618.40" x2="1298.25" y2="618.40" stroke="#ff1a1a" stroke-width="1.2"/>
<line x1="1299.49" y1="609.03" x2="1299.49" y2="616.44" stroke="#ff1a1a" stroke-width="1.2"/>
<line x1="1297.69" y1="609.03" x2="1301.29" y2="609.03" stroke="#ff1a1a" stroke-width="1.2"/>
<line x1="1297.69" y1="616.44" x2="1301.29" y2="616.44" stroke="#ff1a1a" stroke-width="1.2"/>
<line x1="1302.52" y1="609.09" x2="1302.52" y2="614.90" stroke="#ff1a1a" stroke-width="1.2"/>
<line x1="1300.72" y1="609.09" x2="1304.32" y2="609.09" stroke="#ff1a1a" stroke-width="1.2"/>
<line x1="1300.72" y1="614.90" x2="1304.32" y2="614.90" stroke="#ff1a1a" stroke-width="1.2"/>
<line x1="1305.55" y1="608.33" x2="1305.55" y2="618.62" stroke="#ff1a1a" stroke-width="1.2"/>
<line x1="1303.75" y1="608.33" x2="1307.35" y2="608.33" stroke="#ff1a1a" stroke-width="1.2"/>
<line x1="1303.75" y1="618.62" x2="1307.35" y2="618.62" stroke="#ff1a1a" stroke-width="1.2"/>
<line x1="1308.59" y1="608.83" x2="1308.59" y2="619.34" stroke="#ff1a1a" stroke-width="1.2"/>
<line x1="1306.79" y1="608.83" x2="1310.38" y2="608.83" stroke="#ff1a1a" stroke-width="1.2"/>
<line x1="1306.79" y1="619.34" x2="1310.38" y2="619.34" stroke="#ff1a1a" stroke-width="1.2"/>
<line x1="1311.62" y1="608.28" x2="1311.62" y2="616.78" stroke="#ff1a1a" stroke-width="1.2"/>
<line x1="1309.82" y1="608.28" x2="1313.42" y2="608.28" stroke="#ff1a1a" stroke-width="1.2"/>
<line x1="1309.82" y1="616.78" x2="1313.42" y2="616.78" stroke="#ff1a1a" stroke-width="1.2"/>
<line x1="1314.65" y1="606.65" x2="1314.65" y2="611.87" stroke="#ff1a1a" stroke-width="1.2"/>
<line x1="1312.85" y1="606.65" x2="1316.45" y2="606.65" stroke="#ff1a1a" stroke-width="1.2"/>
<line x1="1312.85" y1="611.87" x2="1316.45" y2="611.87" stroke="#ff1a1a" stroke-width="1.2"/>
<line x1="1317.68" y1="605.70" x2="1317.68" y2="611.86" stroke="#ff1a1a" stroke-width="1.2"/>
<line x1="1315.88" y1="605.70" x2="1319.48" y2="605.70" stroke="#ff1a1a" stroke-width="1.2"/>
<line x1="1315.88" y1="611.86" x2="1319.48" y2="611.86" stroke="#ff1a1a" stroke-width="1.2"/>
<line x1="1320.72" y1="606.37" x2="1320.72" y2="614.00" stroke="#ff1a1a" stroke-width="1.2"/>
<line x1="1318.92" y1="606.37" x2="1322.52" y2="606.37" stroke="#ff1a1a" stroke-width="1.2"/>
<line x1="1318.92" y1="614.00" x2="1322.52" y2="614.00" stroke="#ff1a1a" stroke-width="1.2"/>
<circle cx="1038.98" cy="664.29" r="2.40" fill="#ff1a1a" stroke="none" stroke-width="1"/>
<circle cx="1042.02" cy="661.98" r="2.40" fill="#ff1a1a" stroke="none" stroke-width="1"/>
<circle cx="1045.05" cy="662.22" r="2.40" fill="#ff1a1a" stroke="none" stroke-width="1"/>
<circle cx="1048.08" cy="662.91" r="2.40" fill="#ff1a1a" stroke="none" stroke-width="1"/>
<circle cx="1051.12" cy="664.06" r="2.40" fill="#ff1a1a" stroke="none" stroke-width="1"/>
<circle cx="1054.15" cy="661.53" r="2.40" fill="#ff1a1a" stroke="none" stroke-width="1"/>
<circle cx="1057.18" cy="661.46" r="2.40" fill="#ff1a1a" stroke="none" stroke-width="1"/>
<circle cx="1060.22" cy="662.76" r="2.40" fill="#ff1a1a" stroke="none" stroke-width="1"/>
<circle cx="1063.25" cy="662.79" r="2.40" fill="#ff1a1a" stroke="none" stroke-width="1"/>
<circle cx="1066.28" cy="663.98" r="2.40" fill="#ff1a1a" stroke="none" stroke-width="1"/>
<circle cx="1069.32" cy="665.00" r="2.40" fill="#ff1a1a" stroke="none" stroke-width="1"/>
<circle cx="1072.35" cy="663.38" r="2.40" fill="#ff1a1a" stroke="none" stroke-width="1"/>
<circle cx="1075.38" cy="662.44" r="2.40" fill="#ff1a1a" stroke="none" stroke-width="1"/>
<circle cx="1078.41" cy="664.71" r="2.40" fill="#ff1a1a" stroke="none" stroke-width="1"/>
<circle cx="1081.45" cy="661.53" r="2.40" fill="#ff1a1a" stroke="none" stroke-width="1"/>
<circle cx="1084.48" cy="663.99" r="2.40" fill="#ff1a1a" stroke="none" stroke-width="1"/>
<circle cx="1087.51" cy="663.99" r="2.40" fill="#ff1a1a" stroke="none" stroke-width="1"/>
<circle cx="1090.55" cy="664.83" r="2.40" fill="#ff1a1a" stroke="none" stroke-width="1"/>
<circle cx="1093.58" cy="660.63" r="2.40" fill="#ff1a1a" stroke="none" stroke-width="1"/>
<circle cx="1096.61" cy="661.77" r="2.40" fill="#ff1a1a" stroke="none" stroke-width="1"/>
<circle cx="1099.64" cy="661.17" r="2.40" fill="#ff1a1a" stroke="none" stroke-width="1"/>
<circle cx="1102.68" cy="662.31" r="2.40" fill="#ff1a1a" stroke="none" stroke-width="1"/>
<circle cx="1105.71" cy="664.86" r="2.40" fill="#ff1a1a" stroke="none" stroke-width="1"/>
<circle cx="1108.74" cy="663.57" r="2.40" fill="#ff1a1a" stroke="none" stroke-width="1"/>
<circle cx="1111.78" cy="662.83" r="2.40" fill="#ff1a1a" stroke="none" stroke-width="1"/>
<circle cx="1114.81" cy="664.50" r="2.40" fill="#ff1a1a" stroke="none" stroke-width="1"/>
<circle cx="1117.84" cy="660.83" r="2.40" fill="#ff1a1a" stroke="none" stroke-width="1"/>
<circle cx="1120.88" cy="663.39" r="2.40" fill="#ff1a1a" stroke="none" stroke-width="1"/>
<circle cx="1123.91" cy="664.33" r="2.40" fill="#ff1a1a" stroke="none" stroke-width="1"/>
<circle cx="1126.94" cy="661.42" r="2.40" fill="#ff1a1a" stroke="none" stroke-width="1"/>
<circle cx="1129.97" cy="664.46" r="2.40" fill="#ff1a1a" stroke="none" stroke-width="1"/>
<circle cx="1133.01" cy="660.94" r="2.40" fill="#ff1a1a" stroke="none" stroke-width="1"/>
<circle cx="1136.04" cy="663.02" r="2.40" fill="#ff1a1a" stroke="none" stroke-width="1"/>
<circle cx="1139.07" cy="662.59" r="2.40" fill="#ff1a1a" stroke="none" stroke-width="1"/>
<circle cx="1141.77" cy="564.05" r="2.40" fill="#ff1a1a" stroke="none" stroke-width="1"/>
<circle cx="1144.80" cy="574.46" r="2.40" fill="#ff1a1a" stroke="none" stroke-width="1"/>
<circle cx="1147.84" cy="584.39" r="2.40" fill="#ff1a1a" stroke="none" stroke-width="1"/>
<circle cx="1150.87" cy="591.21" r="2.40" fill="#ff1a1a" stroke="none" stroke-width="1"/>
<circle cx="1153.90" cy="590.71" r="2.40" fill="#ff1a1a" stroke="none" stroke-width="1"/>
<circle cx="1156.93" cy="597.64" r="2.40" fill="#ff1a1a" stroke="none" stroke-width="1"/>
<circle cx="1159.97" cy="596.88" r="2.40" fill="#ff1a1a" stroke="none" stroke-width="1"/>
<circle cx="1163.00" cy="602.09" r="2.40" fill="#ff1a1a" stroke="none" stroke-width="1"/>
<circle cx="1166.03" cy="599.10" r="2.40" fill="#ff1a1a" stroke="none" stroke-width="1"/>
<circle cx="1169.07" cy="600.70" r="2.40" fill="#ff1a1a" stroke="none" stroke-width="1"/>
<circle cx="1172.10" cy="602.45" r="2.40" fill="#ff1a1a" stroke="none" stroke-width="1"/>
<circle cx="1175.13" cy="603.19" r="2.40" fill="#ff1a1a" stroke="none" stroke-width="1"/>
<circle cx="1178.17" cy="604.92" r="2.40" fill="#ff1a1a" stroke="none" stroke-width="1"/>
<circle cx="1181.20" cy="604.61" r="2.40" fill="#ff1a1a" stroke="none" stroke-width="1"/>
<circle cx="1184.23" cy="608.66" r="2.40" fill="#ff1a1a" stroke="none" stroke-width="1"/>
<circle cx="1187.26" cy="607.03" r="2.40" fill="#ff1a1a" stroke="none" stroke-width="1"/>
<circle cx="1190.30" cy="605.36" r="2.40" fill="#ff1a1a" stroke="none" stroke-width="1"/>
<circle cx="1193.33" cy="609.38" r="2.40" fill="#ff1a1a" stroke="none" stroke-width="1"/>
<circle cx="1196.36" cy="605.47" r="2.40" fill="#ff1a1a" stroke="none" stroke-width="1"/>
<circle cx="1199.40" cy="605.97" r="2.40" fill="#ff1a1a" stroke="none" stroke-width="1"/>
<circle cx="1202.43" cy="609.30" r="2.40" fill="#ff1a1a" stroke="none" stroke-width="1"/>
<circle cx="1205.46" cy="609.42" r="2.40" fill="#ff1a1a" stroke="none" stroke-width="1"/>
<circle cx="1208.50" cy="605.28" r="2.40" fill="#ff1a1a" stroke="none" stroke-width="1"/>
<circle cx="1211.53" cy="607.90" r="2.40" fill="#ff1a1a" stroke="none" stroke-width="1"/>
<circle cx="1214.56" cy="609.40" r="2.40" fill="#ff1a1a" stroke="none" stroke-width="1"/>
<circle cx="1217.60" cy="609.25" r="2.40" fill="#ff1a1a" stroke="none" stroke-width="1"/>
<circle cx="1220.63" cy="611.34" r="2.40" fill="#ff1a1a" stroke="none" stroke-width="1"/>
<circle cx="1223.66" cy="609.53" r="2.40" fill="#ff1a1a" stroke="none" stroke-width="1"/>
<circle cx="1226.69" cy="606.27" r="2.40" fill="#ff1a1a" stroke="none" stroke-width="1"/>
<circle cx="1229.73" cy="600.81" r="2.40" fill="#ff1a1a" stroke="none" stroke-width="1"/>
<circle cx="1232.76" cy="607.16" r="2.40" fill="#ff1a1a" stroke="none" stroke-width="1"/>
<circle cx="1235.79" cy="608.53" r="2.40" fill="#ff1a1a" stroke="none" stroke-width="1"/>
<circle cx="1238.83" cy="611.20" r="2.40" fill="#ff1a1a" stroke="none" stroke-width="1"/>
<circle cx="1241.86" cy="609.54" r="2.40" fill="#ff1a1a" stroke="none" stroke-width="1"/>
<circle cx="1244.89" cy="607.97" r="2.40" fill="#ff1a1a" stroke="none" stroke-width="1"/>
<circle cx="1247.92" cy="611.28" r="2.40" fill="#ff1a1a" stroke="none" stroke-width="1"/>
<circle cx="1250.96" cy="607.95" r="2.40" fill="#ff1a1a" stroke="none" stroke-width="1"/>
<circle cx="1253.99" cy="608.18" r="2.40" fill="#ff1a1a" stroke="none" stroke-width="1"/>
<circle cx="1257.02" cy="610.42" r="2.40" fill="#ff1a1a" stroke="none" stroke-width="1"/>
<circle cx="1260.06" cy="608.77" r="2.40" fill="#ff1a1a" stroke="none" stroke-width="1"/>
<circle cx="1263.09" cy="611.12" r="2.40" fill="#ff1a1a" stroke="none" stroke-width="1"/>
<circle cx="1266.12" cy="611.85" r="2.40" fill="#ff1a1a" stroke="none" stroke-width="1"/>
<circle cx="1269.16" cy="612.65" r="2.40" fill="#ff1a1a" stroke="none" stroke-width="1"/>
<circle cx="1272.19" cy="609.01" r="2.40" fill="#ff1a1a" stroke="none" stroke-width="1"/>
<circle cx="1275.22" cy="613.24" r="2.40" fill="#ff1a1a" stroke="none" stroke-width="1"/>
<circle cx="1278.25" cy="613.82" r="2.40" fill="#ff1a1a" stroke="none" stroke-width="1"/>
<circle cx="1281.29" cy="609.55" r="2.40" fill="#ff1a1a" stroke="none" stroke-width="1"/>
<circle cx="1284.32" cy="609.76" r="2.40" fill="#ff1a1a" stroke="none" stroke-width="1"/>
<circle cx="1287.35" cy="611.50" r="2.40" fill="#ff1a1a" stroke="none" stroke-width="1"/>
<circle cx="1290.39" cy="609.45" r="2.40" fill="#ff1a1a" stroke="none" stroke-width="1"/>
<circle cx="1293.42" cy="614.08" r="2.40" fill="#ff1a1a" stroke="none" stroke-width="1"/>
<circle cx="1296.45" cy="612.90" r="2.40" fill="#ff1a1a" stroke="none" stroke-width="1"/>
<circle cx="1299.49" cy="612.73" r="2.40" fill="#ff1a1a" stroke="none" stroke-width="1"/>
<circle cx="1302.52" cy="612.00" r="2.40" fill="#ff1a1a" stroke="none" stroke-width="1"/>
<circle cx="1305.55" cy="613.47" r="2.40" fill="#ff1a1a" stroke="none" stroke-width="1"/>
<circle cx="1308.59" cy="614.08" r="2.40" fill="#ff1a1a" stroke="none" stroke-width="1"/>
<circle cx="1311.62" cy="612.53" r="2.40" fill="#ff1a1a" stroke="none" stroke-width="1"/>
<circle cx="1314.65" cy="609.26" r="2.40" fill="#ff1a1a" stroke="none" stroke-width="1"/>
<circle cx="1317.68" cy="608.78" r="2.40" fill="#ff1a1a" stroke="none" stroke-width="1"/>
<circle cx="1320.72" cy="610.18" r="2.40" fill="#ff1a1a" stroke="none" stroke-width="1"/>
<line x1="1038.98" y1="661.51" x2="1038.98" y2="665.79" stroke="#1a1aff" stroke-width="1.2"/>
<line x1="1037.18" y1="661.51" x2="1040.78" y2="661.51" stroke="#1a1aff" stroke-width="1.2"/>
<line x1="1037.18" y1="665.79" x2="1040.78" y2="665.79" stroke="#1a1aff" stroke-width="1.2"/>
<line x1="1042.02" y1="663.19" x2="1042.02" y2="666.33" stroke="#1a1aff" stroke-width="1.2"/>
<line x1="1040.22" y1="663.19" x2="1043.82" y2="663.19" stroke="#1a1aff" stroke-width="1.2"/>
<line x1="1040.22" y1="666.33" x2="1043.82" y2="666.33" stroke="#1a1aff" stroke-width="1.2"/>
<line x1="1045.05" y1="658.73" x2="1045.05" y2="663.89" stroke="#1a1aff" stroke-width="1.2"/>
<line x1="1043.25" y1="658.73" x2="1046.85" y2="658.73" stroke="#1a1aff" stroke-width="1.2"/>
<line x1="1043.25" y1="663.89" x2="1046.85" y2="663.89" stroke="#1a1aff" stroke-width="1.2"/>
<line x1="1048.08" y1="660.77" x2="1048.08" y2="666.08" stroke="#1a1aff" stroke-width="1.2"/>
<line x1="1046.28" y1="660.77" x2="1049.88" y2="660.77" stroke="#1a1aff" stroke-width="1.2"/>
<line x1="1046.28" y1="666.08" x2="1049.88" y2="666.08" stroke="#1a1aff" stroke-width="1.2"/>
<line x1="1051.12" y1="659.63" x2="1051.12" y2="665.23" stroke="#1a1aff" stroke-width="1.2"/>
<line x1="1049.32" y1="659.63" x2="1052.92" y2="659.63" stroke="#1a1aff" stroke-width="1.2"/>
<line x1="1049.32" y1="665.23" x2="1052.92" y2="665.23" stroke="#1a1aff" stroke-width="1.2"/>
<line x1="1054.15" y1="663.13" x2="1054.15" y2="668.58" stroke="#1a1aff" stroke-width="1.2"/>
<line x1="1052.35" y1="663.13" x2="1055.95" y2="663.13" stroke="#1a1aff" stroke-width="1.2"/>
<line x1="1052.35" y1="668.58" x2="1055.95" y2="668.58" stroke="#1a1aff" stroke-width="1.2"/>
<line x1="1057.18" y1="663.75" x2="1057.18" y2="666.16" stroke="#1a1aff" stroke-width="1.2"/>
<line x1="1055.38" y1="663.75" x2="1058.98" y2="663.75" stroke="#1a1aff" stroke-width="1.2"/>
<line x1="1055.38" y1="666.16" x2="1058.98" y2="666.16" stroke="#1a1aff" stroke-width="1.2"/>
<line x1="1060.22" y1="659.70" x2="1060.22" y2="664.09" stroke="#1a1aff" stroke-width="1.2"/>
<line x1="1058.42" y1="659.70" x2="1062.02" y2="659.70" stroke="#1a1aff" stroke-width="1.2"/>
<line x1="1058.42" y1="664.09" x2="1062.02" y2="664.09" stroke="#1a1aff" stroke-width="1.2"/>
<line x1="1063.25" y1="660.79" x2="1063.25" y2="663.42" stroke="#1a1aff" stroke-width="1.2"/>
<line x1="1061.45" y1="660.79" x2="1065.05" y2="660.79" stroke="#1a1aff" stroke-width="1.2"/>
<line x1="1061.45" y1="663.42" x2="1065.05" y2="663.42" stroke="#1a1aff" stroke-width="1.2"/>
<line x1="1066.28" y1="658.93" x2="1066.28" y2="664.44" stroke="#1a1aff" stroke-width="1.2"/>
<line x1="1064.48" y1="658.93" x2="1068.08" y2="658.93" stroke="#1a1aff" stroke-width="1.2"/>
<line x1="1064.48" y1="664.44" x2="1068.08" y2="664.44" stroke="#1a1aff" stroke-width="1.2"/>
<line x1="1069.32" y1="660.57" x2="1069.32" y2="665.54" stroke="#1a1aff" stroke-width="1.2"/>
<line x1="1067.52" y1="660.57" x2="1071.12" y2="660.57" stroke="#1a1aff" stroke-width="1.2"/>
<line x1="1067.52" y1="665.54" x2="1071.12" y2="665.54" stroke="#1a1aff" stroke-width="1.2"/>
<line x1="1072.35" y1="661.40" x2="1072.35" y2="666.42" stroke="#1a1aff" stroke-width="1.2"/>
<line x1="1070.55" y1="661.40" x2="1074.15" y2="661.40" stroke="#1a1aff" stroke-width="1.2"/>
<line x1="1070.55" y1="666.42" x2="1074.15" y2="666.42" stroke="#1a1aff" stroke-width="1.2"/>
<line x1="1075.38" y1="661.65" x2="1075.38" y2="664.65" stroke="#1a1aff" stroke-width="1.2"/>
<line x1="1073.58" y1="661.65" x2="1077.18" y2="661.65" stroke="#1a1aff" stroke-width="1.2"/>
<line x1="1073.58" y1="664.65" x2="1077.18" y2="664.65" stroke="#1a1aff" stroke-width="1.2"/>
<line x1="1078.41" y1="660.57" x2="1078.41" y2="663.12" stroke="#1a1aff" stroke-width="1.2"/>
<line x1="1076.61" y1="660.57" x2="1080.21" y2="660.57" stroke="#1a1aff" stroke-width="1.2"/>
<line x1="1076.61" y1="663.12" x2="1080.21" y2="663.12" stroke="#1a1aff" stroke-width="1.2"/>
<line x1="1081.45" y1="661.88" x2="1081.45" y2="667.09" stroke="#1a1aff" stroke-width="1.2"/>
<line x1="1079.65" y1="661.88" x2="1083.25" y2="661.88" stroke="#1a1aff" stroke-width="1.2"/>
<line x1="1079.65" y1="667.09" x2="1083.25" y2="667.09" stroke="#1a1aff" stroke-width="1.2"/>
<line x1="1084.48" y1="661.14" x2="1084.48" y2="665.62" stroke="#1a1aff" stroke-width="1.2"/>
<line x1="1082.68" y1="661.14" x2="1086.28" y2="661.14" stroke="#1a1aff" stroke-width="1.2"/>
<line x1="1082.68" y1="665.62" x2="1086.28" y2="665.62" stroke="#1a1aff" stroke-width="1.2"/>
<line x1="1087.51" y1="662.38" x2="1087.51" y2="666.90" stroke="#1a1aff" stroke-width="1.2"/>
<line x1="1085.71" y1="662.38" x2="1089.31" y2="662.38" stroke="#1a1aff" stroke-width="1.2"/>
<line x1="1085.71" y1="666.90" x2="1089.31" y2="666.90" stroke="#1a1aff" stroke-width="1.2"/>
<line x1="1090.55" y1="660.24" x2="1090.55" y2="664.24" stroke="#1a1aff" stroke-width="1.2"/>
<line x1="1088.75" y1="660.24" x2="1092.35" y2="660.24" stroke="#1a1aff" stroke-width="1.2"/>
<line x1="1088.75" y1="664.24" x2="1092.35" y2="664.24" stroke="#1a1aff" stroke-width="1.2"/>
<line x1="1093.58" y1="663.36" x2="1093.58" y2="668.52" stroke="#1a1aff" stroke-width="1.2"/>
<line x1="1091.78" y1="663.36" x2="1095.38" y2="663.36" stroke="#1a1aff" stroke-width="1.2"/>
<line x1="1091.78" y1="668.52" x2="1095.38" y2="668.52" stroke="#1a1aff" stroke-width="1.2"/>
<line x1="1096.61" y1="660.88" x2="1096.61" y2="664.41" stroke="#1a1aff" stroke-width="1.2"/>
<line x1="1094.81" y1="660.88" x2="1098.41" y2="660.88" stroke="#1a1aff" stroke-width="1.2"/>
<line x1="1094.81" y1="664.41" x2="1098.41" y2="664.41" stroke="#1a1aff" stroke-width="1.2"/>
<line x1="1099.64" y1="659.69" x2="1099.64" y2="662.98" stroke="#1a1aff" stroke-width="1.2"/>
<line x1="1097.85" y1="659.69" x2="1101.44" y2="659.69" stroke="#1a1aff" stroke-width="1.2"/>
<line x1="1097.85" y1="662.98" x2="1101.44" y2="662.98" stroke="#1a1aff" stroke-width="1.2"/>
<line x1="1102.68" y1="664.08" x2="1102.68" y2="667.67" stroke="#1a1aff" stroke-width="1.2"/>
<line x1="1100.88" y1="664.08" x2="1104.48" y2="664.08" stroke="#1a1aff" stroke-width="1.2"/>
<line x1="1100.88" y1="667.67" x2="1104.48" y2="667.67" stroke="#1a1aff" stroke-width="1.2"/>
<line x1="1105.71" y1="661.40" x2="1105.71" y2="664.79" stroke="#1a1aff" stroke-width="1.2"/>
<line x1="1103.91" y1="661.40" x2="1107.51" y2="661.40" stroke="#1a1aff" stroke-width="1.2"/>
<line x1="1103.91" y1="664.79" x2="1107.51" y2="664.79" stroke="#1a1aff" stroke-width="1.2"/>
<line x1="1108.74" y1="660.57" x2="1108.74" y2="665.12" stroke="#1a1aff" stroke-width="1.2"/>
<line x1="1106.94" y1="660.57" x2="1110.54" y2="660.57" stroke="#1a1aff" stroke-width="1.2"/>
<line x1="1106.94" y1="665.12" x2="1110.54" y2="665.12" stroke="#1a1aff" stroke-width="1.2"/>
<line x1="1111.78" y1="659.10" x2="1111.78" y2="664.57" stroke="#1a1aff" stroke-width="1.2"/>
<line x1="1109.98" y1="659.10" x2="1113.58" y2="659.10" stroke="#1a1aff" stroke-width="1.2"/>
<line x1="1109.98" y1="664.57" x2="1113.58" y2="664.57" stroke="#1a1aff" stroke-width="1.2"/>
<line x1="1114.81" y1="661.84" x2="1114.81" y2="664.43" stroke="#1a1aff" stroke-width="1.2"/>
<line x1="1113.01" y1="661.84" x2="1116.61" y2="661.84" stroke="#1a1aff" stroke-width="1.2"/>
<line x1="1113.01" y1="664.43" x2="1116.61" y2="664.43" stroke="#1a1aff" stroke-width="1.2"/>
<line x1="1117.84" y1="663.44" x2="1117.84" y2="666.02" stroke="#1a1aff" stroke-width="1.2"/>
<line x1="1116.04" y1="663.44" x2="1119.64" y2="663.44" stroke="#1a1aff" stroke-width="1.2"/>
<line x1="1116.04" y1="666.02" x2="1119.64" y2="666.02" stroke="#1a1aff" stroke-width="1.2"/>
<line x1="1120.88" y1="661.94" x2="1120.88" y2="666.08" stroke="#1a1aff" stroke-width="1.2"/>
<line x1="1119.08" y1="661.94" x2="1122.68" y2="661.94" stroke="#1a1aff" stroke-width="1.2"/>
<line x1="1119.08" y1="666.08" x2="1122.68" y2="666.08" stroke="#1a1aff" stroke-width="1.2"/>
<line x1="1123.91" y1="658.95" x2="1123.91" y2="663.67" stroke="#1a1aff" stroke-width="1.2"/>
<line x1="1122.11" y1="658.95" x2="1125.71" y2="658.95" stroke="#1a1aff" stroke-width="1.2"/>
<line x1="1122.11" y1="663.67" x2="1125.71" y2="663.67" stroke="#1a1aff" stroke-width="1.2"/>
<line x1="1126.94" y1="660.06" x2="1126.94" y2="663.07" stroke="#1a1aff" stroke-width="1.2"/>
<line x1="1125.14" y1="660.06" x2="1128.74" y2="660.06" stroke="#1a1aff" stroke-width="1.2"/>
<line x1="1125.14" y1="663.07" x2="1128.74" y2="663.07" stroke="#1a1aff" stroke-width="1.2"/>
<line x1="1129.97" y1="663.69" x2="1129.97" y2="666.98" stroke="#1a1aff" stroke-width="1.2"/>
<line x1="1128.17" y1="663.69" x2="1131.77" y2="663.69" stroke="#1a1aff" stroke-width="1.2"/>
<line x1="1128.17" y1="666.98" x2="1131.77" y2="666.98" stroke="#1a1aff" stroke-width="1.2"/>
<line x1="1133.01" y1="664.25" x2="1133.01" y2="666.80" stroke="#1a1aff" stroke-width="1.2"/>
<line x1="1131.21" y1="664.25" x2="1134.81" y2="664.25" stroke="#1a1aff" stroke-width="1.2"/>
<line x1="1131.21" y1="666.80" x2="1134.81" y2="666.80" stroke="#1a1aff" stroke-width="1.2"/>
<line x1="1136.04" y1="664.29" x2="1136.04" y2="666.77" stroke="#1a1aff" stroke-width="1.2"/>
<line x1="1134.24" y1="664.29" x2="1137.84" y2="664.29" stroke="#1a1aff" stroke-width="1.2"/>
<line x1="1134.24" y1="666.77" x2="1137.84" y2="666.77" stroke="#1a1aff" stroke-width="1.2"/>
<line x1="1139.07" y1="663.82" x2="1139.07" y2="667.91" stroke="#1a1aff" stroke-width="1.2"/>
<line x1="1137.27" y1="663.82" x2="1140.87" y2="663.82" stroke="#1a1aff" stroke-width="1.2"/>
<line x1="1137.27" y1="667.91" x2="1140.87" y2="667.91" stroke="#1a1aff" stroke-width="1.2"/>
<line x1="1142.44" y1="539.64" x2="1142.44" y2="557.22" stroke="#1a1aff" stroke-width="1.2"/>
<line x1="1140.64" y1="539.64" x2="1144.24" y2="539.64" stroke="#1a1aff" stroke-width="1.2"/>
<line x1="1140.64" y1="557.22" x2="1144.24" y2="557.22" stroke="#1a1aff" stroke-width="1.2"/>
<line x1="1144.80" y1="564.90" x2="1144.80" y2="574.25" stroke="#1a1aff" stroke-width="1.2"/>
<line x1="1143.00" y1="564.90" x2="1146.60" y2="564.90" stroke="#1a1aff" stroke-width="1.2"/>
<line x1="1143.00" y1="574.25" x2="1146.60" y2="574.25" stroke="#1a1aff" stroke-width="1.2"/>
<line x1="1147.84" y1="574.38" x2="1147.84" y2="580.34" stroke="#1a1aff" stroke-width="1.2"/>
<line x1="1146.04" y1="574.38" x2="1149.64" y2="574.38" stroke="#1a1aff" stroke-width="1.2"/>
<line x1="1146.04" y1="580.34" x2="1149.64" y2="580.34" stroke="#1a1aff" stroke-width="1.2"/>
<line x1="1150.87" y1="583.58" x2="1150.87" y2="589.17" stroke="#1a1aff" stroke-width="1.2"/>
<line x1="1149.07" y1="583.58" x2="1152.67" y2="583.58" stroke="#1a1aff" stroke-width="1.2"/>
<line x1="1149.07" y1="589.17" x2="1152.67" y2="589.17" stroke="#1a1aff" stroke-width="1.2"/>
<line x1="1153.90" y1="589.00" x2="1153.90" y2="600.25" stroke="#1a1aff" stroke-width="1.2"/>
<line x1="1152.10" y1="589.00" x2="1155.70" y2="589.00" stroke="#1a1aff" stroke-width="1.2"/>
<line x1="1152.10" y1="600.25" x2="1155.70" y2="600.25" stroke="#1a1aff" stroke-width="1.2"/>
<line x1="1156.93" y1="591.94" x2="1156.93" y2="600.50" stroke="#1a1aff" stroke-width="1.2"/>
<line x1="1155.13" y1="591.94" x2="1158.73" y2="591.94" stroke="#1a1aff" stroke-width="1.2"/>
<line x1="1155.13" y1="600.50" x2="1158.73" y2="600.50" stroke="#1a1aff" stroke-width="1.2"/>
<line x1="1159.97" y1="596.28" x2="1159.97" y2="603.96" stroke="#1a1aff" stroke-width="1.2"/>
<line x1="1158.17" y1="596.28" x2="1161.77" y2="596.28" stroke="#1a1aff" stroke-width="1.2"/>
<line x1="1158.17" y1="603.96" x2="1161.77" y2="603.96" stroke="#1a1aff" stroke-width="1.2"/>
<line x1="1163.00" y1="596.46" x2="1163.00" y2="606.06" stroke="#1a1aff" stroke-width="1.2"/>
<line x1="1161.20" y1="596.46" x2="1164.80" y2="596.46" stroke="#1a1aff" stroke-width="1.2"/>
<line x1="1161.20" y1="606.06" x2="1164.80" y2="606.06" stroke="#1a1aff" stroke-width="1.2"/>
<line x1="1166.03" y1="599.38" x2="1166.03" y2="609.24" stroke="#1a1aff" stroke-width="1.2"/>
<line x1="1164.23" y1="599.38" x2="1167.83" y2="599.38" stroke="#1a1aff" stroke-width="1.2"/>
<line x1="1164.23" y1="609.24" x2="1167.83" y2="609.24" stroke="#1a1aff" stroke-width="1.2"/>
<line x1="1169.07" y1="601.61" x2="1169.07" y2="610.08" stroke="#1a1aff" stroke-width="1.2"/>
<line x1="1167.27" y1="601.61" x2="1170.87" y2="601.61" stroke="#1a1aff" stroke-width="1.2"/>
<line x1="1167.27" y1="610.08" x2="1170.87" y2="610.08" stroke="#1a1aff" stroke-width="1.2"/>
<line x1="1172.10" y1="604.07" x2="1172.10" y2="609.49" stroke="#1a1aff" stroke-width="1.2"/>
<line x1="1170.30" y1="604.07" x2="1173.90" y2="604.07" stroke="#1a1aff" stroke-width="1.2"/>
<line x1="1170.30" y1="609.49" x2="1173.90" y2="609.49" stroke="#1a1aff" stroke-width="1.2"/>
<line x1="1175.13" y1="601.33" x2="1175.13" y2="611.86" stroke="#1a1aff" stroke-width="1.2"/>
<line x1="1173.33" y1="601.33" x2="1176.93" y2="601.33" stroke="#1a1aff" stroke-width="1.2"/>
<line x1="1173.33" y1="611.86" x2="1176.93" y2="611.86" stroke="#1a1aff" stroke-width="1.2"/>
<line x1="1178.17" y1="602.38" x2="1178.17" y2="608.72" stroke="#1a1aff" stroke-width="1.2"/>
<line x1="1176.37" y1="602.38" x2="1179.97" y2="602.38" stroke="#1a1aff" stroke-width="1.2"/>
<line x1="1176.37" y1="608.72" x2="1179.97" y2="608.72" stroke="#1a1aff" stroke-width="1.2"/>
<line x1="1181.20" y1="604.47" x2="1181.20" y2="609.63" stroke="#1a1aff" stroke-width="1.2"/>
<line x1="1179.40" y1="604.47" x2="1183.00" y2="604.47" stroke="#1a1aff" stroke-width="1.2"/>
<line x1="1179.40" y1="609.63" x2="1183.00" y2="609.63" stroke="#1a1aff" stroke-width="1.2"/>
<line x1="1184.23" y1="606.68" x2="1184.23" y2="613.97" stroke="#1a1aff" stroke-width="1.2"/>
<line x1="1182.43" y1="606.68" x2="1186.03" y2="606.68" stroke="#1a1aff" stroke-width="1.2"/>
<line x1="1182.43" y1="613.97" x2="1186.03" y2="613.97" stroke="#1a1aff" stroke-width="1.2"/>
<line x1="1187.26" y1="603.00" x2="1187.26" y2="611.52" stroke="#1a1aff" stroke-width="1.2"/>
<line x1="1185.46" y1="603.00" x2="1189.06" y2="603.00" stroke="#1a1aff" stroke-width="1.2"/>
<line x1="1185.46" y1="611.52" x2="1189.06" y2="611.52" stroke="#1a1aff" stroke-width="1.2"/>
<line x1="1190.30" y1="602.25" x2="1190.30" y2="611.43" stroke="#1a1aff" stroke-width="1.2"/>
<line x1="1188.50" y1="602.25" x2="1192.10" y2="602.25" stroke="#1a1aff" stroke-width="1.2"/>
<line x1="1188.50" y1="611.43" x2="1192.10" y2="611.43" stroke="#1a1aff" stroke-width="1.2"/>
<line x1="1193.33" y1="609.79" x2="1193.33" y2="615.86" stroke="#1a1aff" stroke-width="1.2"/>
<line x1="1191.53" y1="609.79" x2="1195.13" y2="609.79" stroke="#1a1aff" stroke-width="1.2"/>
<line x1="1191.53" y1="615.86" x2="1195.13" y2="615.86" stroke="#1a1aff" stroke-width="1.2"/>
<line x1="1196.36" y1="611.17" x2="1196.36" y2="620.90" stroke="#1a1aff" stroke-width="1.2"/>
<line x1="1194.56" y1="611.17" x2="1198.16" y2="611.17" stroke="#1a1aff" stroke-width="1.2"/>
<line x1="1194.56" y1="620.90" x2="1198.16" y2="620.90" stroke="#1a1aff" stroke-width="1.2"/>
<line x1="1199.40" y1="613.12" x2="1199.40" y2="621.38" stroke="#1a1aff" stroke-width="1.2"/>
<line x1="1197.60" y1="613.12" x2="1201.20" y2="613.12" stroke="#1a1aff" stroke-width="1.2"/>
<line x1="1197.60" y1="621.38" x2="1201.20" y2="621.38" stroke="#1a1aff" stroke-width="1.2"/>
<line x1="1202.43" y1="613.75" x2="1202.43" y2="619.74" stroke="#1a1aff" stroke-width="1.2"/>
<line x1="1200.63" y1="613.75" x2="1204.23" y2="613.75" stroke="#1a1aff" stroke-width="1.2"/>
<line x1="1200.63" y1="619.74" x2="1204.23" y2="619.74" stroke="#1a1aff" stroke-width="1.2"/>
<line x1="1205.46" y1="611.21" x2="1205.46" y2="621.90" stroke="#1a1aff" stroke-width="1.2"/>
<line x1="1203.66" y1="611.21" x2="1207.26" y2="611.21" stroke="#1a1aff" stroke-width="1.2"/>
<line x1="1203.66" y1="621.90" x2="1207.26" y2="621.90" stroke="#1a1aff" stroke-width="1.2"/>
<line x1="1208.50" y1="606.61" x2="1208.50" y2="617.01" stroke="#1a1aff" stroke-width="1.2"/>
<line x1="1206.70" y1="606.61" x2="1210.30" y2="606.61" stroke="#1a1aff" stroke-width="1.2"/>
<line x1="1206.70" y1="617.01" x2="1210.30" y2="617.01" stroke="#1a1aff" stroke-width="1.2"/>
<line x1="1211.53" y1="607.96" x2="1211.53" y2="619.04" stroke="#1a1aff" stroke-width="1.2"/>
<line x1="1209.73" y1="607.96" x2="1213.33" y2="607.96" stroke="#1a1aff" stroke-width="1.2"/>
<line x1="1209.73" y1="619.04" x2="1213.33" y2="619.04" stroke="#1a1aff" stroke-width="1.2"/>
<line x1="1214.56" y1="607.09" x2="1214.56" y2="616.61" stroke="#1a1aff" stroke-width="1.2"/>
<line x1="1212.76" y1="607.09" x2="1216.36" y2="607.09" stroke="#1a1aff" stroke-width="1.2"/>
<line x1="1212.76" y1="616.61" x2="1216.36" y2="616.61" stroke="#1a1aff" stroke-width="1.2"/>
<line x1="1217.60" y1="609.29" x2="1217.60" y2="615.66" stroke="#1a1aff" stroke-width="1.2"/>
<line x1="1215.80" y1="609.29" x2="1219.39" y2="609.29" stroke="#1a1aff" stroke-width="1.2"/>
<line x1="1215.80" y1="615.66" x2="1219.39" y2="615.66" stroke="#1a1aff" stroke-width="1.2"/>
<line x1="1220.63" y1="604.38" x2="1220.63" y2="614.57" stroke="#1a1aff" stroke-width="1.2"/>
<line x1="1218.83" y1="604.38" x2="1222.43" y2="604.38" stroke="#1a1aff" stroke-width="1.2"/>
<line x1="1218.83" y1="614.57" x2="1222.43" y2="614.57" stroke="#1a1aff" stroke-width="1.2"/>
<line x1="1223.66" y1="607.36" x2="1223.66" y2="618.42" stroke="#1a1aff" stroke-width="1.2"/>
<line x1="1221.86" y1="607.36" x2="1225.46" y2="607.36" stroke="#1a1aff" stroke-width="1.2"/>
<line x1="1221.86" y1="618.42" x2="1225.46" y2="618.42" stroke="#1a1aff" stroke-width="1.2"/>
<line x1="1226.69" y1="607.66" x2="1226.69" y2="616.18" stroke="#1a1aff" stroke-width="1.2"/>
<line x1="1224.89" y1="607.66" x2="1228.49" y2="607.66" stroke="#1a1aff" stroke-width="1.2"/>
<line x1="1224.89" y1="616.18" x2="1228.49" y2="616.18" stroke="#1a1aff" stroke-width="1.2"/>
<line x1="1229.73" y1="606.26" x2="1229.73" y2="617.35" stroke="#1a1aff" stroke-width="1.2"/>
<line x1="1227.93" y1="606.26" x2="1231.53" y2="606.26" stroke="#1a1aff" stroke-width="1.2"/>
<line x1="1227.93" y1="617.35" x2="1231.53" y2="617.35" stroke="#1a1aff" stroke-width="1.2"/>
<line x1="1232.76" y1="604.03" x2="1232.76" y2="615.54" stroke="#1a1aff" stroke-width="1.2"/>
<line x1="1230.96" y1="604.03" x2="1234.56" y2="604.03" stroke="#1a1aff" stroke-width="1.2"/>
<line x1="1230.96" y1="615.54" x2="1234.56" y2="615.54" stroke="#1a1aff" stroke-width="1.2"/>
<line x1="1235.79" y1="610.69" x2="1235.79" y2="618.24" stroke="#1a1aff" stroke-width="1.2"/>
<line x1="1233.99" y1="610.69" x2="1237.59" y2="610.69" stroke="#1a1aff" stroke-width="1.2"/>
<line x1="1233.99" y1="618.24" x2="1237.59" y2="618.24" stroke="#1a1aff" stroke-width="1.2"/>
<line x1="1238.83" y1="606.21" x2="1238.83" y2="617.53" stroke="#1a1aff" stroke-width="1.2"/>
<line x1="1237.03" y1="606.21" x2="1240.63" y2="606.21" stroke="#1a1aff" stroke-width="1.2"/>
<line x1="1237.03" y1="617.53" x2="1240.63" y2="617.53" stroke="#1a1aff" stroke-width="1.2"/>
<line x1="1241.86" y1="606.82" x2="1241.86" y2="618.10" stroke="#1a1aff" stroke-width="1.2"/>
<line x1="1240.06" y1="606.82" x2="1243.66" y2="606.82" stroke="#1a1aff" stroke-width="1.2"/>
<line x1="1240.06" y1="618.10" x2="1243.66" y2="618.10" stroke="#1a1aff" stroke-width="1.2"/>
<line x1="1244.89" y1="606.18" x2="1244.89" y2="616.49" stroke="#1a1aff" stroke-width="1.2"/>
<line x1="1243.09" y1="606.18" x2="1246.69" y2="606.18" stroke="#1a1aff" stroke-width="1.2"/>
<line x1="1243.09" y1="616.49" x2="1246.69" y2="616.49" stroke="#1a1aff" stroke-width="1.2"/>
<line x1="1247.92" y1="607.68" x2="1247.92" y2="612.64" stroke="#1a1aff" stroke-width="1.2"/>
<line x1="1246.12" y1="607.68" x2="1249.72" y2="607.68" stroke="#1a1aff" stroke-width="1.2"/>
<line x1="1246.12" y1="612.64" x2="1249.72" y2="612.64" stroke="#1a1aff" stroke-width="1.2"/>
<line x1="1250.96" y1="610.12" x2="1250.96" y2="617.41" stroke="#1a1aff" stroke-width="1.2"/>
<line x1="1249.16" y1="610.12" x2="1252.76" y2="610.12" stroke="#1a1aff" stroke-width="1.2"/>
<line x1="1249.16" y1="617.41" x2="1252.76" y2="617.41" stroke="#1a1aff" stroke-width="1.2"/>
<line x1="1253.99" y1="607.20" x2="1253.99" y2="616.28" stroke="#1a1aff" stroke-width="1.2"/>
<line x1="1252.19" y1="607.20" x2="1255.79" y2="607.20" stroke="#1a1aff" stroke-width="1.2"/>
<line x1="1252.19" y1="616.28" x2="1255.79" y2="616.28" stroke="#1a1aff" stroke-width="1.2"/>
<line x1="1257.02" y1="608.21" x2="1257.02" y2="617.25" stroke="#1a1aff" stroke-width="1.2"/>
<line x1="1255.22" y1="608.21" x2="1258.82" y2="608.21" stroke="#1a1aff" stroke-width="1.2"/>
<line x1="1255.22" y1="617.25" x2="1258.82" y2="617.25" stroke="#1a1aff" stroke-width="1.2"/>
<line x1="1260.06" y1="607.57" x2="1260.06" y2="617.62" stroke="#1a1aff" stroke-width="1.2"/>
<line x1="1258.26" y1="607.57" x2="1261.86" y2="607.57" stroke="#1a1aff" stroke-width="1.2"/>
<line x1="1258.26" y1="617.62" x2="1261.86" y2="617.62" stroke="#1a1aff" stroke-width="1.2"/>
<line x1="1263.09" y1="610.67" x2="1263.09" y2="619.97" stroke="#1a1aff" stroke-width="1.2"/>
<line x1="1261.29" y1="610.67" x2="1264.89" y2="610.67" stroke="#1a1aff" stroke-width="1.2"/>
<line x1="1261.29" y1="619.97" x2="1264.89" y2="619.97" stroke="#1a1aff" stroke-width="1.2"/>
<line x1="1266.12" y1="608.34" x2="1266.12" y2="614.32" stroke="#1a1aff" stroke-width="1.2"/>
<line x1="1264.32" y1="608.34" x2="1267.92" y2="608.34" stroke="#1a1aff" stroke-width="1.2"/>
<line x1="1264.32" y1="614.32" x2="1267.92" y2="614.32" stroke="#1a1aff" stroke-width="1.2"/>
<line x1="1269.16" y1="604.88" x2="1269.16" y2="616.12" stroke="#1a1aff" stroke-width="1.2"/>
<line x1="1267.36" y1="604.88" x2="1270.96" y2="604.88" stroke="#1a1aff" stroke-width="1.2"/>
<line x1="1267.36" y1="616.12" x2="1270.96" y2="616.12" stroke="#1a1aff" stroke-width="1.2"/>
<line x1="1272.19" y1="609.60" x2="1272.19" y2="618.15" stroke="#1a1aff" stroke-width="1.2"/>
<line x1="1270.39" y1="609.60" x2="1273.99" y2="609.60" stroke="#1a1aff" stroke-width="1.2"/>
<line x1="1270.39" y1="618.15" x2="1273.99" y2="618.15" stroke="#1a1aff" stroke-width="1.2"/>
<line x1="1275.22" y1="608.66" x2="1275.22" y2="619.57" stroke="#1a1aff" stroke-width="1.2"/>
<line x1="1273.42" y1="608.66" x2="1277.02" y2="608.66" stroke="#1a1aff" stroke-width="1.2"/>
<line x1="1273.42" y1="619.57" x2="1277.02" y2="619.57" stroke="#1a1aff" stroke-width="1.2"/>
<line x1="1278.25" y1="607.37" x2="1278.25" y2="613.67" stroke="#1a1aff" stroke-width="1.2"/>
<line x1="1276.45" y1="607.37" x2="1280.05" y2="607.37" stroke="#1a1aff" stroke-width="1.2"/>
<line x1="1276.45" y1="613.67" x2="1280.05" y2="613.67" stroke="#1a1aff" stroke-width="1.2"/>
<line x1="1281.29" y1="609.45" x2="1281.29" y2="621.16" stroke="#1a1aff" stroke-width="1.2"/>
<line x1="1279.49" y1="609.45" x2="1283.09" y2="609.45" stroke="#1a1aff" stroke-width="1.2"/>
<line x1="1279.49" y1="621.16" x2="1283.09" y2="621.16" stroke="#1a1aff" stroke-width="1.2"/>
<line x1="1284.32" y1="611.16" x2="1284.32" y2="619.84" stroke="#1a1aff" stroke-width="1.2"/>
<line x1="1282.52" y1="611.16" x2="1286.12" y2="611.16" stroke="#1a1aff" stroke-width="1.2"/>
<line x1="1282.52" y1="619.84" x2="1286.12" y2="619.84" stroke="#1a1aff" stroke-width="1.2"/>
<line x1="1287.35" y1="610.45" x2="1287.35" y2="620.63" stroke="#1a1aff" stroke-width="1.2"/>
<line x1="1285.55" y1="610.45" x2="1289.15" y2="610.45" stroke="#1a1aff" stroke-width="1.2"/>
<line x1="1285.55" y1="620.63" x2="1289.15" y2="620.63" stroke="#1a1aff" stroke-width="1.2"/>
<line x1="1290.39" y1="606.61" x2="1290.39" y2="616.55" stroke="#1a1aff" stroke-width="1.2"/>
<line x1="1288.59" y1="606.61" x2="1292.19" y2="606.61" stroke="#1a1aff" stroke-width="1.2"/>
<line x1="1288.59" y1="616.55" x2="1292.19" y2="616.55" stroke="#1a1aff" stroke-width="1.2"/>
<line x1="1293.42" y1="606.44" x2="1293.42" y2="617.35" stroke="#1a1aff" stroke-width="1.2"/>
<line x1="1291.62" y1="606.44" x2="1295.22" y2="606.44" stroke="#1a1aff" stroke-width="1.2"/>
<line x1="1291.62" y1="617.35" x2="1295.22" y2="617.35" stroke="#1a1aff" stroke-width="1.2"/>
<line x1="1296.45" y1="609.91" x2="1296.45" y2="617.27" stroke="#1a1aff" stroke-width="1.2"/>
<line x1="1294.65" y1="609.91" x2="1298.25" y2="609.91" stroke="#1a1aff" stroke-width="1.2"/>
<line x1="1294.65" y1="617.27" x2="1298.25" y2="617.27" stroke="#1a1aff" stroke-width="1.2"/>
<line x1="1299.49" y1="609.95" x2="1299.49" y2="615.40" stroke="#1a1aff" stroke-width="1.2"/>
<line x1="1297.69" y1="609.95" x2="1301.29" y2="609.95" stroke="#1a1aff" stroke-width="1.2"/>
<line x1="1297.69" y1="615.40" x2="1301.29" y2="615.40" stroke="#1a1aff" stroke-width="1.2"/>
<line x1="1302.52" y1="612.09" x2="1302.52" y2="619.75" stroke="#1a1aff" stroke-width="1.2"/>
<line x1="1300.72" y1="612.09" x2="1304.32" y2="612.09" stroke="#1a1aff" stroke-width="1.2"/>
<line x1="1300.72" y1="619.75" x2="1304.32" y2="619.75" stroke="#1a1aff" stroke-width="1.2"/>
<line x1="1305.55" y1="609.53" x2="1305.55" y2="615.63" stroke="#1a1aff" stroke-width="1.2"/>
<line x1="1303.75" y1="609.53" x2="1307.35" y2="609.53" stroke="#1a1aff" stroke-width="1.2"/>
<line x1="1303.75" y1="615.63" x2="1307.35" y2="615.63" stroke="#1a1aff" stroke-width="1.2"/>
<line x1="1308.59" y1="609.39" x2="1308.59" y2="617.96" stroke="#1a1aff" stroke-width="1.2"/>
<line x1="1306.79" y1="609.39" x2="1310.38" y2="609.39" stroke="#1a1aff" stroke-width="1.2"/>
<line x1="1306.79" y1="617.96" x2="1310.38" y2="617.96" stroke="#1a1aff" stroke-width="1.2"/>
<line x1="1311.62" y1="608.06" x2="1311.62" y2="618.51" stroke="#1a1aff" stroke-width="1.2"/>
<line x1="1309.82" y1="608.06" x2="1313.42" y2="608.06" stroke="#1a1aff" stroke-width="1.2"/>
<line x1="1309.82" y1="618.51" x2="1313.42" y2="618.51" stroke="#1a1aff" stroke-width="1.2"/>
<line x1="1314.65" y1="610.31" x2="1314.65" y2="617.66" stroke="#1a1aff" stroke-width="1.2"/>
<line x1="1312.85" y1="610.31" x2="1316.45" y2="610.31" stroke="#1a1aff" stroke-width="1.2"/>
<line x1="1312.85" y1="617.66" x2="1316.45" y2="617.66" stroke="#1a1aff" stroke-width="1.2"/>
<line x1="1317.68" y1="611.04" x2="1317.68" y2="616.82" stroke="#1a1aff" stroke-width="1.2"/>
<line x1="1315.88" y1="611.04" x2="1319.48" y2="611.04" stroke="#1a1aff" stroke-width="1.2"/>
<line x1="1315.88" y1="616.82" x2="1319.48" y2="616.82" stroke="#1a1aff" stroke-width="1.2"/>
<line x1="1320.72" y1="612.35" x2="1320.72" y2="617.42" stroke="#1a1aff" stroke-width="1.2"/>
<line x1="1318.92" y1="612.35" x2="1322.52" y2="612.35" stroke="#1a1aff" stroke-width="1.2"/>
<line x1="1318.92" y1="617.42" x2="1322.52" y2="617.42" stroke="#1a1aff" stroke-width="1.2"/>
<circle cx="1038.98" cy="663.65" r="2.40" fill="#0a0a30" stroke="none" stroke-width="1"/>
<circle cx="1042.02" cy="664.76" r="2.40" fill="#0a0a30" stroke="none" stroke-width="1"/>
<circle cx="1045.05" cy="661.31" r="2.40" fill="#0a0a30" stroke="none" stroke-width="1"/>
<circle cx="1048.08" cy="663.42" r="2.40" fill="#0a0a30" stroke="none" stroke-width="1"/>
<circle cx="1051.12" cy="662.43" r="2.40" fill="#0a0a30" stroke="none" stroke-width="1"/>
<circle cx="1054.15" cy="665.85" r="2.40" fill="#0a0a30" stroke="none" stroke-width="1"/>
<circle cx="1057.18" cy="664.95" r="2.40" fill="#0a0a30" stroke="none" stroke-width="1"/>
<circle cx="1060.22" cy="661.90" r="2.40" fill="#0a0a30" stroke="none" stroke-width="1"/>
<circle cx="1063.25" cy="662.11" r="2.40" fill="#0a0a30" stroke="none" stroke-width="1"/>
<circle cx="1066.28" cy="661.69" r="2.40" fill="#0a0a30" stroke="none" stroke-width="1"/>
<circle cx="1069.32" cy="663.05" r="2.40" fill="#0a0a30" stroke="none" stroke-width="1"/>
<circle cx="1072.35" cy="663.91" r="2.40" fill="#0a0a30" stroke="none" stroke-width="1"/>
<circle cx="1075.38" cy="663.15" r="2.40" fill="#0a0a30" stroke="none" stroke-width="1"/>
<circle cx="1078.41" cy="661.84" r="2.40" fill="#0a0a30" stroke="none" stroke-width="1"/>
<circle cx="1081.45" cy="664.49" r="2.40" fill="#0a0a30" stroke="none" stroke-width="1"/>
<circle cx="1084.48" cy="663.38" r="2.40" fill="#0a0a30" stroke="none" stroke-width="1"/>
<circle cx="1087.51" cy="664.64" r="2.40" fill="#0a0a30" stroke="none" stroke-width="1"/>
<circle cx="1090.55" cy="662.24" r="2.40" fill="#0a0a30" stroke="none" stroke-width="1"/>
<circle cx="1093.58" cy="665.94" r="2.40" fill="#0a0a30" stroke="none" stroke-width="1"/>
<circle cx="1096.61" cy="662.64" r="2.40" fill="#0a0a30" stroke="none" stroke-width="1"/>
<circle cx="1099.64" cy="661.33" r="2.40" fill="#0a0a30" stroke="none" stroke-width="1"/>
<circle cx="1102.68" cy="665.87" r="2.40" fill="#0a0a30" stroke="none" stroke-width="1"/>
<circle cx="1105.71" cy="663.09" r="2.40" fill="#0a0a30" stroke="none" stroke-width="1"/>
<circle cx="1108.74" cy="662.85" r="2.40" fill="#0a0a30" stroke="none" stroke-width="1"/>
<circle cx="1111.78" cy="661.83" r="2.40" fill="#0a0a30" stroke="none" stroke-width="1"/>
<circle cx="1114.81" cy="663.14" r="2.40" fill="#0a0a30" stroke="none" stroke-width="1"/>
<circle cx="1117.84" cy="664.73" r="2.40" fill="#0a0a30" stroke="none" stroke-width="1"/>
<circle cx="1120.88" cy="664.01" r="2.40" fill="#0a0a30" stroke="none" stroke-width="1"/>
<circle cx="1123.91" cy="661.31" r="2.40" fill="#0a0a30" stroke="none" stroke-width="1"/>
<circle cx="1126.94" cy="661.57" r="2.40" fill="#0a0a30" stroke="none" stroke-width="1"/>
<circle cx="1129.97" cy="665.34" r="2.40" fill="#0a0a30" stroke="none" stroke-width="1"/>
<circle cx="1133.01" cy="665.53" r="2.40" fill="#0a0a30" stroke="none" stroke-width="1"/>
<circle cx="1136.04" cy="665.53" r="2.40" fill="#0a0a30" stroke="none" stroke-width="1"/>
<circle cx="1139.07" cy="665.87" r="2.40" fill="#0a0a30" stroke="none" stroke-width="1"/>
<circle cx="1142.44" cy="548.43" r="2.40" fill="#0a0a30" stroke="none" stroke-width="1"/>
<circle cx="1144.80" cy="569.57" r="2.40" fill="#0a0a30" stroke="none" stroke-width="1"/>
<circle cx="1147.84" cy="577.36" r="2.40" fill="#0a0a30" stroke="none" stroke-width="1"/>
<circle cx="1150.87" cy="586.38" r="2.40" fill="#0a0a30" stroke="none" stroke-width="1"/>
<circle cx="1153.90" cy="594.63" r="2.40" fill="#0a0a30" stroke="none" stroke-width="1"/>
<circle cx="1156.93" cy="596.22" r="2.40" fill="#0a0a30" stroke="none" stroke-width="1"/>
<circle cx="1159.97" cy="600.12" r="2.40" fill="#0a0a30" stroke="none" stroke-width="1"/>
<circle cx="1163.00" cy="601.26" r="2.40" fill="#0a0a30" stroke="none" stroke-width="1"/>
<circle cx="1166.03" cy="604.31" r="2.40" fill="#0a0a30" stroke="none" stroke-width="1"/>
<circle cx="1169.07" cy="605.85" r="2.40" fill="#0a0a30" stroke="none" stroke-width="1"/>
<circle cx="1172.10" cy="606.78" r="2.40" fill="#0a0a30" stroke="none" stroke-width="1"/>
<circle cx="1175.13" cy="606.60" r="2.40" fill="#0a0a30" stroke="none" stroke-width="1"/>
<circle cx="1178.17" cy="605.55" r="2.40" fill="#0a0a30" stroke="none" stroke-width="1"/>
<circle cx="1181.20" cy="607.05" r="2.40" fill="#0a0a30" stroke="none" stroke-width="1"/>
<circle cx="1184.23" cy="610.32" r="2.40" fill="#0a0a30" stroke="none" stroke-width="1"/>
<circle cx="1187.26" cy="607.26" r="2.40" fill="#0a0a30" stroke="none" stroke-width="1"/>
<circle cx="1190.30" cy="606.84" r="2.40" fill="#0a0a30" stroke="none" stroke-width="1"/>
<circle cx="1193.33" cy="612.83" r="2.40" fill="#0a0a30" stroke="none" stroke-width="1"/>
<circle cx="1196.36" cy="616.04" r="2.40" fill="#0a0a30" stroke="none" stroke-width="1"/>
<circle cx="1199.40" cy="617.25" r="2.40" fill="#0a0a30" stroke="none" stroke-width="1"/>
<circle cx="1202.43" cy="616.75" r="2.40" fill="#0a0a30" stroke="none" stroke-width="1"/>
<circle cx="1205.46" cy="616.56" r="2.40" fill="#0a0a30" stroke="none" stroke-width="1"/>
<circle cx="1208.50" cy="611.81" r="2.40" fill="#0a0a30" stroke="none" stroke-width="1"/>
<circle cx="1211.53" cy="613.50" r="2.40" fill="#0a0a30" stroke="none" stroke-width="1"/>
<circle cx="1214.56" cy="611.85" r="2.40" fill="#0a0a30" stroke="none" stroke-width="1"/>
<circle cx="1217.60" cy="612.47" r="2.40" fill="#0a0a30" stroke="none" stroke-width="1"/>
<circle cx="1220.63" cy="609.47" r="2.40" fill="#0a0a30" stroke="none" stroke-width="1"/>
<circle cx="1223.66" cy="612.89" r="2.40" fill="#0a0a30" stroke="none" stroke-width="1"/>
<circle cx="1226.69" cy="611.92" r="2.40" fill="#0a0a30" stroke="none" stroke-width="1"/>
<circle cx="1229.73" cy="611.81" r="2.40" fill="#0a0a30" stroke="none" stroke-width="1"/>
<circle cx="1232.76" cy="609.79" r="2.40" fill="#0a0a30" stroke="none" stroke-width="1"/>
<circle cx="1235.79" cy="614.46" r="2.40" fill="#0a0a30" stroke="none" stroke-width="1"/>
<circle cx="1238.83" cy="611.87" r="2.40" fill="#0a0a30" stroke="none" stroke-width="1"/>
<circle cx="1241.86" cy="612.46" r="2.40" fill="#0a0a30" stroke="none" stroke-width="1"/>
<circle cx="1244.89" cy="611.33" r="2.40" fill="#0a0a30" stroke="none" stroke-width="1"/>
<circle cx="1247.92" cy="610.16" r="2.40" fill="#0a0a30" stroke="none" stroke-width="1"/>
<circle cx="1250.96" cy="613.76" r="2.40" fill="#0a0a30" stroke="none" stroke-width="1"/>
<circle cx="1253.99" cy="611.74" r="2.40" fill="#0a0a30" stroke="none" stroke-width="1"/>
<circle cx="1257.02" cy="612.73" r="2.40" fill="#0a0a30" stroke="none" stroke-width="1"/>
<circle cx="1260.06" cy="612.60" r="2.40" fill="#0a0a30" stroke="none" stroke-width="1"/>
<circle cx="1263.09" cy="615.32" r="2.40" fill="#0a0a30" stroke="none" stroke-width="1"/>
<circle cx="1266.12" cy="611.33" r="2.40" fill="#0a0a30" stroke="none" stroke-width="1"/>
<circle cx="1269.16" cy="610.50" r="2.40" fill="#0a0a30" stroke="none" stroke-width="1"/>
<circle cx="1272.19" cy="613.88" r="2.40" fill="#0a0a30" stroke="none" stroke-width="1"/>
<circle cx="1275.22" cy="614.11" r="2.40" fill="#0a0a30" stroke="none" stroke-width="1"/>
<circle cx="1278.25" cy="610.52" r="2.40" fill="#0a0a30" stroke="none" stroke-width="1"/>
<circle cx="1281.29" cy="615.30" r="2.40" fill="#0a0a30" stroke="none" stroke-width="1"/>
<circle cx="1284.32" cy="615.50" r="2.40" fill="#0a0a30" stroke="none" stroke-width="1"/>
<circle cx="1287.35" cy="615.54" r="2.40" fill="#0a0a30" stroke="none" stroke-width="1"/>
<circle cx="1290.39" cy="611.58" r="2.40" fill="#0a0a30" stroke="none" stroke-width="1"/>
<circle cx="1293.42" cy="611.89" r="2.40" fill="#0a0a30" stroke="none" stroke-width="1"/>
<circle cx="1296.45" cy="613.59" r="2.40" fill="#0a0a30" stroke="none" stroke-width="1"/>
<circle cx="1299.49" cy="612.67" r="2.40" fill="#0a0a30" stroke="none" stroke-width="1"/>
<circle cx="1302.52" cy="615.92" r="2.40" fill="#0a0a30" stroke="none" stroke-width="1"/>
<circle cx="1305.55" cy="612.58" r="2.40" fill="#0a0a30" stroke="none" stroke-width="1"/>
<circle cx="1308.59" cy="613.68" r="2.40" fill="#0a0a30" stroke="none" stroke-width="1"/>
<circle cx="1311.62" cy="613.29" r="2.40" fill="#0a0a30" stroke="none" stroke-width="1"/>
<circle cx="1314.65" cy="613.99" r="2.40" fill="#0a0a30" stroke="none" stroke-width="1"/>
<circle cx="1317.68" cy="613.93" r="2.40" fill="#0a0a30" stroke="none" stroke-width="1"/>
<circle cx="1320.72" cy="614.89" r="2.40" fill="#0a0a30" stroke="none" stroke-width="1"/>
<text x="1100.30" y="645.10" font-size="27" text-anchor="middle">1</text>
<text x="1294.20" y="646.30" font-size="27" text-anchor="middle">2</text>
<path d="M1143.9,672.6 L1139.3,684.6 L1148.5,684.6 Z" stroke="#666" stroke-width="1.2" fill="#fff"/>
<line x1="1144.00" y1="684.60" x2="1144.00" y2="699.10" stroke="#888" stroke-width="1.7"/>
<text x="1149.40" y="721.00" font-size="18.8" text-anchor="middle">HFS</text>
<path d="M1166.20,510.70 C1166.97,512.15 1169.65,515.05 1170.80,519.40 C1171.95,523.75 1172.42,531.02 1173.10,536.80 C1173.78,542.58 1174.12,549.87 1174.90,554.10 C1175.68,558.33 1176.83,561.23 1177.80,562.20 C1178.77,563.17 1179.35,562.60 1180.70,559.90 C1182.05,557.20 1183.50,550.82 1185.90,546.00 C1188.30,541.18 1191.45,535.15 1195.10,531.00 C1198.75,526.85 1203.75,523.52 1207.80,521.10 C1211.85,518.68 1215.15,517.82 1219.40,516.50 C1223.65,515.18 1230.98,513.75 1233.30,513.20" stroke="#000" stroke-width="1.4" fill="none"/>
<path d="M1166.20,510.70 C1166.97,512.15 1169.65,515.05 1170.80,519.40 C1171.95,523.75 1172.42,530.70 1173.10,536.80 C1173.78,542.90 1174.38,549.63 1174.90,556.00 C1175.42,562.37 1175.82,570.30 1176.20,575.00 C1176.58,579.70 1176.80,583.37 1177.20,584.20 C1177.60,585.03 1178.02,582.12 1178.60,580.00 C1179.18,577.88 1179.68,575.82 1180.70,571.50 C1181.72,567.18 1182.10,559.70 1184.70,554.10 C1187.30,548.50 1192.45,542.53 1196.30,537.90 C1200.15,533.27 1203.95,529.38 1207.80,526.30 C1211.65,523.22 1215.15,521.42 1219.40,519.40 C1223.65,517.38 1230.98,515.07 1233.30,514.20" stroke="#000" stroke-width="1.4" fill="none"/>
<path d="M1238.5,565.7 V587.6 H1254.7" stroke="#555" stroke-width="1.2" fill="none"/>
<text x="1213.60" y="565.10" font-size="16.7" text-anchor="middle" fill="#ff1a1a">1 + 2</text>
<path d="M1286.50,514.20 C1287.17,515.83 1289.35,517.35 1290.50,524.00 C1291.65,530.65 1292.58,546.43 1293.40,554.10 C1294.22,561.77 1294.82,566.43 1295.40,570.00 C1295.98,573.57 1296.38,575.17 1296.90,575.50 C1297.42,575.83 1297.92,573.63 1298.50,572.00 C1299.08,570.37 1299.32,569.65 1300.40,565.70 C1301.48,561.75 1303.07,553.70 1305.00,548.30 C1306.93,542.90 1309.30,537.35 1312.00,533.30 C1314.70,529.25 1316.97,526.90 1321.20,524.00 C1325.43,521.10 1334.70,517.25 1337.40,515.90" stroke="#000" stroke-width="1.4" fill="none"/>
<path d="M1286.50,514.20 C1287.17,515.83 1289.42,517.70 1290.50,524.00 C1291.58,530.30 1292.37,542.67 1293.00,552.00 C1293.63,561.33 1293.93,572.52 1294.30,580.00 C1294.67,587.48 1294.78,595.23 1295.20,596.90 C1295.62,598.57 1296.17,593.65 1296.80,590.00 C1297.43,586.35 1298.30,579.42 1299.00,575.00 C1299.70,570.58 1299.95,568.08 1301.00,563.50 C1302.05,558.92 1303.42,552.65 1305.30,547.50 C1307.18,542.35 1309.62,536.62 1312.30,532.60 C1314.98,528.58 1317.22,526.18 1321.40,523.40 C1325.58,520.62 1334.73,517.15 1337.40,515.90" stroke="#000" stroke-width="1.4" fill="none"/>
<text x="1328.70" y="570.90" font-size="16.7" text-anchor="middle" fill="#1a1aff">1 + 2</text>
<circle cx="1170.20" cy="479.80" r="4.40" fill="none" stroke="#ff1a1a" stroke-width="1.2"/>
<text x="1179.50" y="487.00" font-size="20.4" fill="#ff1a1a">Ctrl</text>
<circle cx="1256.40" cy="473.70" r="5.10" fill="#1a1aff" stroke="none" stroke-width="1"/>
<text x="1264.00" y="480.70" font-size="20.4" fill="#1a1aff">EPA : DHA</text>
<text x="1315.40" y="506.10" font-size="20.6" text-anchor="middle" fill="#1a1aff">(1:2)</text>
<text transform="translate(1418.20 479.00) scale(1 1.07)" font-size="41">h</text>
<line x1="1524.70" y1="497.90" x2="1524.70" y2="762.50" stroke="#000" stroke-width="4.2"/>
<line x1="1515.70" y1="500.00" x2="1526.80" y2="500.00" stroke="#000" stroke-width="4.2"/>
<text x="1506.20" y="508.94" font-size="26" text-anchor="end">180</text>
<line x1="1515.70" y1="558.52" x2="1526.80" y2="558.52" stroke="#000" stroke-width="4.2"/>
<text x="1506.20" y="567.47" font-size="26" text-anchor="end">160</text>
<line x1="1515.70" y1="617.05" x2="1526.80" y2="617.05" stroke="#000" stroke-width="4.2"/>
<text x="1506.20" y="625.99" font-size="26" text-anchor="end">140</text>
<line x1="1515.70" y1="675.58" x2="1526.80" y2="675.58" stroke="#000" stroke-width="4.2"/>
<text x="1506.20" y="684.52" font-size="26" text-anchor="end">120</text>
<line x1="1515.70" y1="734.10" x2="1526.80" y2="734.10" stroke="#000" stroke-width="4.2"/>
<text x="1506.20" y="743.04" font-size="26" text-anchor="end">100</text>
<line x1="1517.30" y1="762.50" x2="1837.30" y2="762.50" stroke="#000" stroke-width="4"/>
<line x1="1550.60" y1="762.50" x2="1550.60" y2="770.50" stroke="#000" stroke-width="4"/>
<line x1="1602.50" y1="762.50" x2="1602.50" y2="770.50" stroke="#000" stroke-width="4"/>
<line x1="1654.40" y1="762.50" x2="1654.40" y2="770.50" stroke="#000" stroke-width="4"/>
<line x1="1706.30" y1="762.50" x2="1706.30" y2="770.50" stroke="#000" stroke-width="4"/>
<line x1="1758.20" y1="762.50" x2="1758.20" y2="770.50" stroke="#000" stroke-width="4"/>
<line x1="1810.10" y1="762.50" x2="1810.10" y2="770.50" stroke="#000" stroke-width="4"/>
<text x="1565.10" y="791.50" font-size="26" text-anchor="end" transform="rotate(-45 1565.10 791.50)">Ctrl</text>
<text x="1617.00" y="791.50" font-size="26" text-anchor="end" transform="rotate(-45 1617.00 791.50)">EPA</text>
<text x="1668.90" y="791.50" font-size="26" text-anchor="end" transform="rotate(-45 1668.90 791.50)">2:1</text>
<text x="1720.80" y="791.50" font-size="26" text-anchor="end" transform="rotate(-45 1720.80 791.50)">1:1</text>
<text x="1772.70" y="791.50" font-size="26" text-anchor="end" transform="rotate(-45 1772.70 791.50)">1:2</text>
<text x="1824.60" y="791.50" font-size="26" text-anchor="end" transform="rotate(-45 1824.60 791.50)">DHA</text>
<text x="1437.83" y="632.70" font-size="25.1" text-anchor="middle" transform="rotate(-90 1437.83 632.70)">Potentiation (%)</text>
<line x1="1550.60" y1="560.57" x2="1550.60" y2="561.74" stroke="#000" stroke-width="3.5"/>
<line x1="1545.60" y1="560.57" x2="1555.60" y2="560.57" stroke="#000" stroke-width="3.5"/>
<line x1="1550.60" y1="580.47" x2="1550.60" y2="587.79" stroke="#000" stroke-width="3.5"/>
<line x1="1545.60" y1="587.79" x2="1555.60" y2="587.79" stroke="#000" stroke-width="3.5"/>
<rect x="1534.10" y="561.74" width="33.00" height="18.73" fill="#ff0000" stroke="#000" stroke-width="3.5"/>
<line x1="1534.10" y1="568.77" x2="1567.10" y2="568.77" stroke="#000" stroke-width="3.5"/>
<line x1="1602.50" y1="703.37" x2="1602.50" y2="708.93" stroke="#000" stroke-width="3.5"/>
<line x1="1597.50" y1="703.37" x2="1607.50" y2="703.37" stroke="#000" stroke-width="3.5"/>
<line x1="1602.50" y1="723.86" x2="1602.50" y2="727.37" stroke="#000" stroke-width="3.5"/>
<line x1="1597.50" y1="727.37" x2="1607.50" y2="727.37" stroke="#000" stroke-width="3.5"/>
<rect x="1586.00" y="708.93" width="33.00" height="14.92" fill="#0000ff" stroke="#000" stroke-width="3.5"/>
<line x1="1586.00" y1="716.84" x2="1619.00" y2="716.84" stroke="#000" stroke-width="3.5"/>
<line x1="1654.40" y1="643.09" x2="1654.40" y2="645.73" stroke="#000" stroke-width="3.5"/>
<line x1="1649.40" y1="643.09" x2="1659.40" y2="643.09" stroke="#000" stroke-width="3.5"/>
<line x1="1654.40" y1="682.31" x2="1654.40" y2="696.64" stroke="#000" stroke-width="3.5"/>
<line x1="1649.40" y1="696.64" x2="1659.40" y2="696.64" stroke="#000" stroke-width="3.5"/>
<rect x="1637.90" y="645.73" width="33.00" height="36.58" fill="#5c0050" stroke="#000" stroke-width="3.5"/>
<line x1="1637.90" y1="660.07" x2="1670.90" y2="660.07" stroke="#000" stroke-width="3.5"/>
<line x1="1706.30" y1="574.91" x2="1706.30" y2="578.72" stroke="#000" stroke-width="3.5"/>
<line x1="1701.30" y1="574.91" x2="1711.30" y2="574.91" stroke="#000" stroke-width="3.5"/>
<line x1="1706.30" y1="640.75" x2="1706.30" y2="646.90" stroke="#000" stroke-width="3.5"/>
<line x1="1701.30" y1="646.90" x2="1711.30" y2="646.90" stroke="#000" stroke-width="3.5"/>
<rect x="1689.80" y="578.72" width="33.00" height="62.04" fill="#c8c400" stroke="#000" stroke-width="3.5"/>
<line x1="1689.80" y1="604.47" x2="1722.80" y2="604.47" stroke="#000" stroke-width="3.5"/>
<line x1="1758.20" y1="545.94" x2="1758.20" y2="567.30" stroke="#000" stroke-width="3.5"/>
<line x1="1753.20" y1="545.94" x2="1763.20" y2="545.94" stroke="#000" stroke-width="3.5"/>
<line x1="1758.20" y1="595.40" x2="1758.20" y2="600.66" stroke="#000" stroke-width="3.5"/>
<line x1="1753.20" y1="600.66" x2="1763.20" y2="600.66" stroke="#000" stroke-width="3.5"/>
<rect x="1741.70" y="567.30" width="33.00" height="28.09" fill="#4a0a60" stroke="#000" stroke-width="3.5"/>
<line x1="1741.70" y1="583.40" x2="1774.70" y2="583.40" stroke="#000" stroke-width="3.5"/>
<line x1="1810.10" y1="568.77" x2="1810.10" y2="569.94" stroke="#000" stroke-width="3.5"/>
<line x1="1805.10" y1="568.77" x2="1815.10" y2="568.77" stroke="#000" stroke-width="3.5"/>
<line x1="1810.10" y1="589.54" x2="1810.10" y2="594.52" stroke="#000" stroke-width="3.5"/>
<line x1="1805.10" y1="594.52" x2="1815.10" y2="594.52" stroke="#000" stroke-width="3.5"/>
<rect x="1793.60" y="569.94" width="33.00" height="19.61" fill="#6b6bff" stroke="#000" stroke-width="3.5"/>
<line x1="1793.60" y1="569.94" x2="1826.60" y2="569.94" stroke="#000" stroke-width="3.5"/>
<path d="M1548.10,552.40 V541.30 H1606.70 V676.00" stroke="#5a5a5a" stroke-width="1.1" fill="none"/>
<path d="M1548.10,541.30 V504.70 H1653.20 V622.90" stroke="#5a5a5a" stroke-width="1.1" fill="none"/>
<text x="1603.20" y="510.23" font-size="45.69" text-anchor="middle">*</text>
<text x="1561.50" y="548.33" font-size="45.69" text-anchor="middle">*</text>
<text x="1585.40" y="548.33" font-size="45.69" text-anchor="middle">*</text>
<text x="1609.50" y="548.33" font-size="45.69" text-anchor="middle">*</text>
<text transform="translate(-3.00 924.50) scale(1 1.07)" font-size="41">i</text>
<line x1="202.30" y1="956.40" x2="202.30" y2="1244.10" stroke="#000" stroke-width="4.2"/>
<line x1="193.30" y1="958.50" x2="204.40" y2="958.50" stroke="#000" stroke-width="4.2"/>
<text x="182.10" y="967.96" font-size="27.5" text-anchor="end">200</text>
<line x1="193.30" y1="1037.73" x2="204.40" y2="1037.73" stroke="#000" stroke-width="4.2"/>
<text x="182.10" y="1047.19" font-size="27.5" text-anchor="end">150</text>
<line x1="193.30" y1="1116.97" x2="204.40" y2="1116.97" stroke="#000" stroke-width="4.2"/>
<text x="182.10" y="1126.43" font-size="27.5" text-anchor="end">100</text>
<line x1="193.30" y1="1196.20" x2="204.40" y2="1196.20" stroke="#000" stroke-width="4.2"/>
<text x="182.10" y="1205.66" font-size="27.5" text-anchor="end">50</text>
<line x1="193.30" y1="1244.10" x2="490.00" y2="1244.10" stroke="#000" stroke-width="4"/>
<line x1="230.20" y1="1244.10" x2="230.20" y2="1252.10" stroke="#000" stroke-width="4"/>
<text x="230.20" y="1282.30" font-size="25.2" text-anchor="middle">EPA</text>
<line x1="287.10" y1="1244.10" x2="287.10" y2="1252.10" stroke="#000" stroke-width="4"/>
<text x="287.10" y="1282.30" font-size="25.2" text-anchor="middle">2:1</text>
<line x1="344.00" y1="1244.10" x2="344.00" y2="1252.10" stroke="#000" stroke-width="4"/>
<text x="344.00" y="1282.30" font-size="25.2" text-anchor="middle">1:1</text>
<line x1="401.00" y1="1244.10" x2="401.00" y2="1252.10" stroke="#000" stroke-width="4"/>
<text x="401.00" y="1282.30" font-size="25.2" text-anchor="middle">1:2</text>
<line x1="457.90" y1="1244.10" x2="457.90" y2="1252.10" stroke="#000" stroke-width="4"/>
<text x="457.90" y="1282.30" font-size="25.2" text-anchor="middle">DHA</text>
<text x="78.23" y="1089.00" font-size="27.1" text-anchor="middle" transform="rotate(-90 78.23 1089.00)">sIPSC frequency</text>
<text x="109.73" y="1089.00" font-size="27.3" text-anchor="middle" transform="rotate(-90 109.73 1089.00)">(% of ctrl)</text>
<line x1="219.70" y1="1036.62" x2="219.70" y2="1065.15" stroke="#000" stroke-width="3.4"/>
<line x1="216.20" y1="1036.62" x2="223.20" y2="1036.62" stroke="#000" stroke-width="3.4"/>
<line x1="219.70" y1="1167.68" x2="219.70" y2="1191.92" stroke="#000" stroke-width="3.4"/>
<line x1="216.20" y1="1191.92" x2="223.20" y2="1191.92" stroke="#000" stroke-width="3.4"/>
<rect x="212.20" y="1065.15" width="15.00" height="102.53" fill="#ff0000" stroke="#000" stroke-width="3.6"/>
<line x1="212.20" y1="1124.41" x2="227.20" y2="1124.41" stroke="#000" stroke-width="3.4"/>
<line x1="241.00" y1="965.63" x2="241.00" y2="1002.24" stroke="#000" stroke-width="3.4"/>
<line x1="237.50" y1="965.63" x2="244.50" y2="965.63" stroke="#000" stroke-width="3.4"/>
<line x1="241.00" y1="1070.54" x2="241.00" y2="1088.60" stroke="#000" stroke-width="3.4"/>
<line x1="237.50" y1="1088.60" x2="244.50" y2="1088.60" stroke="#000" stroke-width="3.4"/>
<rect x="233.50" y="1002.24" width="15.00" height="68.30" fill="#0000ff" stroke="#000" stroke-width="3.6"/>
<line x1="233.50" y1="1037.26" x2="248.50" y2="1037.26" stroke="#000" stroke-width="3.4"/>
<line x1="276.60" y1="1080.84" x2="276.60" y2="1091.30" stroke="#000" stroke-width="3.4"/>
<line x1="273.10" y1="1080.84" x2="280.10" y2="1080.84" stroke="#000" stroke-width="3.4"/>
<line x1="276.60" y1="1137.73" x2="276.60" y2="1160.23" stroke="#000" stroke-width="3.4"/>
<line x1="273.10" y1="1160.23" x2="280.10" y2="1160.23" stroke="#000" stroke-width="3.4"/>
<rect x="269.10" y="1091.30" width="15.00" height="46.43" fill="#ff0000" stroke="#000" stroke-width="3.6"/>
<line x1="269.10" y1="1115.54" x2="284.10" y2="1115.54" stroke="#000" stroke-width="3.4"/>
<line x1="297.90" y1="974.66" x2="297.90" y2="1007.62" stroke="#000" stroke-width="3.4"/>
<line x1="294.40" y1="974.66" x2="301.40" y2="974.66" stroke="#000" stroke-width="3.4"/>
<line x1="297.90" y1="1041.22" x2="297.90" y2="1057.07" stroke="#000" stroke-width="3.4"/>
<line x1="294.40" y1="1057.07" x2="301.40" y2="1057.07" stroke="#000" stroke-width="3.4"/>
<rect x="290.40" y="1007.62" width="15.00" height="33.59" fill="#0000ff" stroke="#000" stroke-width="3.6"/>
<line x1="290.40" y1="1036.62" x2="305.40" y2="1036.62" stroke="#000" stroke-width="3.4"/>
<line x1="333.50" y1="1090.03" x2="333.50" y2="1105.08" stroke="#000" stroke-width="3.4"/>
<line x1="330.00" y1="1090.03" x2="337.00" y2="1090.03" stroke="#000" stroke-width="3.4"/>
<line x1="333.50" y1="1130.12" x2="333.50" y2="1137.73" stroke="#000" stroke-width="3.4"/>
<line x1="330.00" y1="1137.73" x2="337.00" y2="1137.73" stroke="#000" stroke-width="3.4"/>
<rect x="326.00" y="1105.08" width="15.00" height="25.04" fill="#ff0000" stroke="#000" stroke-width="3.6"/>
<line x1="326.00" y1="1115.54" x2="341.00" y2="1115.54" stroke="#000" stroke-width="3.4"/>
<line x1="354.80" y1="1038.21" x2="354.80" y2="1057.70" stroke="#000" stroke-width="3.4"/>
<line x1="351.30" y1="1038.21" x2="358.30" y2="1038.21" stroke="#000" stroke-width="3.4"/>
<line x1="354.80" y1="1130.44" x2="354.80" y2="1133.45" stroke="#000" stroke-width="3.4"/>
<line x1="351.30" y1="1133.45" x2="358.30" y2="1133.45" stroke="#000" stroke-width="3.4"/>
<rect x="347.30" y="1057.70" width="15.00" height="72.74" fill="#0000ff" stroke="#000" stroke-width="3.6"/>
<line x1="347.30" y1="1094.31" x2="362.30" y2="1094.31" stroke="#000" stroke-width="3.4"/>
<line x1="390.50" y1="1083.21" x2="390.50" y2="1095.10" stroke="#000" stroke-width="3.4"/>
<line x1="387.00" y1="1083.21" x2="394.00" y2="1083.21" stroke="#000" stroke-width="3.4"/>
<line x1="390.50" y1="1136.46" x2="390.50" y2="1160.23" stroke="#000" stroke-width="3.4"/>
<line x1="387.00" y1="1160.23" x2="394.00" y2="1160.23" stroke="#000" stroke-width="3.4"/>
<rect x="383.00" y="1095.10" width="15.00" height="41.36" fill="#ff0000" stroke="#000" stroke-width="3.6"/>
<line x1="383.00" y1="1115.54" x2="398.00" y2="1115.54" stroke="#000" stroke-width="3.4"/>
<line x1="411.80" y1="1052.63" x2="411.80" y2="1084.01" stroke="#000" stroke-width="3.4"/>
<line x1="408.30" y1="1052.63" x2="415.30" y2="1052.63" stroke="#000" stroke-width="3.4"/>
<line x1="411.80" y1="1130.44" x2="411.80" y2="1133.45" stroke="#000" stroke-width="3.4"/>
<line x1="408.30" y1="1133.45" x2="415.30" y2="1133.45" stroke="#000" stroke-width="3.4"/>
<rect x="404.30" y="1084.01" width="15.00" height="46.43" fill="#0000ff" stroke="#000" stroke-width="3.6"/>
<line x1="404.30" y1="1099.06" x2="419.30" y2="1099.06" stroke="#000" stroke-width="3.4"/>
<line x1="447.40" y1="1074.18" x2="447.40" y2="1101.12" stroke="#000" stroke-width="3.4"/>
<line x1="443.90" y1="1074.18" x2="450.90" y2="1074.18" stroke="#000" stroke-width="3.4"/>
<line x1="447.40" y1="1134.71" x2="447.40" y2="1137.73" stroke="#000" stroke-width="3.4"/>
<line x1="443.90" y1="1137.73" x2="450.90" y2="1137.73" stroke="#000" stroke-width="3.4"/>
<rect x="439.90" y="1101.12" width="15.00" height="33.59" fill="#ff0000" stroke="#000" stroke-width="3.6"/>
<line x1="439.90" y1="1115.54" x2="454.90" y2="1115.54" stroke="#000" stroke-width="3.4"/>
<line x1="468.70" y1="1148.50" x2="468.70" y2="1161.02" stroke="#000" stroke-width="3.4"/>
<line x1="465.20" y1="1148.50" x2="472.20" y2="1148.50" stroke="#000" stroke-width="3.4"/>
<line x1="468.70" y1="1204.44" x2="468.70" y2="1218.86" stroke="#000" stroke-width="3.4"/>
<line x1="465.20" y1="1218.86" x2="472.20" y2="1218.86" stroke="#000" stroke-width="3.4"/>
<rect x="461.20" y="1161.02" width="15.00" height="43.42" fill="#0000ff" stroke="#000" stroke-width="3.6"/>
<line x1="461.20" y1="1167.99" x2="476.20" y2="1167.99" stroke="#000" stroke-width="3.4"/>
<path d="M221.80,1028.30 V940.80 H244.20 V958.50" stroke="#5a5a5a" stroke-width="1.1" fill="none"/>
<text x="232.20" y="950.10" font-size="50.8" text-anchor="middle">*</text>
<path d="M276.60,1059.80 V940.80 H298.80 V960.30" stroke="#5a5a5a" stroke-width="1.1" fill="none"/>
<text x="288.40" y="948.83" font-size="50.26" text-anchor="middle">*</text>
<path d="M448.90,1061.30 V1044.20 H471.10 V1137.70" stroke="#5a5a5a" stroke-width="1.1" fill="none"/>
<text x="457.90" y="1054.61" font-size="47.03" text-anchor="middle">*</text>
<rect x="363.00" y="964.30" width="31.00" height="13.30" fill="#ff0000" stroke="#000" stroke-width="3.6"/>
<rect x="363.00" y="993.40" width="31.00" height="13.30" fill="#0000ff" stroke="#000" stroke-width="3.6"/>
<text x="407.00" y="978.90" font-size="20.6">Pre-treatment</text>
<text x="407.00" y="1008.20" font-size="20.6">Post-treatment</text>
<text transform="translate(598.10 925.00) scale(1 1.07)" font-size="41">j</text>
<line x1="742.70" y1="956.60" x2="742.70" y2="1242.20" stroke="#000" stroke-width="4.2"/>
<line x1="733.70" y1="958.70" x2="744.80" y2="958.70" stroke="#000" stroke-width="4.2"/>
<text x="722.30" y="968.09" font-size="27.3" text-anchor="end">140</text>
<line x1="733.70" y1="1029.58" x2="744.80" y2="1029.58" stroke="#000" stroke-width="4.2"/>
<text x="722.30" y="1038.97" font-size="27.3" text-anchor="end">120</text>
<line x1="733.70" y1="1100.45" x2="744.80" y2="1100.45" stroke="#000" stroke-width="4.2"/>
<text x="722.30" y="1109.84" font-size="27.3" text-anchor="end">100</text>
<line x1="733.70" y1="1171.33" x2="744.80" y2="1171.33" stroke="#000" stroke-width="4.2"/>
<text x="722.30" y="1180.72" font-size="27.3" text-anchor="end">80</text>
<line x1="733.70" y1="1242.20" x2="744.80" y2="1242.20" stroke="#000" stroke-width="4.2"/>
<text x="722.30" y="1251.59" font-size="27.3" text-anchor="end">60</text>
<line x1="733.60" y1="1242.20" x2="1028.40" y2="1242.20" stroke="#000" stroke-width="4"/>
<line x1="770.00" y1="1242.20" x2="770.00" y2="1250.20" stroke="#000" stroke-width="4"/>
<text x="770.00" y="1281.00" font-size="25.2" text-anchor="middle">EPA</text>
<line x1="826.90" y1="1242.20" x2="826.90" y2="1250.20" stroke="#000" stroke-width="4"/>
<text x="826.90" y="1281.00" font-size="25.2" text-anchor="middle">2:1</text>
<line x1="883.50" y1="1242.20" x2="883.50" y2="1250.20" stroke="#000" stroke-width="4"/>
<text x="883.50" y="1281.00" font-size="25.2" text-anchor="middle">1:1</text>
<line x1="940.30" y1="1242.20" x2="940.30" y2="1250.20" stroke="#000" stroke-width="4"/>
<text x="940.30" y="1281.00" font-size="25.2" text-anchor="middle">1:2</text>
<line x1="996.90" y1="1242.20" x2="996.90" y2="1250.20" stroke="#000" stroke-width="4"/>
<text x="996.90" y="1281.00" font-size="25.2" text-anchor="middle">DHA</text>
<text x="616.73" y="1100.00" font-size="27" text-anchor="middle" transform="rotate(-90 616.73 1100.00)">sIPSC amplitude</text>
<text x="653.63" y="1100.00" font-size="27.2" text-anchor="middle" transform="rotate(-90 653.63 1100.00)">(% of ctrl)</text>
<line x1="759.50" y1="1048.71" x2="759.50" y2="1077.42" stroke="#000" stroke-width="3.4"/>
<line x1="756.00" y1="1048.71" x2="763.00" y2="1048.71" stroke="#000" stroke-width="3.4"/>
<line x1="759.50" y1="1115.69" x2="759.50" y2="1176.29" stroke="#000" stroke-width="3.4"/>
<line x1="756.00" y1="1176.29" x2="763.00" y2="1176.29" stroke="#000" stroke-width="3.4"/>
<rect x="752.00" y="1077.42" width="15.00" height="38.27" fill="#ff0000" stroke="#000" stroke-width="3.6"/>
<line x1="752.00" y1="1092.30" x2="767.00" y2="1092.30" stroke="#000" stroke-width="3.4"/>
<line x1="781.30" y1="1033.47" x2="781.30" y2="1079.90" stroke="#000" stroke-width="3.4"/>
<line x1="777.80" y1="1033.47" x2="784.80" y2="1033.47" stroke="#000" stroke-width="3.4"/>
<line x1="781.30" y1="1138.72" x2="781.30" y2="1159.99" stroke="#000" stroke-width="3.4"/>
<line x1="777.80" y1="1159.99" x2="784.80" y2="1159.99" stroke="#000" stroke-width="3.4"/>
<rect x="773.80" y="1079.90" width="15.00" height="58.83" fill="#0000ff" stroke="#000" stroke-width="3.6"/>
<line x1="773.80" y1="1098.68" x2="788.80" y2="1098.68" stroke="#000" stroke-width="3.4"/>
<line x1="816.40" y1="1040.91" x2="816.40" y2="1064.30" stroke="#000" stroke-width="3.4"/>
<line x1="812.90" y1="1040.91" x2="819.90" y2="1040.91" stroke="#000" stroke-width="3.4"/>
<line x1="816.40" y1="1116.04" x2="816.40" y2="1132.70" stroke="#000" stroke-width="3.4"/>
<line x1="812.90" y1="1132.70" x2="819.90" y2="1132.70" stroke="#000" stroke-width="3.4"/>
<rect x="808.90" y="1064.30" width="15.00" height="51.74" fill="#ff0000" stroke="#000" stroke-width="3.6"/>
<line x1="808.90" y1="1091.59" x2="823.90" y2="1091.59" stroke="#000" stroke-width="3.4"/>
<line x1="838.20" y1="1011.15" x2="838.20" y2="1055.44" stroke="#000" stroke-width="3.4"/>
<line x1="834.70" y1="1011.15" x2="841.70" y2="1011.15" stroke="#000" stroke-width="3.4"/>
<line x1="838.20" y1="1118.17" x2="838.20" y2="1139.43" stroke="#000" stroke-width="3.4"/>
<line x1="834.70" y1="1139.43" x2="841.70" y2="1139.43" stroke="#000" stroke-width="3.4"/>
<rect x="830.70" y="1055.44" width="15.00" height="62.72" fill="#0000ff" stroke="#000" stroke-width="3.6"/>
<line x1="830.70" y1="1084.86" x2="845.70" y2="1084.86" stroke="#000" stroke-width="3.4"/>
<line x1="873.00" y1="1026.74" x2="873.00" y2="1064.30" stroke="#000" stroke-width="3.4"/>
<line x1="869.50" y1="1026.74" x2="876.50" y2="1026.74" stroke="#000" stroke-width="3.4"/>
<line x1="873.00" y1="1104.70" x2="873.00" y2="1112.14" stroke="#000" stroke-width="3.4"/>
<line x1="869.50" y1="1112.14" x2="876.50" y2="1112.14" stroke="#000" stroke-width="3.4"/>
<rect x="865.50" y="1064.30" width="15.00" height="40.40" fill="#ff0000" stroke="#000" stroke-width="3.6"/>
<line x1="865.50" y1="1078.12" x2="880.50" y2="1078.12" stroke="#000" stroke-width="3.4"/>
<line x1="894.80" y1="1012.92" x2="894.80" y2="1074.93" stroke="#000" stroke-width="3.4"/>
<line x1="891.30" y1="1012.92" x2="898.30" y2="1012.92" stroke="#000" stroke-width="3.4"/>
<line x1="894.80" y1="1124.55" x2="894.80" y2="1174.16" stroke="#000" stroke-width="3.4"/>
<line x1="891.30" y1="1174.16" x2="898.30" y2="1174.16" stroke="#000" stroke-width="3.4"/>
<rect x="887.30" y="1074.93" width="15.00" height="49.61" fill="#0000ff" stroke="#000" stroke-width="3.6"/>
<line x1="887.30" y1="1085.92" x2="902.30" y2="1085.92" stroke="#000" stroke-width="3.4"/>
<line x1="929.80" y1="1054.74" x2="929.80" y2="1068.56" stroke="#000" stroke-width="3.4"/>
<line x1="926.30" y1="1054.74" x2="933.30" y2="1054.74" stroke="#000" stroke-width="3.4"/>
<line x1="929.80" y1="1115.69" x2="929.80" y2="1139.43" stroke="#000" stroke-width="3.4"/>
<line x1="926.30" y1="1139.43" x2="933.30" y2="1139.43" stroke="#000" stroke-width="3.4"/>
<rect x="922.30" y="1068.56" width="15.00" height="47.13" fill="#ff0000" stroke="#000" stroke-width="3.6"/>
<line x1="922.30" y1="1084.50" x2="937.30" y2="1084.50" stroke="#000" stroke-width="3.4"/>
<line x1="951.60" y1="1028.16" x2="951.60" y2="1063.24" stroke="#000" stroke-width="3.4"/>
<line x1="948.10" y1="1028.16" x2="955.10" y2="1028.16" stroke="#000" stroke-width="3.4"/>
<line x1="951.60" y1="1136.60" x2="951.60" y2="1163.17" stroke="#000" stroke-width="3.4"/>
<line x1="948.10" y1="1163.17" x2="955.10" y2="1163.17" stroke="#000" stroke-width="3.4"/>
<rect x="944.10" y="1063.24" width="15.00" height="73.36" fill="#0000ff" stroke="#000" stroke-width="3.6"/>
<line x1="944.10" y1="1083.09" x2="959.10" y2="1083.09" stroke="#000" stroke-width="3.4"/>
<line x1="986.40" y1="1048.00" x2="986.40" y2="1064.30" stroke="#000" stroke-width="3.4"/>
<line x1="982.90" y1="1048.00" x2="989.90" y2="1048.00" stroke="#000" stroke-width="3.4"/>
<line x1="986.40" y1="1118.17" x2="986.40" y2="1139.43" stroke="#000" stroke-width="3.4"/>
<line x1="982.90" y1="1139.43" x2="989.90" y2="1139.43" stroke="#000" stroke-width="3.4"/>
<rect x="978.90" y="1064.30" width="15.00" height="53.87" fill="#ff0000" stroke="#000" stroke-width="3.6"/>
<line x1="978.90" y1="1084.86" x2="993.90" y2="1084.86" stroke="#000" stroke-width="3.4"/>
<line x1="1008.20" y1="991.30" x2="1008.20" y2="1027.45" stroke="#000" stroke-width="3.4"/>
<line x1="1004.70" y1="991.30" x2="1011.70" y2="991.30" stroke="#000" stroke-width="3.4"/>
<line x1="1008.20" y1="1076.35" x2="1008.20" y2="1141.56" stroke="#000" stroke-width="3.4"/>
<line x1="1004.70" y1="1141.56" x2="1011.70" y2="1141.56" stroke="#000" stroke-width="3.4"/>
<rect x="1000.70" y="1027.45" width="15.00" height="48.90" fill="#0000ff" stroke="#000" stroke-width="3.6"/>
<line x1="1000.70" y1="1055.44" x2="1015.70" y2="1055.44" stroke="#000" stroke-width="3.4"/>
<text transform="translate(1114.70 925.30) scale(1 1.07)" font-size="41">k</text>
<line x1="1250.60" y1="951.90" x2="1250.60" y2="1206.50" stroke="#000" stroke-width="4.2"/>
<line x1="1241.60" y1="954.00" x2="1252.70" y2="954.00" stroke="#000" stroke-width="4.2"/>
<text x="1233.40" y="963.29" font-size="27" text-anchor="end">500</text>
<line x1="1241.60" y1="1017.00" x2="1252.70" y2="1017.00" stroke="#000" stroke-width="4.2"/>
<text x="1233.40" y="1026.29" font-size="27" text-anchor="end">400</text>
<line x1="1241.60" y1="1080.00" x2="1252.70" y2="1080.00" stroke="#000" stroke-width="4.2"/>
<text x="1233.40" y="1089.29" font-size="27" text-anchor="end">300</text>
<line x1="1241.60" y1="1143.00" x2="1252.70" y2="1143.00" stroke="#000" stroke-width="4.2"/>
<text x="1233.40" y="1152.29" font-size="27" text-anchor="end">200</text>
<line x1="1241.60" y1="1206.00" x2="1252.70" y2="1206.00" stroke="#000" stroke-width="4.2"/>
<text x="1233.40" y="1215.29" font-size="27" text-anchor="end">100</text>
<line x1="1244.20" y1="1206.50" x2="1406.00" y2="1206.50" stroke="#000" stroke-width="4"/>
<line x1="1290.00" y1="1206.50" x2="1290.00" y2="1214.50" stroke="#000" stroke-width="4"/>
<line x1="1366.60" y1="1206.50" x2="1366.60" y2="1214.50" stroke="#000" stroke-width="4"/>
<text x="1308.10" y="1234.40" font-size="27" text-anchor="end" transform="rotate(-45 1308.10 1234.40)">EPA</text>
<text x="1383.10" y="1236.40" font-size="27" text-anchor="end" transform="rotate(-45 1383.10 1236.40)">EPA:DHA (1:2)</text>
<text x="1131.63" y="1080.00" font-size="27" text-anchor="middle" transform="rotate(-90 1131.63 1080.00)">HFS-evoked IPSC area</text>
<text x="1167.53" y="1080.00" font-size="27.5" text-anchor="middle" transform="rotate(-90 1167.53 1080.00)">(pA*s)</text>
<line x1="1290.00" y1="1005.09" x2="1290.00" y2="1044.91" stroke="#000" stroke-width="3.8"/>
<line x1="1281.00" y1="1005.09" x2="1299.00" y2="1005.09" stroke="#000" stroke-width="3.8"/>
<line x1="1290.00" y1="1075.59" x2="1290.00" y2="1089.07" stroke="#000" stroke-width="3.8"/>
<line x1="1281.00" y1="1089.07" x2="1299.00" y2="1089.07" stroke="#000" stroke-width="3.8"/>
<rect x="1265.75" y="1044.91" width="48.50" height="30.68" fill="#0000ff" stroke="#000" stroke-width="3.8"/>
<line x1="1265.75" y1="1054.61" x2="1314.25" y2="1054.61" stroke="#000" stroke-width="3.8"/>
<line x1="1366.60" y1="1083.59" x2="1366.60" y2="1105.07" stroke="#000" stroke-width="3.8"/>
<line x1="1357.60" y1="1083.59" x2="1375.60" y2="1083.59" stroke="#000" stroke-width="3.8"/>
<line x1="1366.60" y1="1149.30" x2="1366.60" y2="1186.60" stroke="#000" stroke-width="3.8"/>
<line x1="1357.60" y1="1186.60" x2="1375.60" y2="1186.60" stroke="#000" stroke-width="3.8"/>
<rect x="1342.35" y="1105.07" width="48.50" height="44.23" fill="#ff0000" stroke="#000" stroke-width="3.8"/>
<line x1="1342.35" y1="1121.71" x2="1390.85" y2="1121.71" stroke="#000" stroke-width="3.8"/>
<path d="M1290.00,983.60 V971.20 H1370.20 V1065.10" stroke="#5a5a5a" stroke-width="1.1" fill="none"/>
<text x="1327.90" y="982.98" font-size="48.38" text-anchor="middle">*</text>
<text transform="translate(1496.14 925.20) scale(1 1.07)" font-size="41">l</text>
<line x1="1642.40" y1="959.10" x2="1642.40" y2="1202.10" stroke="#000" stroke-width="4.2"/>
<line x1="1633.40" y1="961.20" x2="1644.50" y2="961.20" stroke="#000" stroke-width="4.2"/>
<text x="1622.00" y="970.76" font-size="27.8" text-anchor="end">140</text>
<line x1="1633.40" y1="1041.50" x2="1644.50" y2="1041.50" stroke="#000" stroke-width="4.2"/>
<text x="1622.00" y="1051.06" font-size="27.8" text-anchor="end">120</text>
<line x1="1633.40" y1="1121.80" x2="1644.50" y2="1121.80" stroke="#000" stroke-width="4.2"/>
<text x="1622.00" y="1131.36" font-size="27.8" text-anchor="end">100</text>
<line x1="1633.40" y1="1202.10" x2="1644.50" y2="1202.10" stroke="#000" stroke-width="4.2"/>
<text x="1622.00" y="1211.66" font-size="27.8" text-anchor="end">80</text>
<line x1="1634.30" y1="1202.10" x2="1825.30" y2="1202.10" stroke="#000" stroke-width="4"/>
<line x1="1672.10" y1="1202.10" x2="1672.10" y2="1210.10" stroke="#000" stroke-width="4"/>
<line x1="1732.90" y1="1202.10" x2="1732.90" y2="1210.10" stroke="#000" stroke-width="4"/>
<line x1="1793.30" y1="1202.10" x2="1793.30" y2="1210.10" stroke="#000" stroke-width="4"/>
<text x="1518.43" y="1084.00" font-size="27" text-anchor="middle" transform="rotate(-90 1518.43 1084.00)">sIPSC frequency</text>
<text x="1552.03" y="1084.00" font-size="27.4" text-anchor="middle" transform="rotate(-90 1552.03 1084.00)">(% of ctrl)</text>
<text x="1619.80" y="1245.30" font-size="27" text-anchor="middle">RS</text>
<text x="1619.80" y="1273.70" font-size="27" text-anchor="middle">DHA</text>
<text x="1672.10" y="1247.81" font-size="29.8" text-anchor="middle">−</text>
<text x="1672.10" y="1275.41" font-size="29.8" text-anchor="middle">−</text>
<text x="1732.90" y="1247.11" font-size="27.7" text-anchor="middle">+</text>
<text x="1732.90" y="1275.41" font-size="29.8" text-anchor="middle">−</text>
<text x="1793.30" y="1247.11" font-size="27.7" text-anchor="middle">+</text>
<text x="1793.30" y="1274.71" font-size="27.7" text-anchor="middle">+</text>
<line x1="1672.10" y1="1056.36" x2="1672.10" y2="1088.48" stroke="#000" stroke-width="3.8"/>
<line x1="1663.10" y1="1056.36" x2="1681.10" y2="1056.36" stroke="#000" stroke-width="3.8"/>
<line x1="1672.10" y1="1160.75" x2="1672.10" y2="1167.17" stroke="#000" stroke-width="3.8"/>
<line x1="1663.10" y1="1167.17" x2="1681.10" y2="1167.17" stroke="#000" stroke-width="3.8"/>
<rect x="1653.10" y="1088.48" width="38.00" height="72.27" fill="#ff0000" stroke="#000" stroke-width="3.8"/>
<line x1="1653.10" y1="1121.40" x2="1691.10" y2="1121.40" stroke="#000" stroke-width="3.8"/>
<line x1="1732.90" y1="966.02" x2="1732.90" y2="1076.03" stroke="#000" stroke-width="3.8"/>
<line x1="1723.90" y1="966.02" x2="1741.90" y2="966.02" stroke="#000" stroke-width="3.8"/>
<line x1="1732.90" y1="1118.99" x2="1732.90" y2="1188.05" stroke="#000" stroke-width="3.8"/>
<line x1="1723.90" y1="1188.05" x2="1741.90" y2="1188.05" stroke="#000" stroke-width="3.8"/>
<rect x="1713.90" y="1076.03" width="38.00" height="42.96" fill="#0000ff" stroke="#000" stroke-width="3.8"/>
<line x1="1713.90" y1="1102.93" x2="1751.90" y2="1102.93" stroke="#000" stroke-width="3.8"/>
<line x1="1793.30" y1="1003.76" x2="1793.30" y2="1047.12" stroke="#000" stroke-width="3.8"/>
<line x1="1784.30" y1="1003.76" x2="1802.30" y2="1003.76" stroke="#000" stroke-width="3.8"/>
<line x1="1793.30" y1="1130.23" x2="1793.30" y2="1173.59" stroke="#000" stroke-width="3.8"/>
<line x1="1784.30" y1="1173.59" x2="1802.30" y2="1173.59" stroke="#000" stroke-width="3.8"/>
<rect x="1774.30" y="1047.12" width="38.00" height="83.11" fill="#c8c400" stroke="#000" stroke-width="3.8"/>
<line x1="1774.30" y1="1120.19" x2="1812.30" y2="1120.19" stroke="#000" stroke-width="3.8"/>
<text transform="translate(-1.50 1419.60) scale(1 1.07)" font-size="41">m</text>
<line x1="142.80" y1="1452.40" x2="142.80" y2="1673.50" stroke="#000" stroke-width="4.2"/>
<line x1="133.80" y1="1454.50" x2="144.90" y2="1454.50" stroke="#000" stroke-width="4.2"/>
<text x="123.90" y="1463.79" font-size="27" text-anchor="end">140</text>
<line x1="133.80" y1="1509.25" x2="144.90" y2="1509.25" stroke="#000" stroke-width="4.2"/>
<text x="123.90" y="1518.54" font-size="27" text-anchor="end">120</text>
<line x1="133.80" y1="1564.00" x2="144.90" y2="1564.00" stroke="#000" stroke-width="4.2"/>
<text x="123.90" y="1573.29" font-size="27" text-anchor="end">100</text>
<line x1="133.80" y1="1618.75" x2="144.90" y2="1618.75" stroke="#000" stroke-width="4.2"/>
<text x="123.90" y="1628.04" font-size="27" text-anchor="end">80</text>
<line x1="133.80" y1="1673.50" x2="144.90" y2="1673.50" stroke="#000" stroke-width="4.2"/>
<text x="123.90" y="1682.79" font-size="27" text-anchor="end">60</text>
<line x1="135.40" y1="1673.50" x2="308.60" y2="1673.50" stroke="#000" stroke-width="4"/>
<line x1="170.10" y1="1673.50" x2="170.10" y2="1681.50" stroke="#000" stroke-width="4"/>
<line x1="224.60" y1="1673.50" x2="224.60" y2="1681.50" stroke="#000" stroke-width="4"/>
<line x1="279.20" y1="1673.50" x2="279.20" y2="1681.50" stroke="#000" stroke-width="4"/>
<text x="21.63" y="1563.70" font-size="27.1" text-anchor="middle" transform="rotate(-90 21.63 1563.70)">sIPSC amplitude</text>
<text x="54.13" y="1563.20" font-size="27.2" text-anchor="middle" transform="rotate(-90 54.13 1563.20)">(% of ctrl)</text>
<text x="123.40" y="1706.20" font-size="21.5" text-anchor="middle">RS</text>
<text x="170.10" y="1710.21" font-size="29.8" text-anchor="middle">−</text>
<text x="224.60" y="1709.51" font-size="27.7" text-anchor="middle">+</text>
<text x="279.20" y="1709.51" font-size="27.7" text-anchor="middle">+</text>
<text x="123.40" y="1732.70" font-size="21.5" text-anchor="middle">DHA</text>
<text x="170.10" y="1737.51" font-size="29.8" text-anchor="middle">−</text>
<text x="224.60" y="1737.51" font-size="29.8" text-anchor="middle">−</text>
<text x="279.20" y="1736.81" font-size="27.7" text-anchor="middle">+</text>
<line x1="170.10" y1="1481.33" x2="170.10" y2="1507.33" stroke="#000" stroke-width="3.8"/>
<line x1="162.10" y1="1481.33" x2="178.10" y2="1481.33" stroke="#000" stroke-width="3.8"/>
<line x1="170.10" y1="1565.10" x2="170.10" y2="1596.30" stroke="#000" stroke-width="3.8"/>
<line x1="162.10" y1="1596.30" x2="178.10" y2="1596.30" stroke="#000" stroke-width="3.8"/>
<rect x="152.85" y="1507.33" width="34.50" height="57.76" fill="#ff0000" stroke="#000" stroke-width="3.8"/>
<line x1="152.85" y1="1546.21" x2="187.35" y2="1546.21" stroke="#000" stroke-width="3.8"/>
<line x1="224.60" y1="1469.83" x2="224.60" y2="1494.47" stroke="#000" stroke-width="3.8"/>
<line x1="216.60" y1="1469.83" x2="232.60" y2="1469.83" stroke="#000" stroke-width="3.8"/>
<line x1="224.60" y1="1594.11" x2="224.60" y2="1620.39" stroke="#000" stroke-width="3.8"/>
<line x1="216.60" y1="1620.39" x2="232.60" y2="1620.39" stroke="#000" stroke-width="3.8"/>
<rect x="207.35" y="1494.47" width="34.50" height="99.64" fill="#0000ff" stroke="#000" stroke-width="3.8"/>
<line x1="207.35" y1="1560.99" x2="241.85" y2="1560.99" stroke="#000" stroke-width="3.8"/>
<line x1="279.20" y1="1508.98" x2="279.20" y2="1548.94" stroke="#000" stroke-width="3.8"/>
<line x1="271.20" y1="1508.98" x2="287.20" y2="1508.98" stroke="#000" stroke-width="3.8"/>
<line x1="279.20" y1="1588.36" x2="279.20" y2="1658.72" stroke="#000" stroke-width="3.8"/>
<line x1="271.20" y1="1658.72" x2="287.20" y2="1658.72" stroke="#000" stroke-width="3.8"/>
<rect x="261.95" y="1548.94" width="34.50" height="39.42" fill="#c8c400" stroke="#000" stroke-width="3.8"/>
<line x1="261.95" y1="1566.46" x2="296.45" y2="1566.46" stroke="#000" stroke-width="3.8"/>
<text transform="translate(358.30 1419.60) scale(1 1.07)" font-size="41">n</text>
<line x1="503.40" y1="1453.90" x2="503.40" y2="1677.70" stroke="#000" stroke-width="4.2"/>
<line x1="494.40" y1="1456.00" x2="505.50" y2="1456.00" stroke="#000" stroke-width="4.2"/>
<text x="483.80" y="1465.36" font-size="27.2" text-anchor="end">200</text>
<line x1="494.40" y1="1529.90" x2="505.50" y2="1529.90" stroke="#000" stroke-width="4.2"/>
<text x="483.80" y="1539.26" font-size="27.2" text-anchor="end">150</text>
<line x1="494.40" y1="1603.80" x2="505.50" y2="1603.80" stroke="#000" stroke-width="4.2"/>
<text x="483.80" y="1613.16" font-size="27.2" text-anchor="end">100</text>
<line x1="494.40" y1="1677.70" x2="505.50" y2="1677.70" stroke="#000" stroke-width="4.2"/>
<text x="483.80" y="1687.06" font-size="27.2" text-anchor="end">50</text>
<line x1="495.40" y1="1677.70" x2="671.80" y2="1677.70" stroke="#000" stroke-width="4"/>
<line x1="545.20" y1="1677.70" x2="545.20" y2="1685.70" stroke="#000" stroke-width="4"/>
<line x1="628.70" y1="1677.70" x2="628.70" y2="1685.70" stroke="#000" stroke-width="4"/>
<text x="381.63" y="1566.30" font-size="26.7" text-anchor="middle" transform="rotate(-90 381.63 1566.30)">sIPSC frequency</text>
<text x="414.13" y="1565.80" font-size="27" text-anchor="middle" transform="rotate(-90 414.13 1565.80)">(% of ctrl)</text>
<text x="442.60" y="1716.00" font-size="20.8" text-anchor="middle">RS</text>
<text x="545.20" y="1715.61" font-size="27.7" text-anchor="middle">+</text>
<text x="628.70" y="1715.61" font-size="27.7" text-anchor="middle">+</text>
<text x="442.60" y="1740.50" font-size="20.8" text-anchor="middle">EPA:DHA (1:2)</text>
<text x="545.20" y="1742.91" font-size="29.8" text-anchor="middle">−</text>
<text x="628.70" y="1742.21" font-size="27.7" text-anchor="middle">+</text>
<line x1="545.20" y1="1576.01" x2="545.20" y2="1588.72" stroke="#000" stroke-width="3.8"/>
<line x1="532.20" y1="1576.01" x2="558.20" y2="1576.01" stroke="#000" stroke-width="3.8"/>
<line x1="545.20" y1="1618.14" x2="545.20" y2="1633.06" stroke="#000" stroke-width="3.8"/>
<line x1="532.20" y1="1633.06" x2="558.20" y2="1633.06" stroke="#000" stroke-width="3.8"/>
<rect x="517.95" y="1588.72" width="54.50" height="29.41" fill="#ff0000" stroke="#000" stroke-width="3.8"/>
<line x1="517.95" y1="1596.56" x2="572.45" y2="1596.56" stroke="#000" stroke-width="3.8"/>
<line x1="628.70" y1="1475.51" x2="628.70" y2="1481.72" stroke="#000" stroke-width="3.8"/>
<line x1="615.70" y1="1475.51" x2="641.70" y2="1475.51" stroke="#000" stroke-width="3.8"/>
<line x1="628.70" y1="1551.48" x2="628.70" y2="1606.31" stroke="#000" stroke-width="3.8"/>
<line x1="615.70" y1="1606.31" x2="641.70" y2="1606.31" stroke="#000" stroke-width="3.8"/>
<rect x="601.45" y="1481.72" width="54.50" height="69.76" fill="#0000ff" stroke="#000" stroke-width="3.8"/>
<line x1="601.45" y1="1534.33" x2="655.95" y2="1534.33" stroke="#000" stroke-width="3.8"/>
<path d="M546.90,1557.40 V1448.70 H631.90 V1461.90" stroke="#5a5a5a" stroke-width="1.1" fill="none"/>
<text x="589.90" y="1458.28" font-size="48.38" text-anchor="middle">*</text>
<text transform="translate(727.30 1419.80) scale(1 1.07)" font-size="41">o</text>
<line x1="857.00" y1="1453.90" x2="857.00" y2="1677.70" stroke="#000" stroke-width="4.2"/>
<line x1="848.00" y1="1456.00" x2="859.10" y2="1456.00" stroke="#000" stroke-width="4.2"/>
<text x="837.40" y="1465.29" font-size="27" text-anchor="end">125</text>
<line x1="848.00" y1="1566.85" x2="859.10" y2="1566.85" stroke="#000" stroke-width="4.2"/>
<text x="837.40" y="1576.14" font-size="27" text-anchor="end">100</text>
<line x1="848.00" y1="1677.70" x2="859.10" y2="1677.70" stroke="#000" stroke-width="4.2"/>
<text x="837.40" y="1686.99" font-size="27" text-anchor="end">75</text>
<line x1="849.00" y1="1677.70" x2="1025.30" y2="1677.70" stroke="#000" stroke-width="4"/>
<line x1="898.50" y1="1677.70" x2="898.50" y2="1685.70" stroke="#000" stroke-width="4"/>
<line x1="981.90" y1="1677.70" x2="981.90" y2="1685.70" stroke="#000" stroke-width="4"/>
<text x="730.53" y="1566.30" font-size="27" text-anchor="middle" transform="rotate(-90 730.53 1566.30)">sIPSC amplitude</text>
<text x="767.33" y="1566.30" font-size="27.2" text-anchor="middle" transform="rotate(-90 767.33 1566.30)">(% of ctrl)</text>
<text x="791.10" y="1716.00" font-size="20.8" text-anchor="middle">RS</text>
<text x="898.50" y="1715.61" font-size="27.7" text-anchor="middle">+</text>
<text x="981.90" y="1715.61" font-size="27.7" text-anchor="middle">+</text>
<text x="791.10" y="1740.50" font-size="20.8" text-anchor="middle">EPA:DHA (1:2)</text>
<text x="898.50" y="1742.91" font-size="29.8" text-anchor="middle">−</text>
<text x="981.90" y="1742.21" font-size="27.7" text-anchor="middle">+</text>
<line x1="898.50" y1="1503.00" x2="898.50" y2="1520.29" stroke="#000" stroke-width="3.8"/>
<line x1="885.50" y1="1503.00" x2="911.50" y2="1503.00" stroke="#000" stroke-width="3.8"/>
<line x1="898.50" y1="1575.72" x2="898.50" y2="1628.04" stroke="#000" stroke-width="3.8"/>
<line x1="885.50" y1="1628.04" x2="911.50" y2="1628.04" stroke="#000" stroke-width="3.8"/>
<rect x="871.25" y="1520.29" width="54.50" height="55.42" fill="#ff0000" stroke="#000" stroke-width="3.8"/>
<line x1="871.25" y1="1558.43" x2="925.75" y2="1558.43" stroke="#000" stroke-width="3.8"/>
<line x1="981.90" y1="1521.62" x2="981.90" y2="1541.58" stroke="#000" stroke-width="3.8"/>
<line x1="968.90" y1="1521.62" x2="994.90" y2="1521.62" stroke="#000" stroke-width="3.8"/>
<line x1="981.90" y1="1605.87" x2="981.90" y2="1630.70" stroke="#000" stroke-width="3.8"/>
<line x1="968.90" y1="1630.70" x2="994.90" y2="1630.70" stroke="#000" stroke-width="3.8"/>
<rect x="954.65" y="1541.58" width="54.50" height="64.29" fill="#0000ff" stroke="#000" stroke-width="3.8"/>
<line x1="954.65" y1="1572.17" x2="1009.15" y2="1572.17" stroke="#000" stroke-width="3.8"/>
<text transform="translate(1068.20 1420.50) scale(1 1.07)" font-size="41">p</text>
<line x1="1180.20" y1="1454.80" x2="1180.20" y2="1685.90" stroke="#000" stroke-width="4.2"/>
<line x1="1171.20" y1="1456.90" x2="1182.30" y2="1456.90" stroke="#000" stroke-width="4.2"/>
<text x="1162.90" y="1466.29" font-size="27.3" text-anchor="end">250</text>
<line x1="1171.20" y1="1502.56" x2="1182.30" y2="1502.56" stroke="#000" stroke-width="4.2"/>
<text x="1162.90" y="1511.95" font-size="27.3" text-anchor="end">200</text>
<line x1="1171.20" y1="1548.22" x2="1182.30" y2="1548.22" stroke="#000" stroke-width="4.2"/>
<text x="1162.90" y="1557.61" font-size="27.3" text-anchor="end">150</text>
<line x1="1171.20" y1="1593.88" x2="1182.30" y2="1593.88" stroke="#000" stroke-width="4.2"/>
<text x="1162.90" y="1603.27" font-size="27.3" text-anchor="end">100</text>
<line x1="1171.20" y1="1639.54" x2="1182.30" y2="1639.54" stroke="#000" stroke-width="4.2"/>
<text x="1162.90" y="1648.93" font-size="27.3" text-anchor="end">50</text>
<line x1="1171.20" y1="1685.20" x2="1182.30" y2="1685.20" stroke="#000" stroke-width="4.2"/>
<text x="1162.90" y="1694.59" font-size="27.3" text-anchor="end">0</text>
<line x1="1173.70" y1="1685.90" x2="1477.20" y2="1685.90" stroke="#000" stroke-width="4"/>
<line x1="1181.60" y1="1685.90" x2="1181.60" y2="1693.90" stroke="#000" stroke-width="4"/>
<line x1="1278.11" y1="1685.90" x2="1278.11" y2="1693.90" stroke="#000" stroke-width="4"/>
<line x1="1374.62" y1="1685.90" x2="1374.62" y2="1693.90" stroke="#000" stroke-width="4"/>
<line x1="1471.13" y1="1685.90" x2="1471.13" y2="1693.90" stroke="#000" stroke-width="4"/>
<text x="1181.60" y="1723.40" font-size="27.3" text-anchor="middle">0</text>
<text x="1278.11" y="1723.40" font-size="27.3" text-anchor="middle">30</text>
<text x="1374.62" y="1723.40" font-size="27.3" text-anchor="middle">60</text>
<text x="1471.13" y="1723.40" font-size="27.3" text-anchor="middle">90</text>
<text x="1330.80" y="1764.50" font-size="27.1" text-anchor="middle">Time (min)</text>
<text x="1091.83" y="1571.60" font-size="27" text-anchor="middle" transform="rotate(-90 1091.83 1571.60)">fEPSP slope (%)</text>
<line x1="1193.70" y1="1605.40" x2="1476.00" y2="1605.40" stroke="#000" stroke-width="2.8"/>
<text x="1387.40" y="1630.00" font-size="18.8" text-anchor="middle">500 nM RS</text>
<path d="M1280.5,1609.2 L1276,1620.5 L1285,1620.5 Z" stroke="#333" stroke-width="1.1" fill="#fff"/>
<line x1="1280.50" y1="1620.50" x2="1280.50" y2="1634.50" stroke="#222" stroke-width="1.2"/>
<text x="1281.50" y="1654.90" font-size="19" text-anchor="middle">HFS</text>
<line x1="1183.21" y1="1591.57" x2="1183.21" y2="1595.07" stroke="#ff2020" stroke-width="1.2"/>
<line x1="1181.41" y1="1591.57" x2="1185.01" y2="1591.57" stroke="#ff2020" stroke-width="1.2"/>
<line x1="1181.41" y1="1595.07" x2="1185.01" y2="1595.07" stroke="#ff2020" stroke-width="1.2"/>
<line x1="1186.26" y1="1589.50" x2="1186.26" y2="1596.06" stroke="#ff2020" stroke-width="1.2"/>
<line x1="1184.46" y1="1589.50" x2="1188.06" y2="1589.50" stroke="#ff2020" stroke-width="1.2"/>
<line x1="1184.46" y1="1596.06" x2="1188.06" y2="1596.06" stroke="#ff2020" stroke-width="1.2"/>
<line x1="1189.32" y1="1589.02" x2="1189.32" y2="1596.04" stroke="#ff2020" stroke-width="1.2"/>
<line x1="1187.52" y1="1589.02" x2="1191.12" y2="1589.02" stroke="#ff2020" stroke-width="1.2"/>
<line x1="1187.52" y1="1596.04" x2="1191.12" y2="1596.04" stroke="#ff2020" stroke-width="1.2"/>
<line x1="1192.38" y1="1589.40" x2="1192.38" y2="1594.32" stroke="#ff2020" stroke-width="1.2"/>
<line x1="1190.58" y1="1589.40" x2="1194.18" y2="1589.40" stroke="#ff2020" stroke-width="1.2"/>
<line x1="1190.58" y1="1594.32" x2="1194.18" y2="1594.32" stroke="#ff2020" stroke-width="1.2"/>
<line x1="1195.43" y1="1589.84" x2="1195.43" y2="1595.73" stroke="#ff2020" stroke-width="1.2"/>
<line x1="1193.63" y1="1589.84" x2="1197.23" y2="1589.84" stroke="#ff2020" stroke-width="1.2"/>
<line x1="1193.63" y1="1595.73" x2="1197.23" y2="1595.73" stroke="#ff2020" stroke-width="1.2"/>
<line x1="1198.49" y1="1588.94" x2="1198.49" y2="1594.96" stroke="#ff2020" stroke-width="1.2"/>
<line x1="1196.69" y1="1588.94" x2="1200.29" y2="1588.94" stroke="#ff2020" stroke-width="1.2"/>
<line x1="1196.69" y1="1594.96" x2="1200.29" y2="1594.96" stroke="#ff2020" stroke-width="1.2"/>
<line x1="1201.55" y1="1592.99" x2="1201.55" y2="1599.07" stroke="#ff2020" stroke-width="1.2"/>
<line x1="1199.75" y1="1592.99" x2="1203.35" y2="1592.99" stroke="#ff2020" stroke-width="1.2"/>
<line x1="1199.75" y1="1599.07" x2="1203.35" y2="1599.07" stroke="#ff2020" stroke-width="1.2"/>
<line x1="1204.60" y1="1592.27" x2="1204.60" y2="1595.80" stroke="#ff2020" stroke-width="1.2"/>
<line x1="1202.80" y1="1592.27" x2="1206.40" y2="1592.27" stroke="#ff2020" stroke-width="1.2"/>
<line x1="1202.80" y1="1595.80" x2="1206.40" y2="1595.80" stroke="#ff2020" stroke-width="1.2"/>
<line x1="1207.66" y1="1588.70" x2="1207.66" y2="1595.01" stroke="#ff2020" stroke-width="1.2"/>
<line x1="1205.86" y1="1588.70" x2="1209.46" y2="1588.70" stroke="#ff2020" stroke-width="1.2"/>
<line x1="1205.86" y1="1595.01" x2="1209.46" y2="1595.01" stroke="#ff2020" stroke-width="1.2"/>
<line x1="1210.71" y1="1590.50" x2="1210.71" y2="1595.90" stroke="#ff2020" stroke-width="1.2"/>
<line x1="1208.91" y1="1590.50" x2="1212.51" y2="1590.50" stroke="#ff2020" stroke-width="1.2"/>
<line x1="1208.91" y1="1595.90" x2="1212.51" y2="1595.90" stroke="#ff2020" stroke-width="1.2"/>
<line x1="1213.77" y1="1589.16" x2="1213.77" y2="1594.94" stroke="#ff2020" stroke-width="1.2"/>
<line x1="1211.97" y1="1589.16" x2="1215.57" y2="1589.16" stroke="#ff2020" stroke-width="1.2"/>
<line x1="1211.97" y1="1594.94" x2="1215.57" y2="1594.94" stroke="#ff2020" stroke-width="1.2"/>
<line x1="1216.83" y1="1593.32" x2="1216.83" y2="1597.98" stroke="#ff2020" stroke-width="1.2"/>
<line x1="1215.03" y1="1593.32" x2="1218.63" y2="1593.32" stroke="#ff2020" stroke-width="1.2"/>
<line x1="1215.03" y1="1597.98" x2="1218.63" y2="1597.98" stroke="#ff2020" stroke-width="1.2"/>
<line x1="1219.88" y1="1591.23" x2="1219.88" y2="1596.82" stroke="#ff2020" stroke-width="1.2"/>
<line x1="1218.08" y1="1591.23" x2="1221.68" y2="1591.23" stroke="#ff2020" stroke-width="1.2"/>
<line x1="1218.08" y1="1596.82" x2="1221.68" y2="1596.82" stroke="#ff2020" stroke-width="1.2"/>
<line x1="1222.94" y1="1591.90" x2="1222.94" y2="1598.18" stroke="#ff2020" stroke-width="1.2"/>
<line x1="1221.14" y1="1591.90" x2="1224.74" y2="1591.90" stroke="#ff2020" stroke-width="1.2"/>
<line x1="1221.14" y1="1598.18" x2="1224.74" y2="1598.18" stroke="#ff2020" stroke-width="1.2"/>
<line x1="1225.99" y1="1590.86" x2="1225.99" y2="1596.50" stroke="#ff2020" stroke-width="1.2"/>
<line x1="1224.19" y1="1590.86" x2="1227.79" y2="1590.86" stroke="#ff2020" stroke-width="1.2"/>
<line x1="1224.19" y1="1596.50" x2="1227.79" y2="1596.50" stroke="#ff2020" stroke-width="1.2"/>
<line x1="1229.05" y1="1590.53" x2="1229.05" y2="1596.56" stroke="#ff2020" stroke-width="1.2"/>
<line x1="1227.25" y1="1590.53" x2="1230.85" y2="1590.53" stroke="#ff2020" stroke-width="1.2"/>
<line x1="1227.25" y1="1596.56" x2="1230.85" y2="1596.56" stroke="#ff2020" stroke-width="1.2"/>
<line x1="1232.11" y1="1594.67" x2="1232.11" y2="1597.54" stroke="#ff2020" stroke-width="1.2"/>
<line x1="1230.31" y1="1594.67" x2="1233.91" y2="1594.67" stroke="#ff2020" stroke-width="1.2"/>
<line x1="1230.31" y1="1597.54" x2="1233.91" y2="1597.54" stroke="#ff2020" stroke-width="1.2"/>
<line x1="1235.16" y1="1593.44" x2="1235.16" y2="1596.91" stroke="#ff2020" stroke-width="1.2"/>
<line x1="1233.36" y1="1593.44" x2="1236.96" y2="1593.44" stroke="#ff2020" stroke-width="1.2"/>
<line x1="1233.36" y1="1596.91" x2="1236.96" y2="1596.91" stroke="#ff2020" stroke-width="1.2"/>
<line x1="1238.22" y1="1592.51" x2="1238.22" y2="1597.26" stroke="#ff2020" stroke-width="1.2"/>
<line x1="1236.42" y1="1592.51" x2="1240.02" y2="1592.51" stroke="#ff2020" stroke-width="1.2"/>
<line x1="1236.42" y1="1597.26" x2="1240.02" y2="1597.26" stroke="#ff2020" stroke-width="1.2"/>
<line x1="1241.28" y1="1589.12" x2="1241.28" y2="1594.83" stroke="#ff2020" stroke-width="1.2"/>
<line x1="1239.48" y1="1589.12" x2="1243.08" y2="1589.12" stroke="#ff2020" stroke-width="1.2"/>
<line x1="1239.48" y1="1594.83" x2="1243.08" y2="1594.83" stroke="#ff2020" stroke-width="1.2"/>
<line x1="1244.33" y1="1590.80" x2="1244.33" y2="1594.54" stroke="#ff2020" stroke-width="1.2"/>
<line x1="1242.53" y1="1590.80" x2="1246.13" y2="1590.80" stroke="#ff2020" stroke-width="1.2"/>
<line x1="1242.53" y1="1594.54" x2="1246.13" y2="1594.54" stroke="#ff2020" stroke-width="1.2"/>
<line x1="1247.39" y1="1592.50" x2="1247.39" y2="1598.37" stroke="#ff2020" stroke-width="1.2"/>
<line x1="1245.59" y1="1592.50" x2="1249.19" y2="1592.50" stroke="#ff2020" stroke-width="1.2"/>
<line x1="1245.59" y1="1598.37" x2="1249.19" y2="1598.37" stroke="#ff2020" stroke-width="1.2"/>
<line x1="1250.44" y1="1589.71" x2="1250.44" y2="1595.33" stroke="#ff2020" stroke-width="1.2"/>
<line x1="1248.64" y1="1589.71" x2="1252.24" y2="1589.71" stroke="#ff2020" stroke-width="1.2"/>
<line x1="1248.64" y1="1595.33" x2="1252.24" y2="1595.33" stroke="#ff2020" stroke-width="1.2"/>
<line x1="1253.50" y1="1594.06" x2="1253.50" y2="1596.99" stroke="#ff2020" stroke-width="1.2"/>
<line x1="1251.70" y1="1594.06" x2="1255.30" y2="1594.06" stroke="#ff2020" stroke-width="1.2"/>
<line x1="1251.70" y1="1596.99" x2="1255.30" y2="1596.99" stroke="#ff2020" stroke-width="1.2"/>
<line x1="1256.56" y1="1590.90" x2="1256.56" y2="1595.79" stroke="#ff2020" stroke-width="1.2"/>
<line x1="1254.76" y1="1590.90" x2="1258.36" y2="1590.90" stroke="#ff2020" stroke-width="1.2"/>
<line x1="1254.76" y1="1595.79" x2="1258.36" y2="1595.79" stroke="#ff2020" stroke-width="1.2"/>
<line x1="1259.61" y1="1593.70" x2="1259.61" y2="1597.47" stroke="#ff2020" stroke-width="1.2"/>
<line x1="1257.81" y1="1593.70" x2="1261.41" y2="1593.70" stroke="#ff2020" stroke-width="1.2"/>
<line x1="1257.81" y1="1597.47" x2="1261.41" y2="1597.47" stroke="#ff2020" stroke-width="1.2"/>
<line x1="1262.67" y1="1594.66" x2="1262.67" y2="1597.65" stroke="#ff2020" stroke-width="1.2"/>
<line x1="1260.87" y1="1594.66" x2="1264.47" y2="1594.66" stroke="#ff2020" stroke-width="1.2"/>
<line x1="1260.87" y1="1597.65" x2="1264.47" y2="1597.65" stroke="#ff2020" stroke-width="1.2"/>
<line x1="1265.72" y1="1590.51" x2="1265.72" y2="1593.86" stroke="#ff2020" stroke-width="1.2"/>
<line x1="1263.92" y1="1590.51" x2="1267.52" y2="1590.51" stroke="#ff2020" stroke-width="1.2"/>
<line x1="1263.92" y1="1593.86" x2="1267.52" y2="1593.86" stroke="#ff2020" stroke-width="1.2"/>
<line x1="1268.78" y1="1593.11" x2="1268.78" y2="1597.30" stroke="#ff2020" stroke-width="1.2"/>
<line x1="1266.98" y1="1593.11" x2="1270.58" y2="1593.11" stroke="#ff2020" stroke-width="1.2"/>
<line x1="1266.98" y1="1597.30" x2="1270.58" y2="1597.30" stroke="#ff2020" stroke-width="1.2"/>
<line x1="1271.84" y1="1593.39" x2="1271.84" y2="1596.96" stroke="#ff2020" stroke-width="1.2"/>
<line x1="1270.04" y1="1593.39" x2="1273.64" y2="1593.39" stroke="#ff2020" stroke-width="1.2"/>
<line x1="1270.04" y1="1596.96" x2="1273.64" y2="1596.96" stroke="#ff2020" stroke-width="1.2"/>
<line x1="1281.33" y1="1467.99" x2="1281.33" y2="1477.06" stroke="#ff2020" stroke-width="1.2"/>
<line x1="1279.53" y1="1467.99" x2="1283.13" y2="1467.99" stroke="#ff2020" stroke-width="1.2"/>
<line x1="1279.53" y1="1477.06" x2="1283.13" y2="1477.06" stroke="#ff2020" stroke-width="1.2"/>
<line x1="1284.48" y1="1477.81" x2="1284.48" y2="1485.44" stroke="#ff2020" stroke-width="1.2"/>
<line x1="1282.68" y1="1477.81" x2="1286.28" y2="1477.81" stroke="#ff2020" stroke-width="1.2"/>
<line x1="1282.68" y1="1485.44" x2="1286.28" y2="1485.44" stroke="#ff2020" stroke-width="1.2"/>
<line x1="1287.63" y1="1487.54" x2="1287.63" y2="1499.10" stroke="#ff2020" stroke-width="1.2"/>
<line x1="1285.83" y1="1487.54" x2="1289.43" y2="1487.54" stroke="#ff2020" stroke-width="1.2"/>
<line x1="1285.83" y1="1499.10" x2="1289.43" y2="1499.10" stroke="#ff2020" stroke-width="1.2"/>
<line x1="1290.78" y1="1491.89" x2="1290.78" y2="1502.67" stroke="#ff2020" stroke-width="1.2"/>
<line x1="1288.98" y1="1491.89" x2="1292.58" y2="1491.89" stroke="#ff2020" stroke-width="1.2"/>
<line x1="1288.98" y1="1502.67" x2="1292.58" y2="1502.67" stroke="#ff2020" stroke-width="1.2"/>
<line x1="1293.94" y1="1500.76" x2="1293.94" y2="1513.65" stroke="#ff2020" stroke-width="1.2"/>
<line x1="1292.14" y1="1500.76" x2="1295.74" y2="1500.76" stroke="#ff2020" stroke-width="1.2"/>
<line x1="1292.14" y1="1513.65" x2="1295.74" y2="1513.65" stroke="#ff2020" stroke-width="1.2"/>
<line x1="1297.09" y1="1504.00" x2="1297.09" y2="1516.70" stroke="#ff2020" stroke-width="1.2"/>
<line x1="1295.29" y1="1504.00" x2="1298.89" y2="1504.00" stroke="#ff2020" stroke-width="1.2"/>
<line x1="1295.29" y1="1516.70" x2="1298.89" y2="1516.70" stroke="#ff2020" stroke-width="1.2"/>
<line x1="1300.24" y1="1511.79" x2="1300.24" y2="1521.26" stroke="#ff2020" stroke-width="1.2"/>
<line x1="1298.44" y1="1511.79" x2="1302.04" y2="1511.79" stroke="#ff2020" stroke-width="1.2"/>
<line x1="1298.44" y1="1521.26" x2="1302.04" y2="1521.26" stroke="#ff2020" stroke-width="1.2"/>
<line x1="1303.40" y1="1508.29" x2="1303.40" y2="1523.85" stroke="#ff2020" stroke-width="1.2"/>
<line x1="1301.60" y1="1508.29" x2="1305.20" y2="1508.29" stroke="#ff2020" stroke-width="1.2"/>
<line x1="1301.60" y1="1523.85" x2="1305.20" y2="1523.85" stroke="#ff2020" stroke-width="1.2"/>
<line x1="1306.55" y1="1515.64" x2="1306.55" y2="1522.95" stroke="#ff2020" stroke-width="1.2"/>
<line x1="1304.75" y1="1515.64" x2="1308.35" y2="1515.64" stroke="#ff2020" stroke-width="1.2"/>
<line x1="1304.75" y1="1522.95" x2="1308.35" y2="1522.95" stroke="#ff2020" stroke-width="1.2"/>
<line x1="1309.70" y1="1513.85" x2="1309.70" y2="1524.85" stroke="#ff2020" stroke-width="1.2"/>
<line x1="1307.90" y1="1513.85" x2="1311.50" y2="1513.85" stroke="#ff2020" stroke-width="1.2"/>
<line x1="1307.90" y1="1524.85" x2="1311.50" y2="1524.85" stroke="#ff2020" stroke-width="1.2"/>
<line x1="1312.85" y1="1516.39" x2="1312.85" y2="1526.24" stroke="#ff2020" stroke-width="1.2"/>
<line x1="1311.05" y1="1516.39" x2="1314.65" y2="1516.39" stroke="#ff2020" stroke-width="1.2"/>
<line x1="1311.05" y1="1526.24" x2="1314.65" y2="1526.24" stroke="#ff2020" stroke-width="1.2"/>
<line x1="1316.01" y1="1520.62" x2="1316.01" y2="1531.67" stroke="#ff2020" stroke-width="1.2"/>
<line x1="1314.21" y1="1520.62" x2="1317.81" y2="1520.62" stroke="#ff2020" stroke-width="1.2"/>
<line x1="1314.21" y1="1531.67" x2="1317.81" y2="1531.67" stroke="#ff2020" stroke-width="1.2"/>
<line x1="1319.16" y1="1522.41" x2="1319.16" y2="1530.76" stroke="#ff2020" stroke-width="1.2"/>
<line x1="1317.36" y1="1522.41" x2="1320.96" y2="1522.41" stroke="#ff2020" stroke-width="1.2"/>
<line x1="1317.36" y1="1530.76" x2="1320.96" y2="1530.76" stroke="#ff2020" stroke-width="1.2"/>
<line x1="1322.31" y1="1520.76" x2="1322.31" y2="1535.66" stroke="#ff2020" stroke-width="1.2"/>
<line x1="1320.51" y1="1520.76" x2="1324.11" y2="1520.76" stroke="#ff2020" stroke-width="1.2"/>
<line x1="1320.51" y1="1535.66" x2="1324.11" y2="1535.66" stroke="#ff2020" stroke-width="1.2"/>
<line x1="1325.46" y1="1523.52" x2="1325.46" y2="1534.24" stroke="#ff2020" stroke-width="1.2"/>
<line x1="1323.66" y1="1523.52" x2="1327.26" y2="1523.52" stroke="#ff2020" stroke-width="1.2"/>
<line x1="1323.66" y1="1534.24" x2="1327.26" y2="1534.24" stroke="#ff2020" stroke-width="1.2"/>
<line x1="1328.62" y1="1526.07" x2="1328.62" y2="1533.70" stroke="#ff2020" stroke-width="1.2"/>
<line x1="1326.82" y1="1526.07" x2="1330.42" y2="1526.07" stroke="#ff2020" stroke-width="1.2"/>
<line x1="1326.82" y1="1533.70" x2="1330.42" y2="1533.70" stroke="#ff2020" stroke-width="1.2"/>
<line x1="1331.77" y1="1522.70" x2="1331.77" y2="1535.60" stroke="#ff2020" stroke-width="1.2"/>
<line x1="1329.97" y1="1522.70" x2="1333.57" y2="1522.70" stroke="#ff2020" stroke-width="1.2"/>
<line x1="1329.97" y1="1535.60" x2="1333.57" y2="1535.60" stroke="#ff2020" stroke-width="1.2"/>
<line x1="1334.92" y1="1523.97" x2="1334.92" y2="1532.14" stroke="#ff2020" stroke-width="1.2"/>
<line x1="1333.12" y1="1523.97" x2="1336.72" y2="1523.97" stroke="#ff2020" stroke-width="1.2"/>
<line x1="1333.12" y1="1532.14" x2="1336.72" y2="1532.14" stroke="#ff2020" stroke-width="1.2"/>
<line x1="1338.07" y1="1525.76" x2="1338.07" y2="1538.04" stroke="#ff2020" stroke-width="1.2"/>
<line x1="1336.27" y1="1525.76" x2="1339.87" y2="1525.76" stroke="#ff2020" stroke-width="1.2"/>
<line x1="1336.27" y1="1538.04" x2="1339.87" y2="1538.04" stroke="#ff2020" stroke-width="1.2"/>
<line x1="1341.23" y1="1523.56" x2="1341.23" y2="1533.97" stroke="#ff2020" stroke-width="1.2"/>
<line x1="1339.43" y1="1523.56" x2="1343.03" y2="1523.56" stroke="#ff2020" stroke-width="1.2"/>
<line x1="1339.43" y1="1533.97" x2="1343.03" y2="1533.97" stroke="#ff2020" stroke-width="1.2"/>
<line x1="1344.38" y1="1524.87" x2="1344.38" y2="1537.48" stroke="#ff2020" stroke-width="1.2"/>
<line x1="1342.58" y1="1524.87" x2="1346.18" y2="1524.87" stroke="#ff2020" stroke-width="1.2"/>
<line x1="1342.58" y1="1537.48" x2="1346.18" y2="1537.48" stroke="#ff2020" stroke-width="1.2"/>
<line x1="1347.53" y1="1523.83" x2="1347.53" y2="1539.89" stroke="#ff2020" stroke-width="1.2"/>
<line x1="1345.73" y1="1523.83" x2="1349.33" y2="1523.83" stroke="#ff2020" stroke-width="1.2"/>
<line x1="1345.73" y1="1539.89" x2="1349.33" y2="1539.89" stroke="#ff2020" stroke-width="1.2"/>
<line x1="1350.69" y1="1522.22" x2="1350.69" y2="1537.00" stroke="#ff2020" stroke-width="1.2"/>
<line x1="1348.89" y1="1522.22" x2="1352.49" y2="1522.22" stroke="#ff2020" stroke-width="1.2"/>
<line x1="1348.89" y1="1537.00" x2="1352.49" y2="1537.00" stroke="#ff2020" stroke-width="1.2"/>
<line x1="1353.84" y1="1526.43" x2="1353.84" y2="1537.57" stroke="#ff2020" stroke-width="1.2"/>
<line x1="1352.04" y1="1526.43" x2="1355.64" y2="1526.43" stroke="#ff2020" stroke-width="1.2"/>
<line x1="1352.04" y1="1537.57" x2="1355.64" y2="1537.57" stroke="#ff2020" stroke-width="1.2"/>
<line x1="1356.99" y1="1526.08" x2="1356.99" y2="1540.81" stroke="#ff2020" stroke-width="1.2"/>
<line x1="1355.19" y1="1526.08" x2="1358.79" y2="1526.08" stroke="#ff2020" stroke-width="1.2"/>
<line x1="1355.19" y1="1540.81" x2="1358.79" y2="1540.81" stroke="#ff2020" stroke-width="1.2"/>
<line x1="1360.14" y1="1526.49" x2="1360.14" y2="1539.66" stroke="#ff2020" stroke-width="1.2"/>
<line x1="1358.34" y1="1526.49" x2="1361.94" y2="1526.49" stroke="#ff2020" stroke-width="1.2"/>
<line x1="1358.34" y1="1539.66" x2="1361.94" y2="1539.66" stroke="#ff2020" stroke-width="1.2"/>
<line x1="1363.30" y1="1527.05" x2="1363.30" y2="1537.72" stroke="#ff2020" stroke-width="1.2"/>
<line x1="1361.50" y1="1527.05" x2="1365.10" y2="1527.05" stroke="#ff2020" stroke-width="1.2"/>
<line x1="1361.50" y1="1537.72" x2="1365.10" y2="1537.72" stroke="#ff2020" stroke-width="1.2"/>
<line x1="1366.45" y1="1532.17" x2="1366.45" y2="1540.77" stroke="#ff2020" stroke-width="1.2"/>
<line x1="1364.65" y1="1532.17" x2="1368.25" y2="1532.17" stroke="#ff2020" stroke-width="1.2"/>
<line x1="1364.65" y1="1540.77" x2="1368.25" y2="1540.77" stroke="#ff2020" stroke-width="1.2"/>
<line x1="1369.60" y1="1525.60" x2="1369.60" y2="1538.35" stroke="#ff2020" stroke-width="1.2"/>
<line x1="1367.80" y1="1525.60" x2="1371.40" y2="1525.60" stroke="#ff2020" stroke-width="1.2"/>
<line x1="1367.80" y1="1538.35" x2="1371.40" y2="1538.35" stroke="#ff2020" stroke-width="1.2"/>
<line x1="1372.75" y1="1531.50" x2="1372.75" y2="1543.96" stroke="#ff2020" stroke-width="1.2"/>
<line x1="1370.95" y1="1531.50" x2="1374.55" y2="1531.50" stroke="#ff2020" stroke-width="1.2"/>
<line x1="1370.95" y1="1543.96" x2="1374.55" y2="1543.96" stroke="#ff2020" stroke-width="1.2"/>
<line x1="1375.91" y1="1526.15" x2="1375.91" y2="1542.20" stroke="#ff2020" stroke-width="1.2"/>
<line x1="1374.11" y1="1526.15" x2="1377.71" y2="1526.15" stroke="#ff2020" stroke-width="1.2"/>
<line x1="1374.11" y1="1542.20" x2="1377.71" y2="1542.20" stroke="#ff2020" stroke-width="1.2"/>
<line x1="1379.06" y1="1525.85" x2="1379.06" y2="1542.00" stroke="#ff2020" stroke-width="1.2"/>
<line x1="1377.26" y1="1525.85" x2="1380.86" y2="1525.85" stroke="#ff2020" stroke-width="1.2"/>
<line x1="1377.26" y1="1542.00" x2="1380.86" y2="1542.00" stroke="#ff2020" stroke-width="1.2"/>
<line x1="1382.21" y1="1532.29" x2="1382.21" y2="1545.15" stroke="#ff2020" stroke-width="1.2"/>
<line x1="1380.41" y1="1532.29" x2="1384.01" y2="1532.29" stroke="#ff2020" stroke-width="1.2"/>
<line x1="1380.41" y1="1545.15" x2="1384.01" y2="1545.15" stroke="#ff2020" stroke-width="1.2"/>
<line x1="1385.36" y1="1529.52" x2="1385.36" y2="1540.03" stroke="#ff2020" stroke-width="1.2"/>
<line x1="1383.56" y1="1529.52" x2="1387.16" y2="1529.52" stroke="#ff2020" stroke-width="1.2"/>
<line x1="1383.56" y1="1540.03" x2="1387.16" y2="1540.03" stroke="#ff2020" stroke-width="1.2"/>
<line x1="1388.52" y1="1529.62" x2="1388.52" y2="1545.08" stroke="#ff2020" stroke-width="1.2"/>
<line x1="1386.72" y1="1529.62" x2="1390.32" y2="1529.62" stroke="#ff2020" stroke-width="1.2"/>
<line x1="1386.72" y1="1545.08" x2="1390.32" y2="1545.08" stroke="#ff2020" stroke-width="1.2"/>
<line x1="1391.67" y1="1532.80" x2="1391.67" y2="1540.11" stroke="#ff2020" stroke-width="1.2"/>
<line x1="1389.87" y1="1532.80" x2="1393.47" y2="1532.80" stroke="#ff2020" stroke-width="1.2"/>
<line x1="1389.87" y1="1540.11" x2="1393.47" y2="1540.11" stroke="#ff2020" stroke-width="1.2"/>
<line x1="1394.82" y1="1535.70" x2="1394.82" y2="1543.99" stroke="#ff2020" stroke-width="1.2"/>
<line x1="1393.02" y1="1535.70" x2="1396.62" y2="1535.70" stroke="#ff2020" stroke-width="1.2"/>
<line x1="1393.02" y1="1543.99" x2="1396.62" y2="1543.99" stroke="#ff2020" stroke-width="1.2"/>
<line x1="1397.98" y1="1533.67" x2="1397.98" y2="1546.14" stroke="#ff2020" stroke-width="1.2"/>
<line x1="1396.18" y1="1533.67" x2="1399.78" y2="1533.67" stroke="#ff2020" stroke-width="1.2"/>
<line x1="1396.18" y1="1546.14" x2="1399.78" y2="1546.14" stroke="#ff2020" stroke-width="1.2"/>
<line x1="1401.13" y1="1532.98" x2="1401.13" y2="1545.90" stroke="#ff2020" stroke-width="1.2"/>
<line x1="1399.33" y1="1532.98" x2="1402.93" y2="1532.98" stroke="#ff2020" stroke-width="1.2"/>
<line x1="1399.33" y1="1545.90" x2="1402.93" y2="1545.90" stroke="#ff2020" stroke-width="1.2"/>
<line x1="1404.28" y1="1531.17" x2="1404.28" y2="1539.76" stroke="#ff2020" stroke-width="1.2"/>
<line x1="1402.48" y1="1531.17" x2="1406.08" y2="1531.17" stroke="#ff2020" stroke-width="1.2"/>
<line x1="1402.48" y1="1539.76" x2="1406.08" y2="1539.76" stroke="#ff2020" stroke-width="1.2"/>
<line x1="1407.43" y1="1533.37" x2="1407.43" y2="1546.42" stroke="#ff2020" stroke-width="1.2"/>
<line x1="1405.63" y1="1533.37" x2="1409.23" y2="1533.37" stroke="#ff2020" stroke-width="1.2"/>
<line x1="1405.63" y1="1546.42" x2="1409.23" y2="1546.42" stroke="#ff2020" stroke-width="1.2"/>
<line x1="1410.59" y1="1529.37" x2="1410.59" y2="1544.82" stroke="#ff2020" stroke-width="1.2"/>
<line x1="1408.79" y1="1529.37" x2="1412.39" y2="1529.37" stroke="#ff2020" stroke-width="1.2"/>
<line x1="1408.79" y1="1544.82" x2="1412.39" y2="1544.82" stroke="#ff2020" stroke-width="1.2"/>
<line x1="1413.74" y1="1531.04" x2="1413.74" y2="1541.78" stroke="#ff2020" stroke-width="1.2"/>
<line x1="1411.94" y1="1531.04" x2="1415.54" y2="1531.04" stroke="#ff2020" stroke-width="1.2"/>
<line x1="1411.94" y1="1541.78" x2="1415.54" y2="1541.78" stroke="#ff2020" stroke-width="1.2"/>
<line x1="1416.89" y1="1530.99" x2="1416.89" y2="1542.24" stroke="#ff2020" stroke-width="1.2"/>
<line x1="1415.09" y1="1530.99" x2="1418.69" y2="1530.99" stroke="#ff2020" stroke-width="1.2"/>
<line x1="1415.09" y1="1542.24" x2="1418.69" y2="1542.24" stroke="#ff2020" stroke-width="1.2"/>
<line x1="1420.04" y1="1535.47" x2="1420.04" y2="1544.84" stroke="#ff2020" stroke-width="1.2"/>
<line x1="1418.24" y1="1535.47" x2="1421.84" y2="1535.47" stroke="#ff2020" stroke-width="1.2"/>
<line x1="1418.24" y1="1544.84" x2="1421.84" y2="1544.84" stroke="#ff2020" stroke-width="1.2"/>
<line x1="1423.20" y1="1535.38" x2="1423.20" y2="1545.35" stroke="#ff2020" stroke-width="1.2"/>
<line x1="1421.40" y1="1535.38" x2="1425.00" y2="1535.38" stroke="#ff2020" stroke-width="1.2"/>
<line x1="1421.40" y1="1545.35" x2="1425.00" y2="1545.35" stroke="#ff2020" stroke-width="1.2"/>
<line x1="1426.35" y1="1531.61" x2="1426.35" y2="1547.80" stroke="#ff2020" stroke-width="1.2"/>
<line x1="1424.55" y1="1531.61" x2="1428.15" y2="1531.61" stroke="#ff2020" stroke-width="1.2"/>
<line x1="1424.55" y1="1547.80" x2="1428.15" y2="1547.80" stroke="#ff2020" stroke-width="1.2"/>
<line x1="1429.50" y1="1533.21" x2="1429.50" y2="1543.99" stroke="#ff2020" stroke-width="1.2"/>
<line x1="1427.70" y1="1533.21" x2="1431.30" y2="1533.21" stroke="#ff2020" stroke-width="1.2"/>
<line x1="1427.70" y1="1543.99" x2="1431.30" y2="1543.99" stroke="#ff2020" stroke-width="1.2"/>
<line x1="1432.65" y1="1534.48" x2="1432.65" y2="1550.57" stroke="#ff2020" stroke-width="1.2"/>
<line x1="1430.85" y1="1534.48" x2="1434.45" y2="1534.48" stroke="#ff2020" stroke-width="1.2"/>
<line x1="1430.85" y1="1550.57" x2="1434.45" y2="1550.57" stroke="#ff2020" stroke-width="1.2"/>
<line x1="1435.81" y1="1531.46" x2="1435.81" y2="1547.11" stroke="#ff2020" stroke-width="1.2"/>
<line x1="1434.01" y1="1531.46" x2="1437.61" y2="1531.46" stroke="#ff2020" stroke-width="1.2"/>
<line x1="1434.01" y1="1547.11" x2="1437.61" y2="1547.11" stroke="#ff2020" stroke-width="1.2"/>
<line x1="1438.96" y1="1532.91" x2="1438.96" y2="1545.66" stroke="#ff2020" stroke-width="1.2"/>
<line x1="1437.16" y1="1532.91" x2="1440.76" y2="1532.91" stroke="#ff2020" stroke-width="1.2"/>
<line x1="1437.16" y1="1545.66" x2="1440.76" y2="1545.66" stroke="#ff2020" stroke-width="1.2"/>
<line x1="1442.11" y1="1534.64" x2="1442.11" y2="1544.32" stroke="#ff2020" stroke-width="1.2"/>
<line x1="1440.31" y1="1534.64" x2="1443.91" y2="1534.64" stroke="#ff2020" stroke-width="1.2"/>
<line x1="1440.31" y1="1544.32" x2="1443.91" y2="1544.32" stroke="#ff2020" stroke-width="1.2"/>
<line x1="1445.27" y1="1536.40" x2="1445.27" y2="1552.66" stroke="#ff2020" stroke-width="1.2"/>
<line x1="1443.47" y1="1536.40" x2="1447.07" y2="1536.40" stroke="#ff2020" stroke-width="1.2"/>
<line x1="1443.47" y1="1552.66" x2="1447.07" y2="1552.66" stroke="#ff2020" stroke-width="1.2"/>
<line x1="1448.42" y1="1534.16" x2="1448.42" y2="1546.00" stroke="#ff2020" stroke-width="1.2"/>
<line x1="1446.62" y1="1534.16" x2="1450.22" y2="1534.16" stroke="#ff2020" stroke-width="1.2"/>
<line x1="1446.62" y1="1546.00" x2="1450.22" y2="1546.00" stroke="#ff2020" stroke-width="1.2"/>
<line x1="1451.57" y1="1539.75" x2="1451.57" y2="1550.85" stroke="#ff2020" stroke-width="1.2"/>
<line x1="1449.77" y1="1539.75" x2="1453.37" y2="1539.75" stroke="#ff2020" stroke-width="1.2"/>
<line x1="1449.77" y1="1550.85" x2="1453.37" y2="1550.85" stroke="#ff2020" stroke-width="1.2"/>
<line x1="1454.72" y1="1539.36" x2="1454.72" y2="1549.58" stroke="#ff2020" stroke-width="1.2"/>
<line x1="1452.92" y1="1539.36" x2="1456.52" y2="1539.36" stroke="#ff2020" stroke-width="1.2"/>
<line x1="1452.92" y1="1549.58" x2="1456.52" y2="1549.58" stroke="#ff2020" stroke-width="1.2"/>
<line x1="1457.88" y1="1535.38" x2="1457.88" y2="1551.68" stroke="#ff2020" stroke-width="1.2"/>
<line x1="1456.08" y1="1535.38" x2="1459.68" y2="1535.38" stroke="#ff2020" stroke-width="1.2"/>
<line x1="1456.08" y1="1551.68" x2="1459.68" y2="1551.68" stroke="#ff2020" stroke-width="1.2"/>
<line x1="1461.03" y1="1536.48" x2="1461.03" y2="1548.28" stroke="#ff2020" stroke-width="1.2"/>
<line x1="1459.23" y1="1536.48" x2="1462.83" y2="1536.48" stroke="#ff2020" stroke-width="1.2"/>
<line x1="1459.23" y1="1548.28" x2="1462.83" y2="1548.28" stroke="#ff2020" stroke-width="1.2"/>
<line x1="1464.18" y1="1541.13" x2="1464.18" y2="1551.05" stroke="#ff2020" stroke-width="1.2"/>
<line x1="1462.38" y1="1541.13" x2="1465.98" y2="1541.13" stroke="#ff2020" stroke-width="1.2"/>
<line x1="1462.38" y1="1551.05" x2="1465.98" y2="1551.05" stroke="#ff2020" stroke-width="1.2"/>
<line x1="1467.33" y1="1537.59" x2="1467.33" y2="1549.25" stroke="#ff2020" stroke-width="1.2"/>
<line x1="1465.53" y1="1537.59" x2="1469.13" y2="1537.59" stroke="#ff2020" stroke-width="1.2"/>
<line x1="1465.53" y1="1549.25" x2="1469.13" y2="1549.25" stroke="#ff2020" stroke-width="1.2"/>
<circle cx="1183.21" cy="1593.32" r="2.50" fill="#ff2020" stroke="none" stroke-width="1"/>
<circle cx="1186.26" cy="1592.78" r="2.50" fill="#ff2020" stroke="none" stroke-width="1"/>
<circle cx="1189.32" cy="1592.53" r="2.50" fill="#ff2020" stroke="none" stroke-width="1"/>
<circle cx="1192.38" cy="1591.86" r="2.50" fill="#ff2020" stroke="none" stroke-width="1"/>
<circle cx="1195.43" cy="1592.78" r="2.50" fill="#ff2020" stroke="none" stroke-width="1"/>
<circle cx="1198.49" cy="1591.95" r="2.50" fill="#ff2020" stroke="none" stroke-width="1"/>
<circle cx="1201.55" cy="1596.03" r="2.50" fill="#ff2020" stroke="none" stroke-width="1"/>
<circle cx="1204.60" cy="1594.04" r="2.50" fill="#ff2020" stroke="none" stroke-width="1"/>
<circle cx="1207.66" cy="1591.86" r="2.50" fill="#ff2020" stroke="none" stroke-width="1"/>
<circle cx="1210.71" cy="1593.20" r="2.50" fill="#ff2020" stroke="none" stroke-width="1"/>
<circle cx="1213.77" cy="1592.05" r="2.50" fill="#ff2020" stroke="none" stroke-width="1"/>
<circle cx="1216.83" cy="1595.65" r="2.50" fill="#ff2020" stroke="none" stroke-width="1"/>
<circle cx="1219.88" cy="1594.02" r="2.50" fill="#ff2020" stroke="none" stroke-width="1"/>
<circle cx="1222.94" cy="1595.04" r="2.50" fill="#ff2020" stroke="none" stroke-width="1"/>
<circle cx="1225.99" cy="1593.68" r="2.50" fill="#ff2020" stroke="none" stroke-width="1"/>
<circle cx="1229.05" cy="1593.54" r="2.50" fill="#ff2020" stroke="none" stroke-width="1"/>
<circle cx="1232.11" cy="1596.10" r="2.50" fill="#ff2020" stroke="none" stroke-width="1"/>
<circle cx="1235.16" cy="1595.17" r="2.50" fill="#ff2020" stroke="none" stroke-width="1"/>
<circle cx="1238.22" cy="1594.89" r="2.50" fill="#ff2020" stroke="none" stroke-width="1"/>
<circle cx="1241.28" cy="1591.98" r="2.50" fill="#ff2020" stroke="none" stroke-width="1"/>
<circle cx="1244.33" cy="1592.67" r="2.50" fill="#ff2020" stroke="none" stroke-width="1"/>
<circle cx="1247.39" cy="1595.43" r="2.50" fill="#ff2020" stroke="none" stroke-width="1"/>
<circle cx="1250.44" cy="1592.52" r="2.50" fill="#ff2020" stroke="none" stroke-width="1"/>
<circle cx="1253.50" cy="1595.53" r="2.50" fill="#ff2020" stroke="none" stroke-width="1"/>
<circle cx="1256.56" cy="1593.34" r="2.50" fill="#ff2020" stroke="none" stroke-width="1"/>
<circle cx="1259.61" cy="1595.58" r="2.50" fill="#ff2020" stroke="none" stroke-width="1"/>
<circle cx="1262.67" cy="1596.15" r="2.50" fill="#ff2020" stroke="none" stroke-width="1"/>
<circle cx="1265.72" cy="1592.18" r="2.50" fill="#ff2020" stroke="none" stroke-width="1"/>
<circle cx="1268.78" cy="1595.21" r="2.50" fill="#ff2020" stroke="none" stroke-width="1"/>
<circle cx="1271.84" cy="1595.18" r="2.50" fill="#ff2020" stroke="none" stroke-width="1"/>
<circle cx="1281.33" cy="1472.52" r="2.50" fill="#ff2020" stroke="none" stroke-width="1"/>
<circle cx="1284.48" cy="1481.63" r="2.50" fill="#ff2020" stroke="none" stroke-width="1"/>
<circle cx="1287.63" cy="1493.32" r="2.50" fill="#ff2020" stroke="none" stroke-width="1"/>
<circle cx="1290.78" cy="1497.28" r="2.50" fill="#ff2020" stroke="none" stroke-width="1"/>
<circle cx="1293.94" cy="1507.20" r="2.50" fill="#ff2020" stroke="none" stroke-width="1"/>
<circle cx="1297.09" cy="1510.35" r="2.50" fill="#ff2020" stroke="none" stroke-width="1"/>
<circle cx="1300.24" cy="1516.52" r="2.50" fill="#ff2020" stroke="none" stroke-width="1"/>
<circle cx="1303.40" cy="1516.07" r="2.50" fill="#ff2020" stroke="none" stroke-width="1"/>
<circle cx="1306.55" cy="1519.30" r="2.50" fill="#ff2020" stroke="none" stroke-width="1"/>
<circle cx="1309.70" cy="1519.35" r="2.50" fill="#ff2020" stroke="none" stroke-width="1"/>
<circle cx="1312.85" cy="1521.31" r="2.50" fill="#ff2020" stroke="none" stroke-width="1"/>
<circle cx="1316.01" cy="1526.14" r="2.50" fill="#ff2020" stroke="none" stroke-width="1"/>
<circle cx="1319.16" cy="1526.58" r="2.50" fill="#ff2020" stroke="none" stroke-width="1"/>
<circle cx="1322.31" cy="1528.21" r="2.50" fill="#ff2020" stroke="none" stroke-width="1"/>
<circle cx="1325.46" cy="1528.88" r="2.50" fill="#ff2020" stroke="none" stroke-width="1"/>
<circle cx="1328.62" cy="1529.88" r="2.50" fill="#ff2020" stroke="none" stroke-width="1"/>
<circle cx="1331.77" cy="1529.15" r="2.50" fill="#ff2020" stroke="none" stroke-width="1"/>
<circle cx="1334.92" cy="1528.06" r="2.50" fill="#ff2020" stroke="none" stroke-width="1"/>
<circle cx="1338.07" cy="1531.90" r="2.50" fill="#ff2020" stroke="none" stroke-width="1"/>
<circle cx="1341.23" cy="1528.76" r="2.50" fill="#ff2020" stroke="none" stroke-width="1"/>
<circle cx="1344.38" cy="1531.17" r="2.50" fill="#ff2020" stroke="none" stroke-width="1"/>
<circle cx="1347.53" cy="1531.86" r="2.50" fill="#ff2020" stroke="none" stroke-width="1"/>
<circle cx="1350.69" cy="1529.61" r="2.50" fill="#ff2020" stroke="none" stroke-width="1"/>
<circle cx="1353.84" cy="1532.00" r="2.50" fill="#ff2020" stroke="none" stroke-width="1"/>
<circle cx="1356.99" cy="1533.44" r="2.50" fill="#ff2020" stroke="none" stroke-width="1"/>
<circle cx="1360.14" cy="1533.07" r="2.50" fill="#ff2020" stroke="none" stroke-width="1"/>
<circle cx="1363.30" cy="1532.39" r="2.50" fill="#ff2020" stroke="none" stroke-width="1"/>
<circle cx="1366.45" cy="1536.47" r="2.50" fill="#ff2020" stroke="none" stroke-width="1"/>
<circle cx="1369.60" cy="1531.98" r="2.50" fill="#ff2020" stroke="none" stroke-width="1"/>
<circle cx="1372.75" cy="1537.73" r="2.50" fill="#ff2020" stroke="none" stroke-width="1"/>
<circle cx="1375.91" cy="1534.18" r="2.50" fill="#ff2020" stroke="none" stroke-width="1"/>
<circle cx="1379.06" cy="1533.92" r="2.50" fill="#ff2020" stroke="none" stroke-width="1"/>
<circle cx="1382.21" cy="1538.72" r="2.50" fill="#ff2020" stroke="none" stroke-width="1"/>
<circle cx="1385.36" cy="1534.77" r="2.50" fill="#ff2020" stroke="none" stroke-width="1"/>
<circle cx="1388.52" cy="1537.35" r="2.50" fill="#ff2020" stroke="none" stroke-width="1"/>
<circle cx="1391.67" cy="1536.46" r="2.50" fill="#ff2020" stroke="none" stroke-width="1"/>
<circle cx="1394.82" cy="1539.85" r="2.50" fill="#ff2020" stroke="none" stroke-width="1"/>
<circle cx="1397.98" cy="1539.91" r="2.50" fill="#ff2020" stroke="none" stroke-width="1"/>
<circle cx="1401.13" cy="1539.44" r="2.50" fill="#ff2020" stroke="none" stroke-width="1"/>
<circle cx="1404.28" cy="1535.47" r="2.50" fill="#ff2020" stroke="none" stroke-width="1"/>
<circle cx="1407.43" cy="1539.89" r="2.50" fill="#ff2020" stroke="none" stroke-width="1"/>
<circle cx="1410.59" cy="1537.10" r="2.50" fill="#ff2020" stroke="none" stroke-width="1"/>
<circle cx="1413.74" cy="1536.41" r="2.50" fill="#ff2020" stroke="none" stroke-width="1"/>
<circle cx="1416.89" cy="1536.61" r="2.50" fill="#ff2020" stroke="none" stroke-width="1"/>
<circle cx="1420.04" cy="1540.16" r="2.50" fill="#ff2020" stroke="none" stroke-width="1"/>
<circle cx="1423.20" cy="1540.37" r="2.50" fill="#ff2020" stroke="none" stroke-width="1"/>
<circle cx="1426.35" cy="1539.71" r="2.50" fill="#ff2020" stroke="none" stroke-width="1"/>
<circle cx="1429.50" cy="1538.60" r="2.50" fill="#ff2020" stroke="none" stroke-width="1"/>
<circle cx="1432.65" cy="1542.52" r="2.50" fill="#ff2020" stroke="none" stroke-width="1"/>
<circle cx="1435.81" cy="1539.28" r="2.50" fill="#ff2020" stroke="none" stroke-width="1"/>
<circle cx="1438.96" cy="1539.29" r="2.50" fill="#ff2020" stroke="none" stroke-width="1"/>
<circle cx="1442.11" cy="1539.48" r="2.50" fill="#ff2020" stroke="none" stroke-width="1"/>
<circle cx="1445.27" cy="1544.53" r="2.50" fill="#ff2020" stroke="none" stroke-width="1"/>
<circle cx="1448.42" cy="1540.08" r="2.50" fill="#ff2020" stroke="none" stroke-width="1"/>
<circle cx="1451.57" cy="1545.30" r="2.50" fill="#ff2020" stroke="none" stroke-width="1"/>
<circle cx="1454.72" cy="1544.47" r="2.50" fill="#ff2020" stroke="none" stroke-width="1"/>
<circle cx="1457.88" cy="1543.53" r="2.50" fill="#ff2020" stroke="none" stroke-width="1"/>
<circle cx="1461.03" cy="1542.38" r="2.50" fill="#ff2020" stroke="none" stroke-width="1"/>
<circle cx="1464.18" cy="1546.09" r="2.50" fill="#ff2020" stroke="none" stroke-width="1"/>
<circle cx="1467.33" cy="1543.42" r="2.50" fill="#ff2020" stroke="none" stroke-width="1"/>
<line x1="1183.21" y1="1589.86" x2="1183.21" y2="1593.16" stroke="#2020ff" stroke-width="1.2"/>
<line x1="1181.41" y1="1589.86" x2="1185.01" y2="1589.86" stroke="#2020ff" stroke-width="1.2"/>
<line x1="1181.41" y1="1593.16" x2="1185.01" y2="1593.16" stroke="#2020ff" stroke-width="1.2"/>
<line x1="1186.26" y1="1589.71" x2="1186.26" y2="1595.29" stroke="#2020ff" stroke-width="1.2"/>
<line x1="1184.46" y1="1589.71" x2="1188.06" y2="1589.71" stroke="#2020ff" stroke-width="1.2"/>
<line x1="1184.46" y1="1595.29" x2="1188.06" y2="1595.29" stroke="#2020ff" stroke-width="1.2"/>
<line x1="1189.32" y1="1590.25" x2="1189.32" y2="1595.01" stroke="#2020ff" stroke-width="1.2"/>
<line x1="1187.52" y1="1590.25" x2="1191.12" y2="1590.25" stroke="#2020ff" stroke-width="1.2"/>
<line x1="1187.52" y1="1595.01" x2="1191.12" y2="1595.01" stroke="#2020ff" stroke-width="1.2"/>
<line x1="1192.38" y1="1591.25" x2="1192.38" y2="1595.32" stroke="#2020ff" stroke-width="1.2"/>
<line x1="1190.58" y1="1591.25" x2="1194.18" y2="1591.25" stroke="#2020ff" stroke-width="1.2"/>
<line x1="1190.58" y1="1595.32" x2="1194.18" y2="1595.32" stroke="#2020ff" stroke-width="1.2"/>
<line x1="1195.43" y1="1590.64" x2="1195.43" y2="1596.95" stroke="#2020ff" stroke-width="1.2"/>
<line x1="1193.63" y1="1590.64" x2="1197.23" y2="1590.64" stroke="#2020ff" stroke-width="1.2"/>
<line x1="1193.63" y1="1596.95" x2="1197.23" y2="1596.95" stroke="#2020ff" stroke-width="1.2"/>
<line x1="1198.49" y1="1590.42" x2="1198.49" y2="1596.94" stroke="#2020ff" stroke-width="1.2"/>
<line x1="1196.69" y1="1590.42" x2="1200.29" y2="1590.42" stroke="#2020ff" stroke-width="1.2"/>
<line x1="1196.69" y1="1596.94" x2="1200.29" y2="1596.94" stroke="#2020ff" stroke-width="1.2"/>
<line x1="1201.55" y1="1590.45" x2="1201.55" y2="1593.25" stroke="#2020ff" stroke-width="1.2"/>
<line x1="1199.75" y1="1590.45" x2="1203.35" y2="1590.45" stroke="#2020ff" stroke-width="1.2"/>
<line x1="1199.75" y1="1593.25" x2="1203.35" y2="1593.25" stroke="#2020ff" stroke-width="1.2"/>
<line x1="1204.60" y1="1588.29" x2="1204.60" y2="1593.46" stroke="#2020ff" stroke-width="1.2"/>
<line x1="1202.80" y1="1588.29" x2="1206.40" y2="1588.29" stroke="#2020ff" stroke-width="1.2"/>
<line x1="1202.80" y1="1593.46" x2="1206.40" y2="1593.46" stroke="#2020ff" stroke-width="1.2"/>
<line x1="1207.66" y1="1592.07" x2="1207.66" y2="1596.06" stroke="#2020ff" stroke-width="1.2"/>
<line x1="1205.86" y1="1592.07" x2="1209.46" y2="1592.07" stroke="#2020ff" stroke-width="1.2"/>
<line x1="1205.86" y1="1596.06" x2="1209.46" y2="1596.06" stroke="#2020ff" stroke-width="1.2"/>
<line x1="1210.71" y1="1591.12" x2="1210.71" y2="1598.13" stroke="#2020ff" stroke-width="1.2"/>
<line x1="1208.91" y1="1591.12" x2="1212.51" y2="1591.12" stroke="#2020ff" stroke-width="1.2"/>
<line x1="1208.91" y1="1598.13" x2="1212.51" y2="1598.13" stroke="#2020ff" stroke-width="1.2"/>
<line x1="1213.77" y1="1588.19" x2="1213.77" y2="1594.50" stroke="#2020ff" stroke-width="1.2"/>
<line x1="1211.97" y1="1588.19" x2="1215.57" y2="1588.19" stroke="#2020ff" stroke-width="1.2"/>
<line x1="1211.97" y1="1594.50" x2="1215.57" y2="1594.50" stroke="#2020ff" stroke-width="1.2"/>
<line x1="1216.83" y1="1591.21" x2="1216.83" y2="1595.07" stroke="#2020ff" stroke-width="1.2"/>
<line x1="1215.03" y1="1591.21" x2="1218.63" y2="1591.21" stroke="#2020ff" stroke-width="1.2"/>
<line x1="1215.03" y1="1595.07" x2="1218.63" y2="1595.07" stroke="#2020ff" stroke-width="1.2"/>
<line x1="1219.88" y1="1591.77" x2="1219.88" y2="1595.73" stroke="#2020ff" stroke-width="1.2"/>
<line x1="1218.08" y1="1591.77" x2="1221.68" y2="1591.77" stroke="#2020ff" stroke-width="1.2"/>
<line x1="1218.08" y1="1595.73" x2="1221.68" y2="1595.73" stroke="#2020ff" stroke-width="1.2"/>
<line x1="1222.94" y1="1592.79" x2="1222.94" y2="1596.24" stroke="#2020ff" stroke-width="1.2"/>
<line x1="1221.14" y1="1592.79" x2="1224.74" y2="1592.79" stroke="#2020ff" stroke-width="1.2"/>
<line x1="1221.14" y1="1596.24" x2="1224.74" y2="1596.24" stroke="#2020ff" stroke-width="1.2"/>
<line x1="1225.99" y1="1589.73" x2="1225.99" y2="1596.98" stroke="#2020ff" stroke-width="1.2"/>
<line x1="1224.19" y1="1589.73" x2="1227.79" y2="1589.73" stroke="#2020ff" stroke-width="1.2"/>
<line x1="1224.19" y1="1596.98" x2="1227.79" y2="1596.98" stroke="#2020ff" stroke-width="1.2"/>
<line x1="1229.05" y1="1590.61" x2="1229.05" y2="1594.69" stroke="#2020ff" stroke-width="1.2"/>
<line x1="1227.25" y1="1590.61" x2="1230.85" y2="1590.61" stroke="#2020ff" stroke-width="1.2"/>
<line x1="1227.25" y1="1594.69" x2="1230.85" y2="1594.69" stroke="#2020ff" stroke-width="1.2"/>
<line x1="1232.11" y1="1591.39" x2="1232.11" y2="1596.91" stroke="#2020ff" stroke-width="1.2"/>
<line x1="1230.31" y1="1591.39" x2="1233.91" y2="1591.39" stroke="#2020ff" stroke-width="1.2"/>
<line x1="1230.31" y1="1596.91" x2="1233.91" y2="1596.91" stroke="#2020ff" stroke-width="1.2"/>
<line x1="1235.16" y1="1591.96" x2="1235.16" y2="1596.87" stroke="#2020ff" stroke-width="1.2"/>
<line x1="1233.36" y1="1591.96" x2="1236.96" y2="1591.96" stroke="#2020ff" stroke-width="1.2"/>
<line x1="1233.36" y1="1596.87" x2="1236.96" y2="1596.87" stroke="#2020ff" stroke-width="1.2"/>
<line x1="1238.22" y1="1593.06" x2="1238.22" y2="1598.74" stroke="#2020ff" stroke-width="1.2"/>
<line x1="1236.42" y1="1593.06" x2="1240.02" y2="1593.06" stroke="#2020ff" stroke-width="1.2"/>
<line x1="1236.42" y1="1598.74" x2="1240.02" y2="1598.74" stroke="#2020ff" stroke-width="1.2"/>
<line x1="1241.28" y1="1590.15" x2="1241.28" y2="1595.65" stroke="#2020ff" stroke-width="1.2"/>
<line x1="1239.48" y1="1590.15" x2="1243.08" y2="1590.15" stroke="#2020ff" stroke-width="1.2"/>
<line x1="1239.48" y1="1595.65" x2="1243.08" y2="1595.65" stroke="#2020ff" stroke-width="1.2"/>
<line x1="1244.33" y1="1593.20" x2="1244.33" y2="1599.34" stroke="#2020ff" stroke-width="1.2"/>
<line x1="1242.53" y1="1593.20" x2="1246.13" y2="1593.20" stroke="#2020ff" stroke-width="1.2"/>
<line x1="1242.53" y1="1599.34" x2="1246.13" y2="1599.34" stroke="#2020ff" stroke-width="1.2"/>
<line x1="1247.39" y1="1593.09" x2="1247.39" y2="1596.37" stroke="#2020ff" stroke-width="1.2"/>
<line x1="1245.59" y1="1593.09" x2="1249.19" y2="1593.09" stroke="#2020ff" stroke-width="1.2"/>
<line x1="1245.59" y1="1596.37" x2="1249.19" y2="1596.37" stroke="#2020ff" stroke-width="1.2"/>
<line x1="1250.44" y1="1590.51" x2="1250.44" y2="1596.72" stroke="#2020ff" stroke-width="1.2"/>
<line x1="1248.64" y1="1590.51" x2="1252.24" y2="1590.51" stroke="#2020ff" stroke-width="1.2"/>
<line x1="1248.64" y1="1596.72" x2="1252.24" y2="1596.72" stroke="#2020ff" stroke-width="1.2"/>
<line x1="1253.50" y1="1594.29" x2="1253.50" y2="1598.40" stroke="#2020ff" stroke-width="1.2"/>
<line x1="1251.70" y1="1594.29" x2="1255.30" y2="1594.29" stroke="#2020ff" stroke-width="1.2"/>
<line x1="1251.70" y1="1598.40" x2="1255.30" y2="1598.40" stroke="#2020ff" stroke-width="1.2"/>
<line x1="1256.56" y1="1591.71" x2="1256.56" y2="1596.88" stroke="#2020ff" stroke-width="1.2"/>
<line x1="1254.76" y1="1591.71" x2="1258.36" y2="1591.71" stroke="#2020ff" stroke-width="1.2"/>
<line x1="1254.76" y1="1596.88" x2="1258.36" y2="1596.88" stroke="#2020ff" stroke-width="1.2"/>
<line x1="1259.61" y1="1591.51" x2="1259.61" y2="1595.78" stroke="#2020ff" stroke-width="1.2"/>
<line x1="1257.81" y1="1591.51" x2="1261.41" y2="1591.51" stroke="#2020ff" stroke-width="1.2"/>
<line x1="1257.81" y1="1595.78" x2="1261.41" y2="1595.78" stroke="#2020ff" stroke-width="1.2"/>
<line x1="1262.67" y1="1592.91" x2="1262.67" y2="1597.00" stroke="#2020ff" stroke-width="1.2"/>
<line x1="1260.87" y1="1592.91" x2="1264.47" y2="1592.91" stroke="#2020ff" stroke-width="1.2"/>
<line x1="1260.87" y1="1597.00" x2="1264.47" y2="1597.00" stroke="#2020ff" stroke-width="1.2"/>
<line x1="1265.72" y1="1591.95" x2="1265.72" y2="1597.10" stroke="#2020ff" stroke-width="1.2"/>
<line x1="1263.92" y1="1591.95" x2="1267.52" y2="1591.95" stroke="#2020ff" stroke-width="1.2"/>
<line x1="1263.92" y1="1597.10" x2="1267.52" y2="1597.10" stroke="#2020ff" stroke-width="1.2"/>
<line x1="1268.78" y1="1594.73" x2="1268.78" y2="1599.59" stroke="#2020ff" stroke-width="1.2"/>
<line x1="1266.98" y1="1594.73" x2="1270.58" y2="1594.73" stroke="#2020ff" stroke-width="1.2"/>
<line x1="1266.98" y1="1599.59" x2="1270.58" y2="1599.59" stroke="#2020ff" stroke-width="1.2"/>
<line x1="1271.84" y1="1593.91" x2="1271.84" y2="1598.30" stroke="#2020ff" stroke-width="1.2"/>
<line x1="1270.04" y1="1593.91" x2="1273.64" y2="1593.91" stroke="#2020ff" stroke-width="1.2"/>
<line x1="1270.04" y1="1598.30" x2="1273.64" y2="1598.30" stroke="#2020ff" stroke-width="1.2"/>
<line x1="1281.33" y1="1469.71" x2="1281.33" y2="1483.82" stroke="#2020ff" stroke-width="1.2"/>
<line x1="1279.53" y1="1469.71" x2="1283.13" y2="1469.71" stroke="#2020ff" stroke-width="1.2"/>
<line x1="1279.53" y1="1483.82" x2="1283.13" y2="1483.82" stroke="#2020ff" stroke-width="1.2"/>
<line x1="1284.48" y1="1479.77" x2="1284.48" y2="1492.47" stroke="#2020ff" stroke-width="1.2"/>
<line x1="1282.68" y1="1479.77" x2="1286.28" y2="1479.77" stroke="#2020ff" stroke-width="1.2"/>
<line x1="1282.68" y1="1492.47" x2="1286.28" y2="1492.47" stroke="#2020ff" stroke-width="1.2"/>
<line x1="1287.63" y1="1497.34" x2="1287.63" y2="1504.98" stroke="#2020ff" stroke-width="1.2"/>
<line x1="1285.83" y1="1497.34" x2="1289.43" y2="1497.34" stroke="#2020ff" stroke-width="1.2"/>
<line x1="1285.83" y1="1504.98" x2="1289.43" y2="1504.98" stroke="#2020ff" stroke-width="1.2"/>
<line x1="1290.78" y1="1505.16" x2="1290.78" y2="1514.77" stroke="#2020ff" stroke-width="1.2"/>
<line x1="1288.98" y1="1505.16" x2="1292.58" y2="1505.16" stroke="#2020ff" stroke-width="1.2"/>
<line x1="1288.98" y1="1514.77" x2="1292.58" y2="1514.77" stroke="#2020ff" stroke-width="1.2"/>
<line x1="1293.94" y1="1511.13" x2="1293.94" y2="1522.60" stroke="#2020ff" stroke-width="1.2"/>
<line x1="1292.14" y1="1511.13" x2="1295.74" y2="1511.13" stroke="#2020ff" stroke-width="1.2"/>
<line x1="1292.14" y1="1522.60" x2="1295.74" y2="1522.60" stroke="#2020ff" stroke-width="1.2"/>
<line x1="1297.09" y1="1514.30" x2="1297.09" y2="1529.98" stroke="#2020ff" stroke-width="1.2"/>
<line x1="1295.29" y1="1514.30" x2="1298.89" y2="1514.30" stroke="#2020ff" stroke-width="1.2"/>
<line x1="1295.29" y1="1529.98" x2="1298.89" y2="1529.98" stroke="#2020ff" stroke-width="1.2"/>
<line x1="1300.24" y1="1518.04" x2="1300.24" y2="1533.46" stroke="#2020ff" stroke-width="1.2"/>
<line x1="1298.44" y1="1518.04" x2="1302.04" y2="1518.04" stroke="#2020ff" stroke-width="1.2"/>
<line x1="1298.44" y1="1533.46" x2="1302.04" y2="1533.46" stroke="#2020ff" stroke-width="1.2"/>
<line x1="1303.40" y1="1526.17" x2="1303.40" y2="1538.46" stroke="#2020ff" stroke-width="1.2"/>
<line x1="1301.60" y1="1526.17" x2="1305.20" y2="1526.17" stroke="#2020ff" stroke-width="1.2"/>
<line x1="1301.60" y1="1538.46" x2="1305.20" y2="1538.46" stroke="#2020ff" stroke-width="1.2"/>
<line x1="1306.55" y1="1531.33" x2="1306.55" y2="1538.77" stroke="#2020ff" stroke-width="1.2"/>
<line x1="1304.75" y1="1531.33" x2="1308.35" y2="1531.33" stroke="#2020ff" stroke-width="1.2"/>
<line x1="1304.75" y1="1538.77" x2="1308.35" y2="1538.77" stroke="#2020ff" stroke-width="1.2"/>
<line x1="1309.70" y1="1529.43" x2="1309.70" y2="1543.84" stroke="#2020ff" stroke-width="1.2"/>
<line x1="1307.90" y1="1529.43" x2="1311.50" y2="1529.43" stroke="#2020ff" stroke-width="1.2"/>
<line x1="1307.90" y1="1543.84" x2="1311.50" y2="1543.84" stroke="#2020ff" stroke-width="1.2"/>
<line x1="1312.85" y1="1534.86" x2="1312.85" y2="1546.07" stroke="#2020ff" stroke-width="1.2"/>
<line x1="1311.05" y1="1534.86" x2="1314.65" y2="1534.86" stroke="#2020ff" stroke-width="1.2"/>
<line x1="1311.05" y1="1546.07" x2="1314.65" y2="1546.07" stroke="#2020ff" stroke-width="1.2"/>
<line x1="1316.01" y1="1536.74" x2="1316.01" y2="1549.31" stroke="#2020ff" stroke-width="1.2"/>
<line x1="1314.21" y1="1536.74" x2="1317.81" y2="1536.74" stroke="#2020ff" stroke-width="1.2"/>
<line x1="1314.21" y1="1549.31" x2="1317.81" y2="1549.31" stroke="#2020ff" stroke-width="1.2"/>
<line x1="1319.16" y1="1537.08" x2="1319.16" y2="1550.85" stroke="#2020ff" stroke-width="1.2"/>
<line x1="1317.36" y1="1537.08" x2="1320.96" y2="1537.08" stroke="#2020ff" stroke-width="1.2"/>
<line x1="1317.36" y1="1550.85" x2="1320.96" y2="1550.85" stroke="#2020ff" stroke-width="1.2"/>
<line x1="1322.31" y1="1540.05" x2="1322.31" y2="1553.13" stroke="#2020ff" stroke-width="1.2"/>
<line x1="1320.51" y1="1540.05" x2="1324.11" y2="1540.05" stroke="#2020ff" stroke-width="1.2"/>
<line x1="1320.51" y1="1553.13" x2="1324.11" y2="1553.13" stroke="#2020ff" stroke-width="1.2"/>
<line x1="1325.46" y1="1541.14" x2="1325.46" y2="1552.85" stroke="#2020ff" stroke-width="1.2"/>
<line x1="1323.66" y1="1541.14" x2="1327.26" y2="1541.14" stroke="#2020ff" stroke-width="1.2"/>
<line x1="1323.66" y1="1552.85" x2="1327.26" y2="1552.85" stroke="#2020ff" stroke-width="1.2"/>
<line x1="1328.62" y1="1537.66" x2="1328.62" y2="1553.29" stroke="#2020ff" stroke-width="1.2"/>
<line x1="1326.82" y1="1537.66" x2="1330.42" y2="1537.66" stroke="#2020ff" stroke-width="1.2"/>
<line x1="1326.82" y1="1553.29" x2="1330.42" y2="1553.29" stroke="#2020ff" stroke-width="1.2"/>
<line x1="1331.77" y1="1541.39" x2="1331.77" y2="1552.22" stroke="#2020ff" stroke-width="1.2"/>
<line x1="1329.97" y1="1541.39" x2="1333.57" y2="1541.39" stroke="#2020ff" stroke-width="1.2"/>
<line x1="1329.97" y1="1552.22" x2="1333.57" y2="1552.22" stroke="#2020ff" stroke-width="1.2"/>
<line x1="1334.92" y1="1544.08" x2="1334.92" y2="1554.97" stroke="#2020ff" stroke-width="1.2"/>
<line x1="1333.12" y1="1544.08" x2="1336.72" y2="1544.08" stroke="#2020ff" stroke-width="1.2"/>
<line x1="1333.12" y1="1554.97" x2="1336.72" y2="1554.97" stroke="#2020ff" stroke-width="1.2"/>
<line x1="1338.07" y1="1543.76" x2="1338.07" y2="1558.85" stroke="#2020ff" stroke-width="1.2"/>
<line x1="1336.27" y1="1543.76" x2="1339.87" y2="1543.76" stroke="#2020ff" stroke-width="1.2"/>
<line x1="1336.27" y1="1558.85" x2="1339.87" y2="1558.85" stroke="#2020ff" stroke-width="1.2"/>
<line x1="1341.23" y1="1548.69" x2="1341.23" y2="1557.79" stroke="#2020ff" stroke-width="1.2"/>
<line x1="1339.43" y1="1548.69" x2="1343.03" y2="1548.69" stroke="#2020ff" stroke-width="1.2"/>
<line x1="1339.43" y1="1557.79" x2="1343.03" y2="1557.79" stroke="#2020ff" stroke-width="1.2"/>
<line x1="1344.38" y1="1550.85" x2="1344.38" y2="1560.86" stroke="#2020ff" stroke-width="1.2"/>
<line x1="1342.58" y1="1550.85" x2="1346.18" y2="1550.85" stroke="#2020ff" stroke-width="1.2"/>
<line x1="1342.58" y1="1560.86" x2="1346.18" y2="1560.86" stroke="#2020ff" stroke-width="1.2"/>
<line x1="1347.53" y1="1549.22" x2="1347.53" y2="1564.11" stroke="#2020ff" stroke-width="1.2"/>
<line x1="1345.73" y1="1549.22" x2="1349.33" y2="1549.22" stroke="#2020ff" stroke-width="1.2"/>
<line x1="1345.73" y1="1564.11" x2="1349.33" y2="1564.11" stroke="#2020ff" stroke-width="1.2"/>
<line x1="1350.69" y1="1552.03" x2="1350.69" y2="1559.94" stroke="#2020ff" stroke-width="1.2"/>
<line x1="1348.89" y1="1552.03" x2="1352.49" y2="1552.03" stroke="#2020ff" stroke-width="1.2"/>
<line x1="1348.89" y1="1559.94" x2="1352.49" y2="1559.94" stroke="#2020ff" stroke-width="1.2"/>
<line x1="1353.84" y1="1549.77" x2="1353.84" y2="1564.71" stroke="#2020ff" stroke-width="1.2"/>
<line x1="1352.04" y1="1549.77" x2="1355.64" y2="1549.77" stroke="#2020ff" stroke-width="1.2"/>
<line x1="1352.04" y1="1564.71" x2="1355.64" y2="1564.71" stroke="#2020ff" stroke-width="1.2"/>
<line x1="1356.99" y1="1554.37" x2="1356.99" y2="1568.02" stroke="#2020ff" stroke-width="1.2"/>
<line x1="1355.19" y1="1554.37" x2="1358.79" y2="1554.37" stroke="#2020ff" stroke-width="1.2"/>
<line x1="1355.19" y1="1568.02" x2="1358.79" y2="1568.02" stroke="#2020ff" stroke-width="1.2"/>
<line x1="1360.14" y1="1555.28" x2="1360.14" y2="1566.54" stroke="#2020ff" stroke-width="1.2"/>
<line x1="1358.34" y1="1555.28" x2="1361.94" y2="1555.28" stroke="#2020ff" stroke-width="1.2"/>
<line x1="1358.34" y1="1566.54" x2="1361.94" y2="1566.54" stroke="#2020ff" stroke-width="1.2"/>
<line x1="1363.30" y1="1557.67" x2="1363.30" y2="1567.59" stroke="#2020ff" stroke-width="1.2"/>
<line x1="1361.50" y1="1557.67" x2="1365.10" y2="1557.67" stroke="#2020ff" stroke-width="1.2"/>
<line x1="1361.50" y1="1567.59" x2="1365.10" y2="1567.59" stroke="#2020ff" stroke-width="1.2"/>
<line x1="1366.45" y1="1557.44" x2="1366.45" y2="1571.88" stroke="#2020ff" stroke-width="1.2"/>
<line x1="1364.65" y1="1557.44" x2="1368.25" y2="1557.44" stroke="#2020ff" stroke-width="1.2"/>
<line x1="1364.65" y1="1571.88" x2="1368.25" y2="1571.88" stroke="#2020ff" stroke-width="1.2"/>
<line x1="1369.60" y1="1558.65" x2="1369.60" y2="1574.28" stroke="#2020ff" stroke-width="1.2"/>
<line x1="1367.80" y1="1558.65" x2="1371.40" y2="1558.65" stroke="#2020ff" stroke-width="1.2"/>
<line x1="1367.80" y1="1574.28" x2="1371.40" y2="1574.28" stroke="#2020ff" stroke-width="1.2"/>
<line x1="1372.75" y1="1563.39" x2="1372.75" y2="1572.00" stroke="#2020ff" stroke-width="1.2"/>
<line x1="1370.95" y1="1563.39" x2="1374.55" y2="1563.39" stroke="#2020ff" stroke-width="1.2"/>
<line x1="1370.95" y1="1572.00" x2="1374.55" y2="1572.00" stroke="#2020ff" stroke-width="1.2"/>
<line x1="1375.91" y1="1565.13" x2="1375.91" y2="1576.81" stroke="#2020ff" stroke-width="1.2"/>
<line x1="1374.11" y1="1565.13" x2="1377.71" y2="1565.13" stroke="#2020ff" stroke-width="1.2"/>
<line x1="1374.11" y1="1576.81" x2="1377.71" y2="1576.81" stroke="#2020ff" stroke-width="1.2"/>
<line x1="1379.06" y1="1564.43" x2="1379.06" y2="1576.75" stroke="#2020ff" stroke-width="1.2"/>
<line x1="1377.26" y1="1564.43" x2="1380.86" y2="1564.43" stroke="#2020ff" stroke-width="1.2"/>
<line x1="1377.26" y1="1576.75" x2="1380.86" y2="1576.75" stroke="#2020ff" stroke-width="1.2"/>
<line x1="1382.21" y1="1567.78" x2="1382.21" y2="1579.63" stroke="#2020ff" stroke-width="1.2"/>
<line x1="1380.41" y1="1567.78" x2="1384.01" y2="1567.78" stroke="#2020ff" stroke-width="1.2"/>
<line x1="1380.41" y1="1579.63" x2="1384.01" y2="1579.63" stroke="#2020ff" stroke-width="1.2"/>
<line x1="1385.36" y1="1568.79" x2="1385.36" y2="1579.12" stroke="#2020ff" stroke-width="1.2"/>
<line x1="1383.56" y1="1568.79" x2="1387.16" y2="1568.79" stroke="#2020ff" stroke-width="1.2"/>
<line x1="1383.56" y1="1579.12" x2="1387.16" y2="1579.12" stroke="#2020ff" stroke-width="1.2"/>
<line x1="1388.52" y1="1569.48" x2="1388.52" y2="1578.19" stroke="#2020ff" stroke-width="1.2"/>
<line x1="1386.72" y1="1569.48" x2="1390.32" y2="1569.48" stroke="#2020ff" stroke-width="1.2"/>
<line x1="1386.72" y1="1578.19" x2="1390.32" y2="1578.19" stroke="#2020ff" stroke-width="1.2"/>
<line x1="1391.67" y1="1568.87" x2="1391.67" y2="1581.52" stroke="#2020ff" stroke-width="1.2"/>
<line x1="1389.87" y1="1568.87" x2="1393.47" y2="1568.87" stroke="#2020ff" stroke-width="1.2"/>
<line x1="1389.87" y1="1581.52" x2="1393.47" y2="1581.52" stroke="#2020ff" stroke-width="1.2"/>
<line x1="1394.82" y1="1570.22" x2="1394.82" y2="1584.94" stroke="#2020ff" stroke-width="1.2"/>
<line x1="1393.02" y1="1570.22" x2="1396.62" y2="1570.22" stroke="#2020ff" stroke-width="1.2"/>
<line x1="1393.02" y1="1584.94" x2="1396.62" y2="1584.94" stroke="#2020ff" stroke-width="1.2"/>
<line x1="1397.98" y1="1571.21" x2="1397.98" y2="1579.14" stroke="#2020ff" stroke-width="1.2"/>
<line x1="1396.18" y1="1571.21" x2="1399.78" y2="1571.21" stroke="#2020ff" stroke-width="1.2"/>
<line x1="1396.18" y1="1579.14" x2="1399.78" y2="1579.14" stroke="#2020ff" stroke-width="1.2"/>
<line x1="1401.13" y1="1572.40" x2="1401.13" y2="1581.80" stroke="#2020ff" stroke-width="1.2"/>
<line x1="1399.33" y1="1572.40" x2="1402.93" y2="1572.40" stroke="#2020ff" stroke-width="1.2"/>
<line x1="1399.33" y1="1581.80" x2="1402.93" y2="1581.80" stroke="#2020ff" stroke-width="1.2"/>
<line x1="1404.28" y1="1570.59" x2="1404.28" y2="1585.38" stroke="#2020ff" stroke-width="1.2"/>
<line x1="1402.48" y1="1570.59" x2="1406.08" y2="1570.59" stroke="#2020ff" stroke-width="1.2"/>
<line x1="1402.48" y1="1585.38" x2="1406.08" y2="1585.38" stroke="#2020ff" stroke-width="1.2"/>
<line x1="1407.43" y1="1573.87" x2="1407.43" y2="1588.40" stroke="#2020ff" stroke-width="1.2"/>
<line x1="1405.63" y1="1573.87" x2="1409.23" y2="1573.87" stroke="#2020ff" stroke-width="1.2"/>
<line x1="1405.63" y1="1588.40" x2="1409.23" y2="1588.40" stroke="#2020ff" stroke-width="1.2"/>
<line x1="1410.59" y1="1572.45" x2="1410.59" y2="1585.82" stroke="#2020ff" stroke-width="1.2"/>
<line x1="1408.79" y1="1572.45" x2="1412.39" y2="1572.45" stroke="#2020ff" stroke-width="1.2"/>
<line x1="1408.79" y1="1585.82" x2="1412.39" y2="1585.82" stroke="#2020ff" stroke-width="1.2"/>
<line x1="1413.74" y1="1577.17" x2="1413.74" y2="1584.71" stroke="#2020ff" stroke-width="1.2"/>
<line x1="1411.94" y1="1577.17" x2="1415.54" y2="1577.17" stroke="#2020ff" stroke-width="1.2"/>
<line x1="1411.94" y1="1584.71" x2="1415.54" y2="1584.71" stroke="#2020ff" stroke-width="1.2"/>
<line x1="1416.89" y1="1572.51" x2="1416.89" y2="1586.41" stroke="#2020ff" stroke-width="1.2"/>
<line x1="1415.09" y1="1572.51" x2="1418.69" y2="1572.51" stroke="#2020ff" stroke-width="1.2"/>
<line x1="1415.09" y1="1586.41" x2="1418.69" y2="1586.41" stroke="#2020ff" stroke-width="1.2"/>
<line x1="1420.04" y1="1572.74" x2="1420.04" y2="1588.98" stroke="#2020ff" stroke-width="1.2"/>
<line x1="1418.24" y1="1572.74" x2="1421.84" y2="1572.74" stroke="#2020ff" stroke-width="1.2"/>
<line x1="1418.24" y1="1588.98" x2="1421.84" y2="1588.98" stroke="#2020ff" stroke-width="1.2"/>
<line x1="1423.20" y1="1571.48" x2="1423.20" y2="1587.91" stroke="#2020ff" stroke-width="1.2"/>
<line x1="1421.40" y1="1571.48" x2="1425.00" y2="1571.48" stroke="#2020ff" stroke-width="1.2"/>
<line x1="1421.40" y1="1587.91" x2="1425.00" y2="1587.91" stroke="#2020ff" stroke-width="1.2"/>
<line x1="1426.35" y1="1574.06" x2="1426.35" y2="1587.77" stroke="#2020ff" stroke-width="1.2"/>
<line x1="1424.55" y1="1574.06" x2="1428.15" y2="1574.06" stroke="#2020ff" stroke-width="1.2"/>
<line x1="1424.55" y1="1587.77" x2="1428.15" y2="1587.77" stroke="#2020ff" stroke-width="1.2"/>
<line x1="1429.50" y1="1576.80" x2="1429.50" y2="1584.55" stroke="#2020ff" stroke-width="1.2"/>
<line x1="1427.70" y1="1576.80" x2="1431.30" y2="1576.80" stroke="#2020ff" stroke-width="1.2"/>
<line x1="1427.70" y1="1584.55" x2="1431.30" y2="1584.55" stroke="#2020ff" stroke-width="1.2"/>
<line x1="1432.65" y1="1575.68" x2="1432.65" y2="1590.68" stroke="#2020ff" stroke-width="1.2"/>
<line x1="1430.85" y1="1575.68" x2="1434.45" y2="1575.68" stroke="#2020ff" stroke-width="1.2"/>
<line x1="1430.85" y1="1590.68" x2="1434.45" y2="1590.68" stroke="#2020ff" stroke-width="1.2"/>
<line x1="1435.81" y1="1577.62" x2="1435.81" y2="1586.93" stroke="#2020ff" stroke-width="1.2"/>
<line x1="1434.01" y1="1577.62" x2="1437.61" y2="1577.62" stroke="#2020ff" stroke-width="1.2"/>
<line x1="1434.01" y1="1586.93" x2="1437.61" y2="1586.93" stroke="#2020ff" stroke-width="1.2"/>
<line x1="1438.96" y1="1575.69" x2="1438.96" y2="1588.89" stroke="#2020ff" stroke-width="1.2"/>
<line x1="1437.16" y1="1575.69" x2="1440.76" y2="1575.69" stroke="#2020ff" stroke-width="1.2"/>
<line x1="1437.16" y1="1588.89" x2="1440.76" y2="1588.89" stroke="#2020ff" stroke-width="1.2"/>
<line x1="1442.11" y1="1574.33" x2="1442.11" y2="1590.33" stroke="#2020ff" stroke-width="1.2"/>
<line x1="1440.31" y1="1574.33" x2="1443.91" y2="1574.33" stroke="#2020ff" stroke-width="1.2"/>
<line x1="1440.31" y1="1590.33" x2="1443.91" y2="1590.33" stroke="#2020ff" stroke-width="1.2"/>
<line x1="1445.27" y1="1578.05" x2="1445.27" y2="1591.86" stroke="#2020ff" stroke-width="1.2"/>
<line x1="1443.47" y1="1578.05" x2="1447.07" y2="1578.05" stroke="#2020ff" stroke-width="1.2"/>
<line x1="1443.47" y1="1591.86" x2="1447.07" y2="1591.86" stroke="#2020ff" stroke-width="1.2"/>
<line x1="1448.42" y1="1578.89" x2="1448.42" y2="1587.42" stroke="#2020ff" stroke-width="1.2"/>
<line x1="1446.62" y1="1578.89" x2="1450.22" y2="1578.89" stroke="#2020ff" stroke-width="1.2"/>
<line x1="1446.62" y1="1587.42" x2="1450.22" y2="1587.42" stroke="#2020ff" stroke-width="1.2"/>
<line x1="1451.57" y1="1578.49" x2="1451.57" y2="1588.47" stroke="#2020ff" stroke-width="1.2"/>
<line x1="1449.77" y1="1578.49" x2="1453.37" y2="1578.49" stroke="#2020ff" stroke-width="1.2"/>
<line x1="1449.77" y1="1588.47" x2="1453.37" y2="1588.47" stroke="#2020ff" stroke-width="1.2"/>
<line x1="1454.72" y1="1576.91" x2="1454.72" y2="1592.60" stroke="#2020ff" stroke-width="1.2"/>
<line x1="1452.92" y1="1576.91" x2="1456.52" y2="1576.91" stroke="#2020ff" stroke-width="1.2"/>
<line x1="1452.92" y1="1592.60" x2="1456.52" y2="1592.60" stroke="#2020ff" stroke-width="1.2"/>
<line x1="1457.88" y1="1579.36" x2="1457.88" y2="1588.03" stroke="#2020ff" stroke-width="1.2"/>
<line x1="1456.08" y1="1579.36" x2="1459.68" y2="1579.36" stroke="#2020ff" stroke-width="1.2"/>
<line x1="1456.08" y1="1588.03" x2="1459.68" y2="1588.03" stroke="#2020ff" stroke-width="1.2"/>
<line x1="1461.03" y1="1577.58" x2="1461.03" y2="1590.46" stroke="#2020ff" stroke-width="1.2"/>
<line x1="1459.23" y1="1577.58" x2="1462.83" y2="1577.58" stroke="#2020ff" stroke-width="1.2"/>
<line x1="1459.23" y1="1590.46" x2="1462.83" y2="1590.46" stroke="#2020ff" stroke-width="1.2"/>
<line x1="1464.18" y1="1580.71" x2="1464.18" y2="1591.80" stroke="#2020ff" stroke-width="1.2"/>
<line x1="1462.38" y1="1580.71" x2="1465.98" y2="1580.71" stroke="#2020ff" stroke-width="1.2"/>
<line x1="1462.38" y1="1591.80" x2="1465.98" y2="1591.80" stroke="#2020ff" stroke-width="1.2"/>
<line x1="1467.33" y1="1582.05" x2="1467.33" y2="1590.82" stroke="#2020ff" stroke-width="1.2"/>
<line x1="1465.53" y1="1582.05" x2="1469.13" y2="1582.05" stroke="#2020ff" stroke-width="1.2"/>
<line x1="1465.53" y1="1590.82" x2="1469.13" y2="1590.82" stroke="#2020ff" stroke-width="1.2"/>
<circle cx="1183.21" cy="1591.51" r="2.60" fill="#101040" stroke="none" stroke-width="1"/>
<circle cx="1186.26" cy="1592.50" r="2.60" fill="#101040" stroke="none" stroke-width="1"/>
<circle cx="1189.32" cy="1592.63" r="2.60" fill="#101040" stroke="none" stroke-width="1"/>
<circle cx="1192.38" cy="1593.28" r="2.60" fill="#101040" stroke="none" stroke-width="1"/>
<circle cx="1195.43" cy="1593.79" r="2.60" fill="#101040" stroke="none" stroke-width="1"/>
<circle cx="1198.49" cy="1593.68" r="2.60" fill="#101040" stroke="none" stroke-width="1"/>
<circle cx="1201.55" cy="1591.85" r="2.60" fill="#101040" stroke="none" stroke-width="1"/>
<circle cx="1204.60" cy="1590.87" r="2.60" fill="#101040" stroke="none" stroke-width="1"/>
<circle cx="1207.66" cy="1594.07" r="2.60" fill="#101040" stroke="none" stroke-width="1"/>
<circle cx="1210.71" cy="1594.62" r="2.60" fill="#101040" stroke="none" stroke-width="1"/>
<circle cx="1213.77" cy="1591.34" r="2.60" fill="#101040" stroke="none" stroke-width="1"/>
<circle cx="1216.83" cy="1593.14" r="2.60" fill="#101040" stroke="none" stroke-width="1"/>
<circle cx="1219.88" cy="1593.75" r="2.60" fill="#101040" stroke="none" stroke-width="1"/>
<circle cx="1222.94" cy="1594.51" r="2.60" fill="#101040" stroke="none" stroke-width="1"/>
<circle cx="1225.99" cy="1593.35" r="2.60" fill="#101040" stroke="none" stroke-width="1"/>
<circle cx="1229.05" cy="1592.65" r="2.60" fill="#101040" stroke="none" stroke-width="1"/>
<circle cx="1232.11" cy="1594.15" r="2.60" fill="#101040" stroke="none" stroke-width="1"/>
<circle cx="1235.16" cy="1594.42" r="2.60" fill="#101040" stroke="none" stroke-width="1"/>
<circle cx="1238.22" cy="1595.90" r="2.60" fill="#101040" stroke="none" stroke-width="1"/>
<circle cx="1241.28" cy="1592.90" r="2.60" fill="#101040" stroke="none" stroke-width="1"/>
<circle cx="1244.33" cy="1596.27" r="2.60" fill="#101040" stroke="none" stroke-width="1"/>
<circle cx="1247.39" cy="1594.73" r="2.60" fill="#101040" stroke="none" stroke-width="1"/>
<circle cx="1250.44" cy="1593.62" r="2.60" fill="#101040" stroke="none" stroke-width="1"/>
<circle cx="1253.50" cy="1596.35" r="2.60" fill="#101040" stroke="none" stroke-width="1"/>
<circle cx="1256.56" cy="1594.30" r="2.60" fill="#101040" stroke="none" stroke-width="1"/>
<circle cx="1259.61" cy="1593.64" r="2.60" fill="#101040" stroke="none" stroke-width="1"/>
<circle cx="1262.67" cy="1594.96" r="2.60" fill="#101040" stroke="none" stroke-width="1"/>
<circle cx="1265.72" cy="1594.52" r="2.60" fill="#101040" stroke="none" stroke-width="1"/>
<circle cx="1268.78" cy="1597.16" r="2.60" fill="#101040" stroke="none" stroke-width="1"/>
<circle cx="1271.84" cy="1596.11" r="2.60" fill="#101040" stroke="none" stroke-width="1"/>
<circle cx="1281.33" cy="1476.77" r="2.60" fill="#101040" stroke="none" stroke-width="1"/>
<circle cx="1284.48" cy="1486.12" r="2.60" fill="#101040" stroke="none" stroke-width="1"/>
<circle cx="1287.63" cy="1501.16" r="2.60" fill="#101040" stroke="none" stroke-width="1"/>
<circle cx="1290.78" cy="1509.96" r="2.60" fill="#101040" stroke="none" stroke-width="1"/>
<circle cx="1293.94" cy="1516.86" r="2.60" fill="#101040" stroke="none" stroke-width="1"/>
<circle cx="1297.09" cy="1522.14" r="2.60" fill="#101040" stroke="none" stroke-width="1"/>
<circle cx="1300.24" cy="1525.75" r="2.60" fill="#101040" stroke="none" stroke-width="1"/>
<circle cx="1303.40" cy="1532.31" r="2.60" fill="#101040" stroke="none" stroke-width="1"/>
<circle cx="1306.55" cy="1535.05" r="2.60" fill="#101040" stroke="none" stroke-width="1"/>
<circle cx="1309.70" cy="1536.63" r="2.60" fill="#101040" stroke="none" stroke-width="1"/>
<circle cx="1312.85" cy="1540.46" r="2.60" fill="#101040" stroke="none" stroke-width="1"/>
<circle cx="1316.01" cy="1543.03" r="2.60" fill="#101040" stroke="none" stroke-width="1"/>
<circle cx="1319.16" cy="1543.97" r="2.60" fill="#101040" stroke="none" stroke-width="1"/>
<circle cx="1322.31" cy="1546.59" r="2.60" fill="#101040" stroke="none" stroke-width="1"/>
<circle cx="1325.46" cy="1547.00" r="2.60" fill="#101040" stroke="none" stroke-width="1"/>
<circle cx="1328.62" cy="1545.48" r="2.60" fill="#101040" stroke="none" stroke-width="1"/>
<circle cx="1331.77" cy="1546.81" r="2.60" fill="#101040" stroke="none" stroke-width="1"/>
<circle cx="1334.92" cy="1549.53" r="2.60" fill="#101040" stroke="none" stroke-width="1"/>
<circle cx="1338.07" cy="1551.31" r="2.60" fill="#101040" stroke="none" stroke-width="1"/>
<circle cx="1341.23" cy="1553.24" r="2.60" fill="#101040" stroke="none" stroke-width="1"/>
<circle cx="1344.38" cy="1555.85" r="2.60" fill="#101040" stroke="none" stroke-width="1"/>
<circle cx="1347.53" cy="1556.66" r="2.60" fill="#101040" stroke="none" stroke-width="1"/>
<circle cx="1350.69" cy="1555.98" r="2.60" fill="#101040" stroke="none" stroke-width="1"/>
<circle cx="1353.84" cy="1557.24" r="2.60" fill="#101040" stroke="none" stroke-width="1"/>
<circle cx="1356.99" cy="1561.20" r="2.60" fill="#101040" stroke="none" stroke-width="1"/>
<circle cx="1360.14" cy="1560.91" r="2.60" fill="#101040" stroke="none" stroke-width="1"/>
<circle cx="1363.30" cy="1562.63" r="2.60" fill="#101040" stroke="none" stroke-width="1"/>
<circle cx="1366.45" cy="1564.66" r="2.60" fill="#101040" stroke="none" stroke-width="1"/>
<circle cx="1369.60" cy="1566.46" r="2.60" fill="#101040" stroke="none" stroke-width="1"/>
<circle cx="1372.75" cy="1567.69" r="2.60" fill="#101040" stroke="none" stroke-width="1"/>
<circle cx="1375.91" cy="1570.97" r="2.60" fill="#101040" stroke="none" stroke-width="1"/>
<circle cx="1379.06" cy="1570.59" r="2.60" fill="#101040" stroke="none" stroke-width="1"/>
<circle cx="1382.21" cy="1573.71" r="2.60" fill="#101040" stroke="none" stroke-width="1"/>
<circle cx="1385.36" cy="1573.95" r="2.60" fill="#101040" stroke="none" stroke-width="1"/>
<circle cx="1388.52" cy="1573.84" r="2.60" fill="#101040" stroke="none" stroke-width="1"/>
<circle cx="1391.67" cy="1575.19" r="2.60" fill="#101040" stroke="none" stroke-width="1"/>
<circle cx="1394.82" cy="1577.58" r="2.60" fill="#101040" stroke="none" stroke-width="1"/>
<circle cx="1397.98" cy="1575.18" r="2.60" fill="#101040" stroke="none" stroke-width="1"/>
<circle cx="1401.13" cy="1577.10" r="2.60" fill="#101040" stroke="none" stroke-width="1"/>
<circle cx="1404.28" cy="1577.99" r="2.60" fill="#101040" stroke="none" stroke-width="1"/>
<circle cx="1407.43" cy="1581.13" r="2.60" fill="#101040" stroke="none" stroke-width="1"/>
<circle cx="1410.59" cy="1579.14" r="2.60" fill="#101040" stroke="none" stroke-width="1"/>
<circle cx="1413.74" cy="1580.94" r="2.60" fill="#101040" stroke="none" stroke-width="1"/>
<circle cx="1416.89" cy="1579.46" r="2.60" fill="#101040" stroke="none" stroke-width="1"/>
<circle cx="1420.04" cy="1580.86" r="2.60" fill="#101040" stroke="none" stroke-width="1"/>
<circle cx="1423.20" cy="1579.69" r="2.60" fill="#101040" stroke="none" stroke-width="1"/>
<circle cx="1426.35" cy="1580.92" r="2.60" fill="#101040" stroke="none" stroke-width="1"/>
<circle cx="1429.50" cy="1580.68" r="2.60" fill="#101040" stroke="none" stroke-width="1"/>
<circle cx="1432.65" cy="1583.18" r="2.60" fill="#101040" stroke="none" stroke-width="1"/>
<circle cx="1435.81" cy="1582.27" r="2.60" fill="#101040" stroke="none" stroke-width="1"/>
<circle cx="1438.96" cy="1582.29" r="2.60" fill="#101040" stroke="none" stroke-width="1"/>
<circle cx="1442.11" cy="1582.33" r="2.60" fill="#101040" stroke="none" stroke-width="1"/>
<circle cx="1445.27" cy="1584.96" r="2.60" fill="#101040" stroke="none" stroke-width="1"/>
<circle cx="1448.42" cy="1583.16" r="2.60" fill="#101040" stroke="none" stroke-width="1"/>
<circle cx="1451.57" cy="1583.48" r="2.60" fill="#101040" stroke="none" stroke-width="1"/>
<circle cx="1454.72" cy="1584.76" r="2.60" fill="#101040" stroke="none" stroke-width="1"/>
<circle cx="1457.88" cy="1583.70" r="2.60" fill="#101040" stroke="none" stroke-width="1"/>
<circle cx="1461.03" cy="1584.02" r="2.60" fill="#101040" stroke="none" stroke-width="1"/>
<circle cx="1464.18" cy="1586.25" r="2.60" fill="#101040" stroke="none" stroke-width="1"/>
<circle cx="1467.33" cy="1586.43" r="2.60" fill="#101040" stroke="none" stroke-width="1"/>
<text x="1312.70" y="1545.70" font-size="27" text-anchor="middle">1</text>
<text x="1390.10" y="1573.50" font-size="27" text-anchor="middle">2</text>
<circle cx="1307.90" cy="1462.20" r="6.20" fill="none" stroke="#ff2020" stroke-width="1.4"/>
<text x="1323.60" y="1469.50" font-size="19.5" fill="#ff2020">Ctrl</text>
<circle cx="1306.70" cy="1488.80" r="7.00" fill="#1a1aff" stroke="none" stroke-width="1"/>
<text x="1322.40" y="1495.60" font-size="19.5" fill="#1a1aff">EPA:DHA (1:2)</text>
<text transform="translate(1543.50 1420.50) scale(1 1.07)" font-size="41">q</text>
<line x1="1647.80" y1="1455.10" x2="1647.80" y2="1715.00" stroke="#000" stroke-width="4.2"/>
<line x1="1638.80" y1="1457.20" x2="1649.90" y2="1457.20" stroke="#000" stroke-width="4.2"/>
<text x="1630.00" y="1466.14" font-size="26" text-anchor="end">180</text>
<line x1="1638.80" y1="1514.65" x2="1649.90" y2="1514.65" stroke="#000" stroke-width="4.2"/>
<text x="1630.00" y="1523.59" font-size="26" text-anchor="end">160</text>
<line x1="1638.80" y1="1572.10" x2="1649.90" y2="1572.10" stroke="#000" stroke-width="4.2"/>
<text x="1630.00" y="1581.04" font-size="26" text-anchor="end">140</text>
<line x1="1638.80" y1="1629.55" x2="1649.90" y2="1629.55" stroke="#000" stroke-width="4.2"/>
<text x="1630.00" y="1638.49" font-size="26" text-anchor="end">120</text>
<line x1="1638.80" y1="1687.00" x2="1649.90" y2="1687.00" stroke="#000" stroke-width="4.2"/>
<text x="1630.00" y="1695.94" font-size="26" text-anchor="end">100</text>
<line x1="1640.60" y1="1715.00" x2="1902.00" y2="1715.00" stroke="#000" stroke-width="4"/>
<line x1="1673.00" y1="1715.00" x2="1673.00" y2="1723.00" stroke="#000" stroke-width="4"/>
<line x1="1723.30" y1="1715.00" x2="1723.30" y2="1723.00" stroke="#000" stroke-width="4"/>
<line x1="1773.70" y1="1715.00" x2="1773.70" y2="1723.00" stroke="#000" stroke-width="4"/>
<line x1="1824.30" y1="1715.00" x2="1824.30" y2="1723.00" stroke="#000" stroke-width="4"/>
<line x1="1874.90" y1="1715.00" x2="1874.90" y2="1723.00" stroke="#000" stroke-width="4"/>
<text x="1673.00" y="1754.60" font-size="27.7" text-anchor="middle">Ctrl</text>
<text x="1723.30" y="1754.60" font-size="27.7" text-anchor="middle">500</text>
<text x="1773.70" y="1754.60" font-size="27.7" text-anchor="middle">100</text>
<text x="1824.30" y="1754.60" font-size="27.7" text-anchor="middle">250</text>
<text x="1874.90" y="1754.60" font-size="27.7" text-anchor="middle">500</text>
<text x="1563.65" y="1584.30" font-size="25.1" text-anchor="middle" transform="rotate(-90 1563.65 1584.30)">Potentiation (%)</text>
<text x="1655.20" y="1779.00" font-size="21" text-anchor="end">RS (nM)</text>
<text x="1673.00" y="1783.71" font-size="29.8" text-anchor="middle">−</text>
<text x="1723.30" y="1783.01" font-size="27.7" text-anchor="middle">+</text>
<text x="1773.70" y="1783.01" font-size="27.7" text-anchor="middle">+</text>
<text x="1824.30" y="1783.01" font-size="27.7" text-anchor="middle">+</text>
<text x="1874.90" y="1783.01" font-size="27.7" text-anchor="middle">+</text>
<text x="1655.20" y="1805.60" font-size="21" text-anchor="end">EPA:DHA (1:2)</text>
<text x="1673.00" y="1809.81" font-size="29.8" text-anchor="middle">−</text>
<text x="1723.30" y="1809.81" font-size="29.8" text-anchor="middle">−</text>
<text x="1773.70" y="1809.11" font-size="27.7" text-anchor="middle">+</text>
<text x="1824.30" y="1809.11" font-size="27.7" text-anchor="middle">+</text>
<text x="1874.90" y="1809.11" font-size="27.7" text-anchor="middle">+</text>
<line x1="1673.00" y1="1464.96" x2="1673.00" y2="1491.67" stroke="#000" stroke-width="3.8"/>
<line x1="1665.00" y1="1464.96" x2="1681.00" y2="1464.96" stroke="#000" stroke-width="3.8"/>
<line x1="1673.00" y1="1543.38" x2="1673.00" y2="1557.16" stroke="#000" stroke-width="3.8"/>
<line x1="1665.00" y1="1557.16" x2="1681.00" y2="1557.16" stroke="#000" stroke-width="3.8"/>
<rect x="1657.00" y="1491.67" width="32.00" height="51.70" fill="#ff0000" stroke="#000" stroke-width="3.8"/>
<line x1="1657.00" y1="1525.57" x2="1689.00" y2="1525.57" stroke="#000" stroke-width="3.8"/>
<line x1="1723.30" y1="1477.88" x2="1723.30" y2="1491.67" stroke="#000" stroke-width="3.8"/>
<line x1="1715.30" y1="1477.88" x2="1731.30" y2="1477.88" stroke="#000" stroke-width="3.8"/>
<line x1="1723.30" y1="1543.38" x2="1723.30" y2="1587.32" stroke="#000" stroke-width="3.8"/>
<line x1="1715.30" y1="1587.32" x2="1731.30" y2="1587.32" stroke="#000" stroke-width="3.8"/>
<rect x="1707.30" y="1491.67" width="32.00" height="51.70" fill="#0000ff" stroke="#000" stroke-width="3.8"/>
<line x1="1707.30" y1="1517.81" x2="1739.30" y2="1517.81" stroke="#000" stroke-width="3.8"/>
<line x1="1773.70" y1="1491.67" x2="1773.70" y2="1493.39" stroke="#000" stroke-width="3.8"/>
<line x1="1765.70" y1="1491.67" x2="1781.70" y2="1491.67" stroke="#000" stroke-width="3.8"/>
<line x1="1773.70" y1="1574.40" x2="1773.70" y2="1576.12" stroke="#000" stroke-width="3.8"/>
<line x1="1765.70" y1="1576.12" x2="1781.70" y2="1576.12" stroke="#000" stroke-width="3.8"/>
<rect x="1757.70" y="1493.39" width="32.00" height="81.00" fill="#c8c400" stroke="#000" stroke-width="3.8"/>
<line x1="1757.70" y1="1512.64" x2="1789.70" y2="1512.64" stroke="#000" stroke-width="3.8"/>
<line x1="1824.30" y1="1516.66" x2="1824.30" y2="1544.52" stroke="#000" stroke-width="3.8"/>
<line x1="1816.30" y1="1516.66" x2="1832.30" y2="1516.66" stroke="#000" stroke-width="3.8"/>
<rect x="1808.30" y="1544.52" width="32.00" height="56.88" fill="#ffbfe0" stroke="#000" stroke-width="3.8"/>
<line x1="1808.30" y1="1584.74" x2="1840.30" y2="1584.74" stroke="#000" stroke-width="3.8"/>
<line x1="1874.90" y1="1619.50" x2="1874.90" y2="1635.87" stroke="#000" stroke-width="3.8"/>
<line x1="1866.90" y1="1619.50" x2="1882.90" y2="1619.50" stroke="#000" stroke-width="3.8"/>
<line x1="1874.90" y1="1668.62" x2="1874.90" y2="1682.98" stroke="#000" stroke-width="3.8"/>
<line x1="1866.90" y1="1682.98" x2="1882.90" y2="1682.98" stroke="#000" stroke-width="3.8"/>
<rect x="1858.90" y="1635.87" width="32.00" height="32.75" fill="#5c0050" stroke="#000" stroke-width="3.8"/>
<line x1="1858.90" y1="1653.10" x2="1890.90" y2="1653.10" stroke="#000" stroke-width="3.8"/>
<path d="M1671.50,1450.10 V1431.10 H1869.90 V1586.70" stroke="#5a5a5a" stroke-width="1.1" fill="none"/>
<text x="1768.40" y="1437.39" font-size="38.43" text-anchor="middle">*</text>
<text x="1789.60" y="1437.39" font-size="38.43" text-anchor="middle">*</text>
</svg></body></html>
